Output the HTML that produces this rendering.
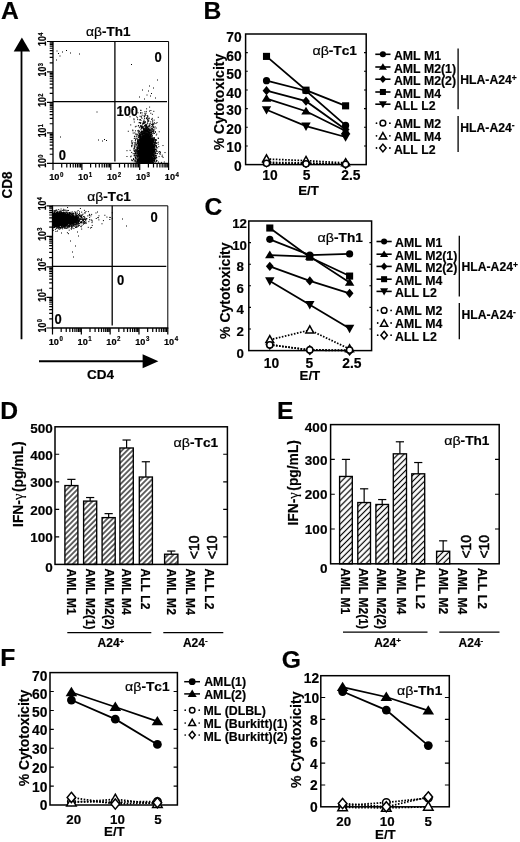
<!DOCTYPE html>
<html><head><meta charset="utf-8"><title>Figure</title>
<style>html,body{margin:0;padding:0;background:#fff}svg{display:block;will-change:transform}text{font-family:"Liberation Sans", sans-serif;fill:#000;font-kerning:none;stroke:#000;stroke-width:.18px}</style></head><body>
<svg width="520" height="842" viewBox="0 0 520 842">
<rect width="520" height="842" fill="#fff"/>
<defs><pattern id="h1" width="3.8" height="3.8" patternUnits="userSpaceOnUse" patternTransform="rotate(-45)"><rect width="3.8" height="3.8" fill="#fff"/><line x1="-1" y1="1.9" x2="4.8" y2="1.9" stroke="#000" stroke-width="1.2"/></pattern><pattern id="h2" width="4.2" height="4.2" patternUnits="userSpaceOnUse" patternTransform="rotate(-45)"><rect width="4.2" height="4.2" fill="#fff"/><line x1="-1" y1="2.1" x2="5.2" y2="2.1" stroke="#000" stroke-width="1.2"/></pattern></defs>
<text transform="translate(0.9 19.4) scale(1.02 1)" font-size="24.2" font-weight="bold">A</text>
<text transform="translate(203.4 18.5) scale(1.02 1)" font-size="24.2" font-weight="bold">B</text>
<text transform="translate(204.6 215) scale(1.02 1)" font-size="24.2" font-weight="bold">C</text>
<text transform="translate(0.2 418.9) scale(1.02 1)" font-size="24.2" font-weight="bold">D</text>
<text transform="translate(276.9 418.9) scale(1.02 1)" font-size="24.2" font-weight="bold">E</text>
<text transform="translate(0.2 666.4) scale(1.02 1)" font-size="24.2" font-weight="bold">F</text>
<text transform="translate(281.8 667.5) scale(1.02 1)" font-size="24.2" font-weight="bold">G</text>
<line x1="53" y1="41.5" x2="168.6" y2="41.5" stroke="#000" stroke-width="1"/>
<line x1="168.6" y1="41.5" x2="168.6" y2="163.4" stroke="#000" stroke-width="1"/>
<line x1="53" y1="41" x2="53" y2="164.05" stroke="#000" stroke-width="1.3"/>
<line x1="52.35" y1="163.4" x2="169.1" y2="163.4" stroke="#000" stroke-width="1.3"/>
<line x1="114.9" y1="41.5" x2="114.9" y2="161.6" stroke="#000" stroke-width="1.3"/>
<line x1="53" y1="101.6" x2="167" y2="101.6" stroke="#000" stroke-width="1.25"/>
<path d="M53 163.4v6.6M53 163.4h-6M61.7 163.4v4M53 154.23h-3.3M66.79 163.4v4M53 148.86h-3.3M70.4 163.4v4M53 145.05h-3.3M73.2 163.4v4M53 142.1h-3.3M75.49 163.4v4M53 139.69h-3.3M77.42 163.4v4M53 137.65h-3.3M79.1 163.4v4M53 135.88h-3.3M80.58 163.4v4M53 134.32h-3.3M81.9 163.4v6.6M53 132.93h-6M90.6 163.4v4M53 123.75h-3.3M95.69 163.4v4M53 118.38h-3.3M99.3 163.4v4M53 114.58h-3.3M102.1 163.4v4M53 111.62h-3.3M104.39 163.4v4M53 109.21h-3.3M106.32 163.4v4M53 107.17h-3.3M108 163.4v4M53 105.4h-3.3M109.48 163.4v4M53 103.84h-3.3M110.8 163.4v6.6M53 102.45h-6M119.5 163.4v4M53 93.28h-3.3M124.59 163.4v4M53 87.91h-3.3M128.2 163.4v4M53 84.1h-3.3M131 163.4v4M53 81.15h-3.3M133.29 163.4v4M53 78.74h-3.3M135.22 163.4v4M53 76.7h-3.3M136.9 163.4v4M53 74.93h-3.3M138.38 163.4v4M53 73.37h-3.3M139.7 163.4v6.6M53 71.97h-6M148.4 163.4v4M53 62.8h-3.3M153.49 163.4v4M53 57.43h-3.3M157.1 163.4v4M53 53.63h-3.3M159.9 163.4v4M53 50.67h-3.3M162.19 163.4v4M53 48.26h-3.3M164.12 163.4v4M53 46.22h-3.3M165.8 163.4v4M53 44.45h-3.3M167.28 163.4v4M53 42.89h-3.3M168.6 163.4v6.6M53 41.5h-6" stroke="#000" stroke-width="1.2" fill="none"/>
<text transform="translate(49.2 180.3) scale(0.96 1)" font-size="9.6" font-weight="bold">10<tspan font-size="6.4" dy="-3.7" dx="0.5">0</tspan></text>
<text transform="translate(46 167.8) rotate(-90) scale(0.86 1)" font-size="10" font-weight="bold">10<tspan font-size="6.6" dy="-3.4" dx="0.6">0</tspan></text>
<text transform="translate(78.1 180.3) scale(0.96 1)" font-size="9.6" font-weight="bold">10<tspan font-size="6.4" dy="-3.7" dx="0.5">1</tspan></text>
<text transform="translate(46 137.33) rotate(-90) scale(0.86 1)" font-size="10" font-weight="bold">10<tspan font-size="6.6" dy="-3.4" dx="0.6">1</tspan></text>
<text transform="translate(107 180.3) scale(0.96 1)" font-size="9.6" font-weight="bold">10<tspan font-size="6.4" dy="-3.7" dx="0.5">2</tspan></text>
<text transform="translate(46 106.85) rotate(-90) scale(0.86 1)" font-size="10" font-weight="bold">10<tspan font-size="6.6" dy="-3.4" dx="0.6">2</tspan></text>
<text transform="translate(135.9 180.3) scale(0.96 1)" font-size="9.6" font-weight="bold">10<tspan font-size="6.4" dy="-3.7" dx="0.5">3</tspan></text>
<text transform="translate(46 76.38) rotate(-90) scale(0.86 1)" font-size="10" font-weight="bold">10<tspan font-size="6.6" dy="-3.4" dx="0.6">3</tspan></text>
<text transform="translate(164.8 180.3) scale(0.96 1)" font-size="9.6" font-weight="bold">10<tspan font-size="6.4" dy="-3.7" dx="0.5">4</tspan></text>
<text transform="translate(46 45.9) rotate(-90) scale(0.86 1)" font-size="10" font-weight="bold">10<tspan font-size="6.6" dy="-3.4" dx="0.6">4</tspan></text>
<text transform="translate(86 36.2) scale(1.12 1)" font-size="12" font-weight="bold"><tspan font-weight="normal" font-size="12.4">αβ</tspan>-Th1</text>
<line x1="52.5" y1="205.8" x2="167.8" y2="205.8" stroke="#000" stroke-width="1"/>
<line x1="167.8" y1="205.8" x2="167.8" y2="328" stroke="#000" stroke-width="1"/>
<line x1="52.5" y1="205.3" x2="52.5" y2="328.65" stroke="#000" stroke-width="1.3"/>
<line x1="51.85" y1="328" x2="168.3" y2="328" stroke="#000" stroke-width="1.3"/>
<line x1="112.2" y1="205.8" x2="112.2" y2="325.4" stroke="#000" stroke-width="1.3"/>
<line x1="52.5" y1="266.3" x2="166.3" y2="266.3" stroke="#000" stroke-width="1.25"/>
<path d="M52.5 328v6.6M52.5 328h-6M61.18 328v4M52.5 318.8h-3.3M66.25 328v4M52.5 313.42h-3.3M69.85 328v4M52.5 309.61h-3.3M72.65 328v4M52.5 306.65h-3.3M74.93 328v4M52.5 304.23h-3.3M76.86 328v4M52.5 302.18h-3.3M78.53 328v4M52.5 300.41h-3.3M80.01 328v4M52.5 298.85h-3.3M81.33 328v6.6M52.5 297.45h-6M90 328v4M52.5 288.25h-3.3M95.08 328v4M52.5 282.87h-3.3M98.68 328v4M52.5 279.06h-3.3M101.47 328v4M52.5 276.1h-3.3M103.76 328v4M52.5 273.68h-3.3M105.68 328v4M52.5 271.63h-3.3M107.36 328v4M52.5 269.86h-3.3M108.83 328v4M52.5 268.3h-3.3M110.15 328v6.6M52.5 266.9h-6M118.83 328v4M52.5 257.7h-3.3M123.9 328v4M52.5 252.32h-3.3M127.5 328v4M52.5 248.51h-3.3M130.3 328v4M52.5 245.55h-3.3M132.58 328v4M52.5 243.13h-3.3M134.51 328v4M52.5 241.08h-3.3M136.18 328v4M52.5 239.31h-3.3M137.66 328v4M52.5 237.75h-3.3M138.98 328v6.6M52.5 236.35h-6M147.65 328v4M52.5 227.15h-3.3M152.73 328v4M52.5 221.77h-3.3M156.33 328v4M52.5 217.96h-3.3M159.12 328v4M52.5 215h-3.3M161.41 328v4M52.5 212.58h-3.3M163.33 328v4M52.5 210.53h-3.3M165.01 328v4M52.5 208.76h-3.3M166.48 328v4M52.5 207.2h-3.3M167.8 328v6.6M52.5 205.8h-6" stroke="#000" stroke-width="1.2" fill="none"/>
<text transform="translate(48.7 344.9) scale(0.96 1)" font-size="9.6" font-weight="bold">10<tspan font-size="6.4" dy="-3.7" dx="0.5">0</tspan></text>
<text transform="translate(45.5 332.4) rotate(-90) scale(0.86 1)" font-size="10" font-weight="bold">10<tspan font-size="6.6" dy="-3.4" dx="0.6">0</tspan></text>
<text transform="translate(77.53 344.9) scale(0.96 1)" font-size="9.6" font-weight="bold">10<tspan font-size="6.4" dy="-3.7" dx="0.5">1</tspan></text>
<text transform="translate(45.5 301.85) rotate(-90) scale(0.86 1)" font-size="10" font-weight="bold">10<tspan font-size="6.6" dy="-3.4" dx="0.6">1</tspan></text>
<text transform="translate(106.35 344.9) scale(0.96 1)" font-size="9.6" font-weight="bold">10<tspan font-size="6.4" dy="-3.7" dx="0.5">2</tspan></text>
<text transform="translate(45.5 271.3) rotate(-90) scale(0.86 1)" font-size="10" font-weight="bold">10<tspan font-size="6.6" dy="-3.4" dx="0.6">2</tspan></text>
<text transform="translate(135.18 344.9) scale(0.96 1)" font-size="9.6" font-weight="bold">10<tspan font-size="6.4" dy="-3.7" dx="0.5">3</tspan></text>
<text transform="translate(45.5 240.75) rotate(-90) scale(0.86 1)" font-size="10" font-weight="bold">10<tspan font-size="6.6" dy="-3.4" dx="0.6">3</tspan></text>
<text transform="translate(164 344.9) scale(0.96 1)" font-size="9.6" font-weight="bold">10<tspan font-size="6.4" dy="-3.7" dx="0.5">4</tspan></text>
<text transform="translate(45.5 210.2) rotate(-90) scale(0.86 1)" font-size="10" font-weight="bold">10<tspan font-size="6.6" dy="-3.4" dx="0.6">4</tspan></text>
<text transform="translate(87.2 201.4) scale(1.12 1)" font-size="12" font-weight="bold"><tspan font-weight="normal" font-size="12.4">αβ</tspan>-Tc1</text>
<text transform="translate(154.4 61.5) scale(0.93 1)" font-size="14" font-weight="bold">0</text>
<text transform="translate(116.4 116.2) scale(0.93 1)" font-size="14" font-weight="bold">100</text>
<text transform="translate(58.8 160.1) scale(0.93 1)" font-size="14" font-weight="bold">0</text>
<text transform="translate(150.4 222.1) scale(0.93 1)" font-size="14" font-weight="bold">0</text>
<text transform="translate(117 284.6) scale(0.93 1)" font-size="14" font-weight="bold">0</text>
<text transform="translate(54.5 324.3) scale(0.93 1)" font-size="14" font-weight="bold">0</text>
<path d="M144.8 147.65h1M147.47 138.59h1M143.57 148.79h1M143.43 145.34h1M153.27 146.94h1M151.03 159.8h1M145.96 151.16h1M146.7 159.2h1M148.6 146h1M150.46 144.11h1M149.53 153.13h1M140.54 139.79h1M146.67 152.14h1M146.49 143.99h1M150.88 152.17h1M149.06 156.63h1M137.79 126.01h1M144.15 149.12h1M152.11 160.77h1M143.89 148.9h1M143.5 153.41h1M147.46 161.87h1M158.27 152.17h1M141.62 158.54h1M143.35 157.64h1M146.08 155.78h1M146.78 141.03h1M147.64 153.85h1M145.6 155.6h1M150.84 132.86h1M142.82 157.54h1M142.36 158.25h1M136.36 145.71h1M138.34 154.52h1M142.24 154.4h1M147.78 151.76h1M140.66 153.96h1M146.07 143.25h1M141.45 152.14h1M146.9 158.47h1M136.4 136.94h1M144.82 156.49h1M139.59 134.5h1M141.81 161.9h1M140.5 157.73h1M146.72 146.93h1M147.07 153.48h1M142.66 146.84h1M146.89 143.23h1M150.86 147.3h1M145.87 152.12h1M146.56 143.42h1M145.55 146.46h1M149.52 143.95h1M150.78 146.18h1M142.01 139.84h1M139.56 141.31h1M145.69 158.05h1M148.56 162.49h1M143.02 143.69h1M148.96 148.88h1M145.56 148.14h1M145.8 141.19h1M148.21 146.89h1M148.93 132.86h1M141.87 156.52h1M145.51 145.94h1M136.61 149.28h1M143.06 155.4h1M140.85 117.19h1M140.4 152.3h1M149.79 145.05h1M148.42 132.83h1M148.29 153.92h1M149.51 156.11h1M143.64 141.11h1M143.17 159.6h1M142.01 134.5h1M142.77 155.51h1M146.47 134.29h1M145.8 144.75h1M141.08 140.98h1M148.79 154.18h1M147.29 150.11h1M149.54 151.39h1M152.72 149.3h1M141.71 152.39h1M148.92 160.54h1M145.09 155.19h1M149.16 151.93h1M146.33 133.41h1M154.06 151.55h1M145.15 162.14h1M153.41 137.9h1M145.72 142.01h1M148.7 137.62h1M146.06 150.05h1M142.68 160.55h1M147.88 162.55h1M146.2 143.52h1M139.49 140.26h1M143.41 132.95h1M145.47 148.52h1M141.98 148.87h1M143.72 150.4h1M145.46 158.26h1M149.87 152.77h1M149.43 148.56h1M143.3 152.59h1M151.77 141.35h1M143.54 151.13h1M147.38 153.51h1M149.23 159.47h1M139.48 153.44h1M141.61 149.79h1M144.03 161.4h1M146.46 152.08h1M144.85 150.08h1M148.21 146.24h1M139.17 151.65h1M136.81 161.13h1M141.05 155.2h1M146.98 157.73h1M148.34 159.01h1M144.53 153.32h1M145.06 160.88h1M146.02 159.11h1M143.23 150.9h1M143.97 159.16h1M145.53 140.18h1M140.83 156.04h1M138.58 156.23h1M151.98 153.29h1M149.46 159.6h1M147.39 155.07h1M147.77 152.19h1M150.7 154.18h1M143.88 153.48h1M144.42 147.04h1M147.55 149.56h1M142.39 155.27h1M150.75 151.16h1M147.58 162.64h1M143.05 143.14h1M146.33 146.06h1M144.07 151.1h1M144.54 154.86h1M145.53 143.73h1M148.25 161.81h1M148.08 138.68h1M142.65 161.94h1M148.4 145.67h1M144.41 147.71h1M139.06 147.47h1M147.27 144.39h1M139.5 151.05h1M144.17 149.8h1M149.68 143.89h1M150.36 146.73h1M144.63 139.57h1M143.98 153.76h1M145.14 151.85h1M138.41 162.57h1M153.67 148.53h1M142.57 155.57h1M151.22 153.56h1M145.17 138.94h1M150.39 156.75h1M153.09 151.8h1M148.51 144.29h1M154.28 149.63h1M142.95 159.25h1M148.44 143.71h1M142.21 155.23h1M140.87 145.06h1M143.76 148.15h1M142.01 152.85h1M142.33 150.12h1M147.3 158.67h1M143.42 136.02h1M143.39 150.27h1M144.15 146.03h1M141.99 160.92h1M152.44 150.27h1M150.32 143.7h1M150.55 149.99h1M141.8 148.79h1M143.12 146.94h1M144.06 140.96h1M144.47 158.4h1M142.74 151.64h1M142.76 149.63h1M148.87 151.36h1M146.64 160.67h1M148.41 152.47h1M149.15 148.17h1M141.62 155.3h1M140.09 147.43h1M150.66 145.34h1M146.58 155.5h1M150 157.68h1M143.38 153.53h1M146.81 123.26h1M143.35 156.29h1M141.04 152.52h1M142.38 148.9h1M135.29 152.15h1M145 157.13h1M142.67 148.97h1M145.08 150.84h1M151.28 153.18h1M147.98 148.3h1M143.67 147.05h1M150.44 150.19h1M145.07 151.56h1M151.18 153.46h1M142.3 146.05h1M147.95 142.74h1M150.53 146.74h1M144.6 160.76h1M143.86 140.43h1M147.43 150.6h1M141.85 162.01h1M138.48 160.52h1M148.04 152.74h1M149.59 146.7h1M149.92 157.63h1M145.95 148.83h1M144.23 154.25h1M146.45 149.6h1M142.11 156.82h1M138.81 143.17h1M141.5 152.22h1M151.2 143.78h1M143.35 152.16h1M136.16 148.12h1M141.46 161h1M146.53 159.71h1M145.6 142.68h1M145.85 149.83h1M140.27 155.91h1M145.48 149.17h1M149.27 155.47h1M143.09 139.78h1M149.66 131.7h1M141.38 150.25h1M147.27 144.45h1M144.68 143.04h1M148.1 153.92h1M144.31 144.91h1M151.04 141.4h1M141.4 153.87h1M144.85 156.83h1M142.2 161.19h1M147.24 134.2h1M140.88 152.48h1M144.59 152.71h1M143.33 160.78h1M140.68 138.98h1M147.41 155.88h1M141.43 149.01h1M148.74 147.97h1M144.99 141.87h1M153.44 159.65h1M142.14 145.88h1M141.79 151.59h1M144.56 148.96h1M147.49 148.89h1M144.04 160.68h1M147.35 144.72h1M147.16 150.79h1M145.01 151.18h1M135.62 157.55h1M146.23 150.5h1M145.9 145.34h1M144.44 147.74h1M140.55 152.42h1M142.15 149.94h1M144.87 148.39h1M143.68 132.05h1M145.15 153.42h1M144.23 138.24h1M145.77 142.89h1M142.1 143.48h1M149.07 137.99h1M141.11 136.62h1M135.41 143.87h1M150.05 153.65h1M142.22 155.62h1M147.1 159.89h1M143.9 143.8h1M146.96 136.75h1M140.8 148.92h1M147.83 149.24h1M145.83 145.26h1M144.72 141.25h1M150.86 134.46h1M150.87 150.85h1M144.09 148.71h1M148.98 141.8h1M152.41 141.53h1M140.1 154.06h1M144.12 156.52h1M144.25 152.01h1M147.08 155.73h1M146.34 154.28h1M150.76 152.65h1M136.77 153.53h1M142.03 155.56h1M143.73 135.38h1M149.68 145.86h1M149.2 143.7h1M145.15 150.42h1M147.18 137h1M146.72 142.03h1M143.9 151.61h1M147 146.08h1M144.09 159.63h1M153.9 146.81h1M151.1 140.04h1M145.19 145.86h1M148.33 147.3h1M153.76 149.67h1M145.07 148.57h1M141.97 141.76h1M146.88 152.49h1M150.68 147.09h1M140.1 157.36h1M145.04 152.1h1M142.81 151.58h1M146 161.49h1M139.77 159.11h1M141.02 147.59h1M155.79 135.06h1M142.91 159.37h1M142.67 150.76h1M148.08 153.56h1M141.09 161.38h1M148 141.56h1M149.58 135.09h1M148.21 132.86h1M142.44 136.37h1M142.06 161.26h1M151.5 149.91h1M145.97 147.36h1M150.22 153.05h1M148.08 156.24h1M143.5 148.27h1M145.39 143.8h1M141.17 150h1M144.94 147.19h1M141.08 141.05h1M149.91 157.81h1M148.07 154.76h1M150.51 148.83h1M149.36 160.9h1M143.91 146.51h1M142.17 141.08h1M142.89 131.29h1M150.38 130.14h1M147.38 147.35h1M146.05 144.86h1M149.55 140.81h1M141.17 151.31h1M144.57 130.89h1M150.7 157.44h1M139.32 145.8h1M141.6 138.63h1M150.44 145.45h1M144.99 135.18h1M136.05 162.14h1M141.57 151.72h1M151.84 145.75h1M147.45 161.19h1M146.19 146h1M143.49 158.11h1M143.75 153.08h1M146.01 154.83h1M140.5 137.88h1M154.08 151.29h1M147.8 140.76h1M144.86 159.68h1M142.02 149.52h1M141.79 150.64h1M154.23 150.58h1M145.89 144.79h1M152.69 140.91h1M139.43 131.82h1M142.58 141.14h1M147.76 144.12h1M146.01 150.09h1M160.92 162.39h1M144.61 149.33h1M148.93 131.18h1M144.18 146h1M146.11 159.77h1M142.88 146.42h1M150.81 142.2h1M145.01 148.24h1M147.33 155.78h1M149.27 156.63h1M147.68 142.62h1M146.99 141.26h1M145.56 146.43h1M151.12 160.02h1M147.81 152.79h1M147.38 150.33h1M146.36 152.22h1M143.05 146.63h1M143.4 153.08h1M157.99 162.08h1M149.34 150.49h1M141.8 160.41h1M141.24 139.53h1M141.29 138.55h1M142.09 155.88h1M140.27 140.09h1M147.36 149.87h1M139.41 157.8h1M142.74 162.54h1M143.59 140.07h1M143.21 153.52h1M145.48 140.5h1M146.51 150.05h1M146.66 151.76h1M150.4 136.73h1M150.62 132.93h1M148.92 156.02h1M139.64 148.51h1M139.55 146.27h1M146.76 150.18h1M146.94 136.39h1M144.05 162.14h1M147.27 157.82h1M144.48 156.7h1M136.91 156.41h1M145.86 152.95h1M147.51 146.54h1M152.88 155.91h1M153.67 143.7h1M144.64 155.67h1M148.57 144.52h1M146.1 155.87h1M148.05 140.84h1M141.46 145.77h1M139.75 153.35h1M147.73 140.58h1M147.16 143h1M138.01 131.95h1M147.57 148.69h1M142.05 132.91h1M144.74 158.04h1M147.19 160.58h1M143.25 140.81h1M144.19 153.21h1M147.8 154.06h1M141.48 151.93h1M151.03 145.43h1M138.73 159.04h1M142.04 162.75h1M148.17 141.55h1M139.44 150.12h1M147.39 156.19h1M144.89 157.92h1M142.93 159.08h1M146.02 135.1h1M144.36 154.94h1M147.29 156.35h1M147.83 147.96h1M147.81 152.27h1M145.92 140.2h1M144.42 157.84h1M142.77 142.63h1M146.3 135.97h1M143.57 162.16h1M147.15 147.44h1M142.02 142.49h1M145.28 159.58h1M138.04 145.38h1M151.09 156.48h1M151.5 145.81h1M147.65 156.11h1M144.56 151.94h1M148.96 149.13h1M145.93 140.64h1M138.3 146.32h1M141.85 159.06h1M145.91 139.53h1M146.1 162.33h1M143.73 139.88h1M143.1 144.83h1M148.51 145.25h1M143.17 155.43h1M149.25 139.42h1M148.53 140.96h1M145.38 130.91h1M154.57 157.68h1M147.82 156.36h1M151.41 149.96h1M150.53 141.11h1M142.63 155.42h1M144.31 153.08h1M138.77 160.82h1M148.05 151.58h1M146.7 141.82h1M140.38 152.94h1M143.65 151.27h1M146.07 138.16h1M152.26 158.74h1M141.81 150.34h1M143.18 159.47h1M142.77 147.47h1M150.36 143.75h1M147.56 157.76h1M140.19 149.65h1M146.4 144.97h1M147.95 137.05h1M147.73 152.51h1M146.52 144.22h1M146.04 144.62h1M140.72 157.41h1M134.1 147.86h1M148.08 150.01h1M146.08 141.94h1M150.66 148.81h1M139.02 141.09h1M149.85 150.51h1M153.64 158.32h1M144.66 157.7h1M141.9 151.89h1M148.24 141.3h1M143.05 141.81h1M143.06 151.39h1M147.66 157.78h1M147 142.7h1M146.34 150.69h1M148.99 143.81h1M145.4 144.44h1M142.81 133.85h1M145.2 160.04h1M141.15 133.09h1M143.65 159.18h1M144.08 160.65h1M143.75 137.83h1M146.1 156.45h1M146.2 146.05h1M147.33 149.91h1M146.1 148.79h1M146.58 151.15h1M141.93 124.91h1M149.51 157.62h1M143.55 151.04h1M142.14 146.24h1M152.74 146.47h1M142 155.4h1M148.33 146.43h1M142.12 137.42h1M154.57 144.05h1M142.41 160.21h1M147.6 150.54h1M148.03 144.33h1M151.41 129.27h1M153.17 160.22h1M147.72 150.36h1M147.57 161.33h1M152.08 151.98h1M140.96 128.1h1M145.97 149.35h1M143.5 137.05h1M139.99 141.33h1M146.33 156.21h1M143.84 139.44h1M143.58 154.83h1M145.23 156.71h1M146.83 148.48h1M147.95 144.73h1M139.77 142.86h1M145.17 152.17h1M146.54 148.65h1M143.33 144.53h1M144.66 156.72h1M146.52 152.34h1M146.09 135.99h1M149.68 160.33h1M144.53 156.8h1M143.51 150.91h1M144.4 137.25h1M144.97 142.28h1M141.38 143.27h1M148.36 147.51h1M151.53 145.26h1M146.73 140.06h1M142.94 151.85h1M141.89 144.07h1M147.16 134.96h1M145.11 144.16h1M147.15 131.62h1M146.15 160.55h1M144.57 144.05h1M143.84 156.11h1M148.56 137.62h1M143.59 151.32h1M143.29 141.58h1M149.1 136.98h1M141.81 161.92h1M152.78 155.26h1M146.2 152.2h1M144.53 153.11h1M138.64 148.21h1M149.43 140.18h1M142.19 153.27h1M141.64 141.55h1M144 135.37h1M151.32 148.81h1M141.68 155.7h1M142.08 143.69h1M148.54 156.87h1M143.69 155.11h1M143.55 158.97h1M142.87 158.18h1M146.97 155.39h1M145.87 160.99h1M141.97 141.35h1M148.9 138.17h1M145.66 159.45h1M148.9 141.34h1M152.82 155.16h1M145.69 133.48h1M140.26 148.92h1M149.06 155.07h1M145.66 143.43h1M145.31 151.57h1M145.41 146.71h1M150.42 153.68h1M143.91 157.41h1M151.03 140.87h1M148.8 151.52h1M144.64 151.78h1M146.78 146.51h1M147.72 145.57h1M141.92 152.86h1M140.66 141.87h1M149.26 157.24h1M142.79 140.97h1M139.38 139h1M144.14 138.29h1M141.86 154.4h1M148.7 152.75h1M139.34 159.61h1M147.72 157.87h1M149.21 147.09h1M139.87 158.91h1M144.04 159.42h1M151.13 153.05h1M142.1 145.9h1M152.79 146.13h1M150.49 151.52h1M139.79 155.7h1M145.49 139.22h1M150.96 153.39h1M145.5 139.77h1M143 147.77h1M134.41 159.85h1M146.42 160.88h1M150.62 147.41h1M143.36 140.48h1M147.53 134.73h1M147.14 155.74h1M147.9 143.55h1M140.6 150.3h1M153.52 156.21h1M143.64 157.73h1M144.98 143.21h1M139.76 155.81h1M145.64 159.83h1M147.24 144.55h1M153.6 127.27h1M144.16 140.72h1M139.01 153.76h1M146.18 141.06h1M144.89 157.97h1M146.22 159.49h1M144.05 150.61h1M144.04 142.48h1M142.38 152.03h1M144.65 142.34h1M150.36 136.68h1M143.91 140.8h1M148.96 128.96h1M144.3 158.72h1M146.22 146.24h1M141.76 145.49h1M148.54 142.19h1M144.49 148.64h1M146.87 152.77h1M142.15 145.15h1M140.6 159.4h1M146.36 154.84h1M149.32 143.92h1M142.48 141.19h1M145.66 154.57h1M149.84 159.42h1M143.14 159.08h1M145.51 146.34h1M148.27 148.09h1M147.62 156.3h1M146.31 139.97h1M146.4 148.02h1M144.56 155.79h1M145.6 157.85h1M150.43 143.26h1M142.4 139.18h1M144.58 162.58h1M147.62 148.55h1M146.16 152.03h1M145.14 147.68h1M151.44 138.48h1M139.81 149.28h1M139.08 159.6h1M149.18 141.9h1M142.64 144.98h1M153.65 137.57h1M142.28 155.87h1M147.55 148.34h1M145.29 141.01h1M140.13 147.65h1M151.76 159.86h1M145.6 156.51h1M149.11 161.91h1M143.83 128.71h1M142.23 152.11h1M150 142.05h1M145.83 137.66h1M143.91 148.2h1M145.96 150.4h1M140.15 140.89h1M151.29 151.21h1M144.91 162.7h1M144.61 154.94h1M140.67 147.44h1M147.36 160.37h1M142.32 161.18h1M143.64 148.49h1M147.6 155.97h1M152 124.44h1M147.87 145.97h1M138.94 152.97h1M144.9 148.99h1M142.37 147.82h1M150.62 135.41h1M144.01 149.22h1M146.21 138.17h1M145.8 136.48h1M149.33 148.48h1M148.5 150.57h1M143.7 157.82h1M153.09 160h1M143.05 147.33h1M144.92 160.05h1M144.19 152.13h1M144.12 153.92h1M140.54 145.8h1M147.66 148.68h1M145.24 153.36h1M147.16 147.74h1M145.2 138.59h1M145.72 156.31h1M155.8 147.71h1M142.54 155.76h1M143.62 146.32h1M137.73 143.2h1M142.96 162.12h1M156 157.63h1M151.26 148.83h1M148.08 131.14h1M143.64 143.69h1M147.6 148.24h1M152.45 160.38h1M141.8 155.02h1M148.25 158.36h1M149.33 141.9h1M151.46 155.84h1M142.65 144.81h1M147.45 148.74h1M152.28 154.02h1M141.12 156.17h1M145.61 143.76h1M141.31 145.62h1M144.44 137.68h1M147.56 143.1h1M145.6 149.95h1M142.97 152.77h1M146.76 145.3h1M151.32 151.58h1M144.42 140.74h1M141.72 154.38h1M146.34 141.64h1M139.03 144.71h1M143.81 152.28h1M147.72 130.44h1M140.97 153.15h1M143.99 157.77h1M150.19 154.61h1M144.38 162.63h1M151.76 143.87h1M147.06 155.33h1M139.48 154.42h1M142.09 143.7h1M148.14 144.72h1M149 158.9h1M146.65 148.87h1M149.3 140.7h1M146.17 152.19h1M138.69 149.8h1M147.91 145.22h1M145.95 161.69h1M148.14 135.9h1M145.28 143.23h1M148.73 160.47h1M146.15 149.36h1M143.65 160.62h1M145.1 162.37h1M147.22 147.51h1M147.96 154.29h1M153.92 147.52h1M149.27 157.48h1M141.97 161.35h1M145.11 146.47h1M146.38 148.55h1M146.3 155.31h1M144.35 153.95h1M139.38 155.65h1M140.6 149.4h1M151.46 146.81h1M148.15 152.28h1M144.35 152.25h1M149.32 153.28h1M146.62 142.29h1M146.23 145.98h1M143.37 161.06h1M146.97 135.98h1M149.95 147.4h1M150.21 147.91h1M149.74 153.68h1M147.59 142.68h1M141.94 150.21h1M143.47 152.1h1M147.9 146.89h1M151.38 159.01h1M146 159.55h1M146.64 136.89h1M145.61 160.16h1M135.48 150.29h1M139.53 145.63h1M149.9 160.63h1M147.76 129.17h1M140.57 142.21h1M147.1 145.88h1M138.9 152.16h1M141.63 133.44h1M145.8 155.21h1M147.56 137.71h1M143.48 151.05h1M143.62 148.76h1M148.45 138.74h1M147.29 140.2h1M141.18 131.16h1M151.15 149h1M146.64 145.72h1M142.27 155.36h1M143.45 159.16h1M143.19 153.11h1M149.65 162.22h1M142.05 137.45h1M147.67 147.46h1M145.57 150.98h1M141.2 146h1M147.82 162.61h1M142.23 153.08h1M140.31 152.7h1M145.38 145.04h1M145.18 157.33h1M152.04 150.23h1M140.33 148.55h1M143.47 159.37h1M149.47 154.15h1M154.18 161.66h1M147.27 141.58h1M146.73 156.9h1M147.99 131.63h1M143.6 142.06h1M142.78 139.82h1M152.2 154.41h1M144.43 149.71h1M151.73 154.68h1M147.4 146.67h1M142.97 145.83h1M141.15 152.91h1M140.81 153.67h1M141.08 160.33h1M144.35 151.52h1M149.84 161.27h1M142.07 159.07h1M143.79 136.13h1M143.6 160.05h1M151.91 160.67h1M142.42 154.93h1M146.55 143.18h1M140.49 132.81h1M147.11 151.6h1M151.81 148.45h1M148.99 126.23h1M146.91 155.75h1M148.13 156.49h1M144.89 159.19h1M147.55 152.03h1M150.94 147.73h1M149.09 139.07h1M148.12 142.09h1M143.39 138.71h1M143.34 158.91h1M142.67 156.89h1M149.79 155.13h1M143.18 153.07h1M152.93 154.32h1M150.51 152.57h1M146.81 151.25h1M146.01 150.08h1M146.57 152.38h1M140.16 157.1h1M142.99 149.18h1M143.39 158.36h1M144.11 150.3h1M141.91 160.72h1M141.45 146.98h1M140.41 156.97h1M141.75 139h1M144.12 140.53h1M148.58 154.28h1M145.84 159.47h1M148.01 150.92h1M143.71 139.01h1M144.51 148.16h1M147.19 148.58h1M149.6 146.33h1M146.59 154.28h1M145.94 155.19h1M145.88 148.15h1M143.36 130.27h1M150.39 150.58h1M141.85 133.35h1M151.55 154.97h1M148.83 152.3h1M149.16 150.34h1M145.1 144.82h1M148.07 136.24h1M139.63 135.96h1M140.57 153.03h1M143.55 120h1M141.18 138.83h1M143.65 144.14h1M142.76 150.69h1M143.33 139.91h1M146.88 154.96h1M142.38 138.88h1M143.51 146.67h1M143.4 146.7h1M149.18 153.13h1M145.29 157.09h1M144.51 149.01h1M145.09 146.56h1M140.15 137.79h1M144.65 143.77h1M148.84 160.5h1M146.54 147h1M142.03 136.05h1M136.92 151.58h1M143.01 151.51h1M144.35 151.01h1M147.54 151.09h1M147.08 152.64h1M141.44 152.55h1M146.6 142.61h1M153.83 160.38h1M143.13 150.92h1M150.94 156.03h1M141.81 157.53h1M148.15 162.07h1M141.03 152.24h1M145.59 139.47h1M142.69 138.32h1M151.83 138.52h1M142.04 145.51h1M154.97 149.3h1M143.3 143.35h1M146.02 140.15h1M145.06 154.42h1M141.08 144.75h1M148.01 151.6h1M150.96 154.33h1M141.76 151.2h1M149.23 153.54h1M142.43 142.51h1M138.46 154.87h1M145.06 160.49h1M146.9 138.16h1M147.51 138.79h1M144.91 160.13h1M153.88 149.68h1M145.84 155.95h1M149.05 145.55h1M143.23 153.51h1M145.32 143.81h1M147.72 150.35h1M146.86 127.55h1M139.04 138.83h1M147.65 143.09h1M152.85 141.96h1M143.46 159.59h1M144.51 144.89h1M145.52 149.98h1M144.48 162.78h1M145.95 146.33h1M147.64 151.3h1M147.83 146.98h1M138.73 152.83h1M150 146.79h1M151.72 145.31h1M144.27 154.82h1M145.56 144.37h1M145.81 144.31h1M145.44 148.61h1M138.99 155.76h1M144.19 153.29h1M150 143.33h1M154.12 146.43h1M140.97 149.18h1M146.9 156.41h1M141.59 159.6h1M144.94 144.51h1M141.7 161.4h1M139.63 146.56h1M141.39 134.14h1M141.32 155.36h1M147.18 160.81h1M144.71 151.39h1M139.97 144.35h1M140.05 136.29h1M141.22 159.05h1M146.44 154.15h1M143.81 143.63h1M146.9 144.94h1M144.61 153.59h1M143.85 156.48h1M140.68 141.06h1M150.14 151.1h1M143.18 160.99h1M142.48 151.4h1M148.63 156.52h1M143.21 141.32h1M146.83 147.5h1M148.87 153.51h1M141.57 157.57h1M147.29 123.88h1M136.97 140.08h1M148.56 147.22h1M147.76 151.54h1M146.92 153.56h1M142.91 150.08h1M142.42 152.08h1M144.3 156.72h1M154.99 141.04h1M140.29 142.61h1M142.99 150.52h1M148.65 154.15h1M144.06 145.73h1M144.9 148.86h1M150.82 148.75h1M143.98 154.38h1M146.88 152.81h1M142.74 161.17h1M146.14 138.17h1M142.79 142.4h1M153.12 151.18h1M144.37 148.54h1M138.31 142.29h1M143.93 161.08h1M145.53 148.27h1M138.89 147.69h1M145.64 155.05h1M148.81 155.84h1M143.69 148.29h1M152.75 152.16h1M152.07 144.04h1M147.37 140.21h1M144.84 143h1M141.79 156.07h1M144.45 140.41h1M143.33 140.99h1M145.52 154h1M145.45 150.57h1M150.25 158.17h1M141.32 141.02h1M143.13 158.21h1M148.73 146.59h1M145.35 140.3h1M145 144.75h1M149.2 152.49h1M153.23 139.92h1M147.08 160.74h1M146.66 154.56h1M141.2 142.23h1M147.65 131.57h1M147.9 148.02h1M150.04 143.56h1M145.81 149.17h1M147.75 147.42h1M146.23 155.67h1M146.23 156.42h1M142.82 159.58h1M144.4 154.38h1M146.84 149.29h1M155.19 158.61h1M142.17 157.74h1M148.92 157.64h1M146.4 153.75h1M146.78 147.45h1M144.72 145.93h1M153.03 152.78h1M151.44 162.16h1M146.12 156.57h1M143.64 159.22h1M143.22 140.44h1M145.78 141.97h1M149.52 154.3h1M149.23 146.06h1M144.94 155.38h1M143.28 144.09h1M143.79 153.34h1M140.71 158.76h1M141.4 139.21h1M143.23 154.53h1M146.03 152.26h1M145.3 154.59h1M143.77 158.97h1M146.64 152.48h1M138.39 161.98h1M141.39 144.64h1M145.61 149.81h1M143.14 149.21h1M141.33 142.95h1M147.86 159.22h1M146.9 149.95h1M140.64 151.75h1M142.97 140.03h1M143.61 152.78h1M139.79 156.36h1M148.2 144.3h1M138.49 156.51h1M148.88 129.67h1M147.15 143.17h1M141.71 156.17h1M149 161.96h1M143.42 152.78h1M146.89 154.89h1M141.63 146.54h1M144.26 154.77h1M144.35 160.33h1M144.01 141.34h1M136.12 150.89h1M147.68 150.37h1M143.63 148.66h1M143.78 155.18h1M142.46 158.13h1M139.27 143.09h1M145.19 153.24h1M143.47 147.76h1M153.45 141.43h1M143.48 142.78h1M143.05 138.15h1M143.66 157.74h1M145.3 159.9h1M150.31 159.25h1M149.71 151.39h1M137.5 155.51h1M146.29 152.38h1M139.05 161.93h1M147.55 156.87h1M140.21 150.23h1M146.24 138.39h1M140.67 141.61h1M144.49 130.45h1M144.15 146.3h1M150.46 149.44h1M136.88 138.93h1M143.37 145.39h1M150.95 161.39h1M150.13 149.54h1M147.97 140.75h1M146.63 153.78h1M146.97 141.03h1M147.48 146.5h1M145.27 153.39h1M143.66 151.33h1M142.79 157.5h1M144.96 154.88h1M144.03 137.78h1M142.82 141.84h1M146.09 141.54h1M145.16 152.55h1M140.32 147.39h1M142.36 158.28h1M147.02 160.62h1M143.48 148.26h1M149.41 145.93h1M144.6 139.51h1M147.59 144.43h1M148.41 131.42h1M147.09 153.12h1M149.51 157.22h1M136.57 152.27h1M147.38 143.74h1M145.5 155.29h1M132.34 142.26h1M141.8 149.61h1M142.93 160.81h1M143.08 137.35h1M145.48 136.23h1M141.66 155.71h1M145.12 149.66h1M143.89 148.13h1M150.33 156.73h1M143.11 156.55h1M144.14 139.25h1M145.39 159.18h1M145.19 140.96h1M147.14 152.57h1M145.09 140.32h1M143.54 160.81h1M146.78 153.14h1M142.13 155.41h1M144.92 156.2h1M148.11 159.11h1M140.71 160.31h1M146.06 149.18h1M148.98 157.53h1M149.81 155.61h1M144.05 151.21h1M151.4 153.42h1M147.78 127.92h1M148 147.52h1M147.27 154.72h1M144.54 147.01h1M148.48 155.97h1M143.62 131.59h1M150.73 158.65h1M147.34 153.16h1M147.84 142.19h1M146.35 132.99h1M147.33 147.98h1M150.59 152.02h1M147.84 151.76h1M147.29 141.91h1M142.61 134.88h1M140.78 152.2h1M143.51 154.27h1M152.83 146.75h1M142.01 152.78h1M145.18 150.47h1M146.19 158.01h1M149.28 156.56h1M141.33 144.65h1M145.04 153.17h1M153.23 155.66h1M144.46 155.46h1M146.01 151.79h1M146.14 145.76h1M144.49 146.8h1M142.84 145.61h1M155.21 155.61h1M146.45 150.38h1M145.56 150.75h1M145.58 153.1h1M147.51 155.24h1M144.52 139.95h1M142.84 122.83h1M143.42 147.31h1M156.27 153.66h1M149.22 151.65h1M151.5 156.76h1M147.7 137.32h1M150.57 139.29h1M148.2 152.16h1M141.82 143.75h1M152.14 162.52h1M142.41 154.03h1M145.8 155.83h1M153.21 139.3h1M158.32 146.61h1M149.36 145.75h1M150.28 159.29h1M138.38 145.97h1M154.99 145.08h1M148.88 130.27h1M142.68 152.37h1M133.94 136.69h1M140.55 156.8h1M139.01 157.28h1M155.85 150.65h1M143.94 160.51h1M140.47 150.93h1M145.56 152.71h1M143.66 151.17h1M149.36 149.85h1M142.85 136.88h1M152.17 142.64h1M141.98 138.37h1M144.02 152.23h1M145.06 136.61h1M143.95 151.78h1M137.64 151.26h1M144.36 155.48h1M147.32 145.51h1M141.6 142.22h1M147.79 139.64h1M145.36 158.6h1M151.22 160.6h1M148.98 143.94h1M143.88 156.24h1M147.58 151.16h1M141.22 147.28h1M143.59 147.42h1M148.4 143.96h1M138.07 151.22h1M155.46 140.16h1M148.45 144.61h1M148.5 150.04h1M138.58 157.34h1M147.16 139.81h1M144.13 144.32h1M138.65 153.08h1M144.54 151.75h1M141.62 138.48h1M147.17 140.8h1M151.66 143.44h1M148.55 142.81h1M150.89 154.54h1M141.05 154.53h1M141.17 132.38h1M139.85 136.62h1M148.01 149.79h1M147.32 150.1h1M140.42 147.58h1M149.22 160.31h1M145.15 154.77h1M149.28 149.24h1M144.24 148.45h1M147.67 158.84h1M143.62 147.45h1M146.5 148.1h1M145.34 151.92h1M144.63 153.49h1M143.31 146.59h1M141.61 160.23h1M149.74 139.07h1M149.32 136.25h1M143.6 141.04h1M140.19 153.17h1M148.59 152.1h1M141.06 161.68h1M151.56 146.13h1M146.72 148.35h1M148.39 141.96h1M144.25 139h1M147.44 161.36h1M141.23 143.66h1M139.58 139.58h1M152.31 131.33h1M144.93 150.69h1M142.37 156.56h1M147.05 156.56h1M142.97 157.04h1M138.92 145h1M142.72 149.56h1M147.13 122.02h1M152.48 160.06h1M145.39 148.62h1M143.04 146.94h1M139.55 153.66h1M145.43 149.83h1M148.26 150.96h1M141.88 142.96h1M138.36 155.48h1M147.35 141.83h1M145.36 150.94h1M150.41 157.85h1M148.35 147.73h1M140.49 142.31h1M139.6 151.35h1M147.67 158.81h1M153.59 145.01h1M147.34 141.91h1M144.73 148.77h1M145.96 153.19h1M148.39 145.55h1M148.16 157.55h1M145.34 139.31h1M148.87 149.5h1M145.14 152.74h1M143.58 150.41h1M145.14 146.03h1M154.92 140.86h1M141.96 162.79h1M144.71 152.97h1M141.15 159.88h1M147.32 141.76h1M142.39 154.52h1M143.57 148.48h1M146.97 144.98h1M146.4 158.3h1M146.12 140.27h1M146.88 149.42h1M145.88 148.09h1M146.11 157.23h1M140.54 154.95h1M149.49 149.93h1M149 156.11h1M141.73 144.71h1M146.19 146.57h1M150.54 143.7h1M144.81 154.2h1M145.8 143.19h1M148.1 151.67h1M147.93 142.54h1M142.49 154.71h1M147.44 153.2h1M147.64 150.57h1M143.47 145.16h1M142.74 151.33h1M150.68 157.45h1M145.69 160.28h1M147.02 146.85h1M142 162.52h1M146.82 153.04h1M141.2 140.62h1M144.3 151.79h1M143.59 154.26h1M143.42 149.81h1M142.54 148.29h1M138.59 154.28h1M144.93 149.55h1M148.25 139.29h1M151.87 152.33h1M146.38 147.73h1M142.35 145.52h1M144.42 148.47h1M152.09 152.48h1M141.71 148.31h1M151.53 155.86h1M146.55 156.2h1M147.25 143.95h1M143.05 153.99h1M153.75 157.94h1M145.37 149.07h1M144.95 148.88h1M148.06 153.8h1M139.38 155.35h1M139.67 148.99h1M149.92 143.19h1M150.5 159.53h1M145.51 146.67h1M137.61 154.64h1M144.54 162.13h1M139 145.64h1M151.15 140.29h1M144.01 138.97h1M148.55 137.02h1M140.57 157.2h1M148.98 144.69h1M147.84 148.91h1M146.79 148.89h1M152.68 140.78h1M151.98 151.45h1M139.18 143.17h1M144.01 150.81h1M144.61 151.75h1M142.11 150.39h1M149.33 154.68h1M139.15 149.6h1M144.58 144.95h1M141.79 150.03h1M139.78 154.52h1M150.15 155.41h1M149.38 148.81h1M135.71 150.24h1M147.01 148.05h1M140.94 154.63h1M151.98 147.05h1M146.58 155.14h1M151.94 148.46h1M144.66 147.97h1M146.24 148.84h1M143.31 159.36h1M147.22 158.66h1M147.27 152.17h1M150.17 142.6h1M144.23 137.3h1M151.27 161.94h1M153.57 153.9h1M138.78 140.03h1M144.09 143.45h1M144.79 148.76h1M140.83 152.91h1M145.34 150.73h1M146.49 154.53h1M143.35 160.96h1M148.79 143.98h1M142.59 154.73h1M140.4 147.02h1M144.39 148.1h1M145.71 152.68h1M150.01 129.74h1M144.14 141.4h1M145.56 157.64h1M146.66 158.79h1M143.25 150.15h1M147.84 135.16h1M144.84 153.33h1M146.39 140.81h1M143.63 157.65h1M157.12 147.83h1M135.34 146.82h1M144.23 146.3h1M143.74 139.29h1M146.23 156.15h1M152.18 139.55h1M148.81 160.97h1M143 155.41h1M147.43 141.08h1M149.37 144.62h1M147.63 142.06h1M145.14 156.42h1M145.73 153.3h1M144.72 154.5h1M146.01 146.87h1M146.78 153.63h1M144.84 150.71h1M148.58 140.32h1M143.85 158.91h1M149.65 138.87h1M151.74 152.76h1M150.6 151.78h1M146.7 151.02h1M142.12 147.61h1M147.62 138.46h1M145.57 136.87h1M139.21 146.52h1M151.06 136.05h1M152.46 160.44h1M148.05 154.57h1M143.95 152.96h1M148.68 143.75h1M149.26 153.03h1M136.81 151.72h1M138.69 143.58h1M142.1 152.98h1M148.24 155.26h1M145.74 156.12h1M145.94 134.56h1M145.42 160.61h1M149.22 142.85h1M147.48 143.24h1M142.22 139.16h1M147.53 147.61h1M144.99 158.03h1M151.05 147.25h1M151.48 153.25h1M141 147.72h1M147.33 155.54h1M151.04 157.18h1M143.53 159.78h1M148.67 133.2h1M146.57 154.52h1M148.5 162.1h1M150.54 156.54h1M150.68 154.14h1M144.54 162.35h1M145.4 142.96h1M143.78 135.63h1M141.54 141.29h1M147.26 134.03h1M146.82 151.09h1M141.25 141.89h1M150.41 154.16h1M138.22 162.56h1M139.12 150.62h1M145.58 151.39h1M149.9 151.53h1M149.55 154.79h1M154.45 152.58h1M146.17 162.26h1M147.58 144.07h1M144.83 147.6h1M130.99 141.93h1M139.67 140.34h1M144.25 150.54h1M142.88 155.11h1M150.7 139.43h1M142.93 155.85h1M149.88 143.34h1M144.13 147.2h1M150.23 150.71h1M152.59 139.8h1M150.66 150.85h1M148.79 150.55h1M144.3 136.44h1M139.5 150.59h1M151.15 151.46h1M148.88 155.15h1M139.84 156.03h1M148.89 147.76h1M144.28 161.67h1M149.1 139.22h1M146.77 154.58h1M139.94 161.45h1M147.5 155.88h1M147.76 159.45h1M148.14 143.99h1M138.79 147.62h1M148.86 153.65h1M143.6 147.43h1M144.97 135.32h1M150.14 159.62h1M142.97 159.27h1M151.29 155.55h1M154.87 131.64h1M141.89 137.26h1M144.56 147.51h1M143.22 147.51h1M144.55 146.31h1M146.36 138.32h1M148.95 148.33h1M144.57 162h1M150.05 150.58h1M145.2 141.96h1M145.3 141.13h1M146.07 147.07h1M149.8 148.75h1M147.29 143.38h1M145.82 128.15h1M144.12 149.43h1M145.79 149.62h1M146.93 155.77h1M151.71 142.99h1M145.41 156.8h1M142.39 137.15h1M144.9 150.95h1M144.95 138.78h1M146.9 135.97h1M143.48 138.7h1M143.05 159.14h1M136.59 143.01h1M151.89 135.18h1M142.45 146.68h1M147.78 147.27h1M147.86 136.66h1M140.9 154.34h1M145.7 146.98h1M147.56 150.73h1M151.62 129.61h1M149.06 161.64h1M137.63 148.68h1M142.44 143.24h1M143.9 141.35h1M154.12 157.43h1M141.39 162.29h1M154.23 142.57h1M147.34 142.82h1M145.21 158.09h1M143.36 151.66h1M152.34 139.15h1M144.23 158.19h1M147.99 156.83h1M144.86 150.91h1M141.78 144.51h1M138.85 150.44h1M146.32 152.81h1M144.1 161.78h1M140.9 140.22h1M138.11 153.09h1M145.68 161.01h1M140.33 144.11h1M147.2 155.39h1M151.81 155.43h1M153.05 132.13h1M152.45 139.78h1M144.54 142.02h1M150.63 158.62h1M144.69 151.03h1M147.27 147.04h1M142.78 138.44h1M147.12 152.21h1M152.07 153.99h1M149.01 150.8h1M141 145.76h1M144.79 147.68h1M143.46 147.16h1M140.71 133.73h1M140.62 161.51h1M152.94 158.02h1M149.92 153.17h1M138.77 147.13h1M141.8 146.79h1M149.14 147.18h1M143.61 152.94h1M141.61 152.08h1M143.99 154.29h1M141.42 135.74h1M143.25 148.4h1M146.47 137.99h1M149.3 143.22h1M148.35 144.47h1M140.3 149.58h1M150.08 158.06h1M144.97 158.47h1M143.15 141.99h1M148.01 153.69h1M139.95 136.03h1M149.54 140.55h1M143.26 157.85h1M148.96 139.91h1M152.08 147.4h1M142.28 148.63h1M146.41 145.03h1M145.1 154.34h1M146.69 157.11h1M148.4 162.32h1M143.53 141.62h1M142.17 156.65h1M144.13 136.94h1M141.09 147.53h1M145.11 146.18h1M140.13 158.45h1M155.06 149.7h1M137.97 144.3h1M142.1 152.14h1M149.46 159.55h1M149.88 155.97h1M147.37 139.75h1M141.63 138.8h1M154.33 153.03h1M147.18 143.71h1M150.65 132.01h1M147.43 161.36h1M137.04 149.99h1M140.84 158.39h1M149.36 157.08h1M146.02 153.28h1M140.7 153.22h1M143.51 147.78h1M149.34 155.71h1M142.45 135.44h1M145.58 142.18h1M146.28 149.6h1M152.78 129.82h1M138.49 162.43h1M144.14 154.84h1M152.49 144.71h1M144.76 157.18h1M144.39 160.5h1M147 152.6h1M148.67 147.75h1M144.43 142.26h1M143.64 135.48h1M146.53 149.54h1M146.33 157.17h1M141.24 143.91h1M147.11 145.93h1M146.47 142.94h1M140.3 151.93h1M149.87 159.8h1M140.71 153.29h1M134.19 148.86h1M148.15 157.35h1M150.39 158.86h1M147.16 143.29h1M144.01 146.49h1M154 144.61h1M137.91 154.02h1M143.33 149.58h1M142.94 144.36h1M144.76 145.17h1M142.99 144.71h1M145.98 136.66h1M142.24 153.77h1M149.97 146.5h1M151.14 149.2h1M145.29 153.45h1M147.94 141.16h1M143.33 151.01h1M151.98 159.37h1M152.67 155.54h1M142.63 148.09h1M143.38 149.58h1M147.14 150.08h1M149.77 162.16h1M149.32 143.01h1M143.5 149.8h1M150.75 147.9h1M146.2 141.63h1M137.47 152.63h1M146.29 150.89h1M146.07 152.8h1M148.52 151.36h1M147.5 162.48h1M139.14 143.24h1M153.93 157.63h1M142.78 147.32h1M149.73 152.5h1M150.41 146.63h1M146.29 148.11h1M143.45 143.46h1M150.41 158.22h1M144.68 134.88h1M150.02 140.48h1M144.71 152.04h1M140.11 157.31h1M145.58 133.42h1M143.42 161.99h1M143.81 133.91h1M138.02 139.97h1M152.12 152.38h1M138.13 141.34h1M146.1 133.63h1M142.39 143.03h1M148.79 157.36h1M147.09 141.37h1M146.26 129.33h1M144.74 147.24h1M140.32 140.49h1M148.11 143.8h1M144.81 141.83h1M149.57 149.07h1M146.43 137.06h1M144.15 160.78h1M148.9 136.61h1M144.34 142.11h1M145.06 157.98h1M148.41 151.41h1M147.56 150.67h1M149.84 160.93h1M145 141.92h1M150.85 146.2h1M144.02 161.18h1M145.06 143.4h1M143.74 158.24h1M142.5 156.05h1M145.63 133h1M144.93 156.73h1M143.9 148.96h1M140.22 143.39h1M144.47 159.55h1M146.53 141.61h1M151.88 143.23h1M144.49 137.28h1M140.44 137.25h1M146.94 152.26h1M153.77 154.07h1M146.04 143.3h1M144.55 132.51h1M148.66 151.32h1M147.19 149.85h1M145.14 141.64h1M146.7 131.78h1M145.19 136.86h1M143.84 142.57h1M147.15 151.39h1M153.34 144.72h1M142.72 141.63h1M140.02 155.67h1M147.41 138.79h1M153.69 139.88h1M149.68 140.35h1M151.05 156.63h1M140.66 151.95h1M151.48 141.65h1M137.55 154.69h1M147.01 156.48h1M140.8 156.42h1M144.74 157.98h1M150.39 143.24h1M151.01 160.87h1M144.25 154.92h1M147.34 141.02h1M146.67 156.05h1M145.02 137.8h1M142.86 137.31h1M151.57 146.05h1M144.64 155.15h1M149.21 145.05h1M141.72 152.22h1M145.03 152.71h1M149.08 148.05h1M141 147.53h1M149.92 160.7h1M148.19 121.35h1M142.71 159.45h1M147.26 140.62h1M140.62 151.07h1M148.05 143.51h1M144.65 137.35h1M146.85 154.56h1M149.57 134.11h1M147.23 157.91h1M142.62 143.41h1M142.66 134.05h1M145.45 146.32h1M146.25 153.21h1M151.45 137.06h1M146.61 158.42h1M145.1 148.67h1M144.32 149.51h1M148.21 142.43h1M144.45 151.7h1M147.65 142.64h1M142.08 157.69h1M146.32 144.9h1M141.6 155.55h1M147.19 153.47h1M148.77 144.89h1M148.2 156.94h1M147.93 129.62h1M147.1 141.48h1M145.26 155.21h1M139.98 155.56h1M147.16 159.75h1M146.47 139.53h1M145.08 145.19h1M147.15 157.91h1M149.91 159.22h1M143.64 139.29h1M143.89 140h1M147.55 144.02h1M144.57 132.76h1M144.33 153.7h1M141.14 155.73h1M142.82 136.54h1M142.87 152.07h1M145.6 155.38h1M148.82 142.51h1M148.4 145.72h1M147.18 146.84h1M148.15 148.04h1M141.26 137.11h1M151.64 157.83h1M154.35 158.53h1M141.51 141.76h1M148.32 148.51h1M140.02 143.48h1M149.53 145.6h1M146.88 139.28h1M150.09 142.75h1M145.6 139.43h1M149.73 162.35h1M139.23 154.24h1M147.36 148.35h1M143.97 153.46h1M138.48 136.1h1M148.24 157.53h1M145.28 137.23h1M151.69 151.33h1M149.29 155.8h1M143.29 158.94h1M147.65 149.81h1M137.94 145.77h1M145.47 126.44h1M150.57 153.35h1M145.65 136.29h1M144.52 144.12h1M137.94 151.92h1M138.62 148.48h1M148.06 144.04h1M139.95 155.21h1M152.77 138.73h1M146.78 145.86h1M153.81 161.84h1M142.41 160.9h1M149.3 142.1h1M141.57 151.33h1M151.6 152.39h1M138.42 141.64h1M144.91 147.5h1M145.14 148.7h1M148.14 149.99h1M150.55 152.2h1M140.37 140.23h1M144.46 151.11h1M144.65 150.59h1M133.68 155.81h1M153.08 155.02h1M143.34 137.11h1M152.81 147.59h1M147.37 146.51h1M144.42 153.67h1M151.07 141.84h1M150.33 153.06h1M139.31 157.83h1M143.36 138.4h1M147.26 151.69h1M150.5 143.91h1M141.45 154.98h1M146.68 158.58h1M152.15 146.78h1M142.95 162.06h1M145.09 149.77h1M138.07 137.3h1M143.23 139.21h1M144.84 157.81h1M137.5 146.62h1M147.25 142.52h1M153.41 155.35h1M151.01 158.01h1M141.29 148.59h1M148.24 145.53h1M147.78 142.12h1M142.42 141.87h1M149.52 162.39h1M147.01 138.14h1M144.27 141.78h1M147.4 160.89h1M142.22 150.37h1M148.15 131.94h1M137.97 160.11h1M145.1 151.41h1M142.89 159.54h1M140.72 152.8h1M145.01 151.81h1M146.44 143h1M137.99 145.13h1M140.38 149.67h1M147.05 140.72h1M151.17 158.97h1M143.29 161.35h1M144.38 155.56h1M145.79 155.47h1M146.13 158.67h1M143.89 150.82h1M145.01 147.02h1M147.17 150.94h1M136.93 158.96h1M143.36 147.29h1M148.67 149.57h1M140.16 151.92h1M147 148.02h1M150.17 150.93h1M148.25 141.4h1M145.11 161.77h1M146.19 161.62h1M142.15 158.1h1M143.18 159.35h1M146.49 147.21h1M149.2 148.28h1M137.2 157.74h1M144.17 145.88h1M144.13 157.73h1M146.89 135.24h1M149.43 132.27h1M149.91 155.85h1M139.31 151.96h1M151.69 151.79h1M147.19 160.57h1M147 159.87h1M143.2 153.98h1M139 157.24h1M148.56 156.39h1M142.94 150.49h1M141.55 154.92h1M148.08 157.85h1M143.26 140.74h1M144.98 139.93h1M143.97 151.22h1M150.05 142.83h1M137.63 140.28h1M146.09 161.52h1M146.39 156.95h1M142.15 156.55h1M145.5 149.84h1M147.32 157.41h1M149.52 159.31h1M148.26 151.41h1M146.87 156.7h1M147.26 154.01h1M132.23 130.07h1M144.44 121.73h1M143.88 136.41h1M142.22 146.49h1M145.21 147.54h1M149.57 150.29h1M140.66 160.59h1M146.25 138.4h1M146.12 145.57h1M148.22 161.02h1M147.73 142.5h1M148.64 145.67h1M142.44 137.39h1M140.39 142.96h1M151.66 151.51h1M139.38 155.63h1M140.68 140.69h1M139.88 162.5h1M147.91 158.3h1M148.44 140.2h1M145.94 149.31h1M145.38 146h1M139.01 158.39h1M146.81 162.32h1M138.79 151.22h1M150.7 144.06h1M144.21 159.09h1M148.75 155.2h1M146.01 151.45h1M147.57 156.36h1M140.99 146.16h1M145.82 149.09h1M146.83 139.19h1M138.71 152.11h1M151.31 151.91h1M145.97 149.59h1M144.84 158.08h1M146.48 149h1M145.72 138.03h1M140.92 142.84h1M147.55 137.68h1M145.27 143.62h1M145.03 150.93h1M144.11 152.14h1M147.89 158.28h1M155.95 149.22h1M141.3 140.04h1M143.23 146.81h1M144.27 136.63h1M146.37 151.16h1M150.01 158.42h1M141.39 154.97h1M146.62 156.96h1M147.45 155.38h1M141.93 138.59h1M150.36 153.86h1M142.27 148.37h1M148.48 141.74h1M146.94 145.9h1M142.1 150.29h1M145.78 146.13h1M139.4 150.52h1M150.36 152.46h1M143.72 157.27h1M146.83 161.3h1M145.41 155.97h1M143.83 150.3h1M143.43 159.14h1M146.59 149.26h1M146.66 142.87h1M145.13 153.34h1M147 138.69h1M140.14 156h1M147.17 162.2h1M145.42 160.47h1M151.85 140.65h1M147.45 144.79h1M149.49 137.98h1M141.89 153.82h1M146.71 149.91h1M143.33 142.92h1M145.49 150.06h1M147.31 145.69h1M143.72 137.66h1M144.88 148.15h1M143.39 154.01h1M143.41 148.28h1M144.4 160.39h1M139.25 137.5h1M146.21 149.97h1M143.84 138.9h1M144.92 157.57h1M144.72 151.11h1M147.2 161.48h1M151.3 149.4h1M146.18 138.89h1M142.58 143.14h1M144.92 147.07h1M149.82 149h1M143.26 153.42h1M149.84 160.65h1M139.95 145.92h1M149.21 146.96h1M142.27 150.5h1M146.86 145.73h1M143.43 162.57h1M146.39 133.04h1M138.02 150.72h1M144.84 149.64h1M149.47 145.2h1M150.14 153.18h1M143.15 156.44h1M145.36 143.09h1M140.42 144.02h1M148.42 149.54h1M151.25 159.93h1M150.44 152.41h1M147.03 157.79h1M148.81 157.7h1M147.61 136.15h1M143.86 155.62h1M147.1 142.56h1M145.33 152.05h1M144.39 160.26h1M147.23 145.69h1M141.66 146.66h1M143.61 147.08h1M143.09 156.14h1M146.91 161.36h1M144.93 147.23h1M153.71 149.79h1M146.45 158.85h1M147.04 147.62h1M142.3 152.25h1M151.03 151.65h1M146.52 158.62h1M150.96 153.64h1M148.98 145.42h1M150.15 151.06h1M146.61 141.2h1M148.38 136.67h1M144.16 139.2h1M142.38 149.91h1M148.88 158.52h1M149.46 145.2h1M149.63 161.53h1M143.75 147.86h1M142.18 156.95h1M145.05 154.96h1M151.19 152.51h1M147.34 150.96h1M141.4 153.76h1M144.83 150.86h1M142.82 139.29h1M145.18 149.49h1M149.37 161.48h1M146 140.83h1M149.25 162.34h1M146.93 137.21h1M144.36 158.71h1M147.15 160.73h1M145.79 146.23h1M146.5 154.05h1M143.53 140.45h1M144.19 138.83h1M134.83 153.47h1M152.43 149.36h1M145.91 145.89h1M151.46 147.43h1M140.14 142.51h1M149.91 136.23h1M141.22 150.99h1M150.38 139.89h1M151.42 158.16h1M143.64 135.34h1M141.92 145.38h1M144.12 153.09h1M139.22 152.86h1M144.91 140.49h1M151.99 150.61h1M144.32 143.73h1M146.49 136.69h1M152.52 160.79h1M136.92 161.46h1M151.04 145.49h1M152.54 155.57h1M141.73 142.23h1M138.21 145.58h1M146.44 139.78h1M144.66 148.05h1M141.99 159.85h1M145.52 135.76h1M142.38 132.94h1M143.89 141.14h1M146.73 155.75h1M146.84 161.54h1M145.74 144.2h1M149.63 150.73h1M143.62 153.2h1M150.39 148.33h1M141.39 146.48h1M139.74 159.12h1M144.95 150.86h1M144.88 152.84h1M141.69 152.43h1M144.46 148.8h1M142.36 149.55h1M144.54 151.33h1M148.82 140.38h1M149.97 154.79h1M147.52 141.05h1M148.56 162.32h1M143.88 144.06h1M150.61 159.16h1M148.72 160.32h1M149.6 138.8h1M146.03 154.97h1M144.3 152.62h1M141.8 158.7h1M144.97 146.35h1M142.86 146.3h1M142.05 141.57h1M146.78 151.67h1M149.84 148.84h1M147.24 152.31h1M149.75 153.21h1M143.35 152.49h1M144.56 154.39h1M152.49 147.85h1M143.01 153.46h1M145.02 139.92h1M145.54 151.19h1M144.41 150.4h1M146.77 157.75h1M143.22 140.72h1M144.11 150.35h1M146.47 150.48h1M146.55 143.34h1M145.46 151.14h1M154.23 157.74h1M141.96 155.02h1M148.96 157.12h1M148.96 160.39h1M141.24 146h1M142.92 129.5h1M141.86 140.47h1M140.91 143.79h1M139.3 152.52h1M141.21 158.27h1M140.73 150.53h1M142.11 137.43h1M145.27 149.87h1M146.67 151.88h1M150.2 145.97h1M133.18 148.95h1M150.94 151.08h1M141.41 157.09h1M145.25 154.61h1M138.71 139.59h1M144.72 144.27h1M147.84 132.46h1M140.41 150.85h1M144.31 151.96h1M143.18 150.02h1M143.82 154.37h1M143.27 151.98h1M144.06 139.07h1M142 153.65h1M146.8 147.75h1M142.14 146.05h1M144.62 139.17h1M151.15 144.04h1M146.1 144.21h1M144.29 158.33h1M152.8 149.47h1M148.45 146.06h1M155.05 158.78h1M145.26 141.44h1M146.61 142.21h1M145.26 143.39h1M147.9 158.42h1M140.84 154.67h1M146.66 151.11h1M135.1 152.14h1M151.71 150.66h1M146.63 151.99h1M141.98 151.78h1M149.05 150.98h1M139.53 134.91h1M136.82 148.07h1M141.5 140.21h1M145.86 148.38h1M141.28 134.95h1M155.4 157.78h1M144.45 159.71h1M147.98 148.52h1M147.26 148.42h1M144.77 137.87h1M151.5 149.73h1M153.54 137.97h1M146.61 153.53h1M148.04 143.78h1M151.57 140.4h1M145 135.94h1M145.25 148.5h1M143.15 160.88h1M154.03 157.85h1M148.71 151.71h1M148.39 155.11h1M151.49 157.79h1M147.68 152.44h1M149.87 146.71h1M143.5 152.53h1M147.87 157.9h1M139.06 149.35h1M145.46 149.5h1M138.02 160.88h1M147.18 155.23h1M148.25 150.52h1M150.89 149.89h1M140.19 137.15h1M144.89 149.67h1M143.03 161.94h1M147.46 135.86h1M144.97 150.1h1M139.66 152.76h1M147.31 155.45h1M150.17 141.96h1M154.64 142.79h1M150.24 159.72h1M150.18 157.82h1M148.87 154.89h1M144.45 149.85h1M151.6 143.04h1M141.57 146.18h1M149.9 149.41h1M145.28 146.42h1M151.05 161.43h1M146.45 151.21h1M144.61 155.14h1M143.69 148.35h1M139.34 134.83h1M144.62 145.83h1M145.01 142.49h1M146.25 130.51h1M142.8 152.7h1M142.39 159.96h1M147.46 149.01h1M143.36 156.79h1M147.06 141.9h1M147.96 139.42h1M147.49 144.64h1M147.35 146.25h1M146.86 154.06h1M140.55 139.16h1M146.99 159.75h1M142.88 154.73h1M148.44 141.74h1M140.7 159.36h1M144.24 138.92h1M148.84 138.38h1M144.83 152.85h1M154.06 138.33h1M147.42 146.19h1M148.31 140.88h1M140.16 158.99h1M142.24 146.43h1M150.86 150.82h1M148.16 145.18h1M142.43 153.35h1M144.3 150.91h1M148.95 138.28h1M141.99 156.99h1M146.27 154.93h1M145.1 145.37h1M148.66 142.73h1M145.66 140.3h1M143.02 152.85h1M144.99 155.36h1M134.62 154.31h1M149.3 153.51h1M155.44 145.44h1M144.46 141.25h1M135.89 156.11h1M147.43 151.95h1M144.26 159.33h1M140.03 153.33h1M149.38 154.75h1M141.6 149.17h1M149.88 155.64h1M136.95 142.7h1M139.04 150.29h1M144.14 155.7h1M142.62 139.77h1M151.45 141.14h1M150.5 156.51h1M152.17 139.99h1M148.42 139.84h1M149.27 138.79h1M147.92 162.04h1M146.33 151.4h1M143.04 142.79h1M147.08 149.35h1M144.35 156.43h1M142.42 142.85h1M143.26 139.81h1M151.34 153.91h1M149.29 151.65h1M141.96 150.47h1M152.72 153.99h1M144.7 129.97h1M142.33 142.78h1M141.82 144.5h1M148.39 150.69h1M142.57 157.01h1M147.26 150.79h1M146.46 153.36h1M153.83 133.39h1M146.82 146.85h1M141.31 140.99h1M153.12 130.1h1M149.16 146.42h1M142.03 146.68h1M142.06 146.21h1M143.24 135.42h1M142.83 160.84h1M152.27 155.72h1M142.76 150.82h1M150.07 139.67h1M143.34 156.26h1M153.44 146.43h1M142.98 148.54h1M141.78 154.23h1M145.41 142.38h1M140.11 155.46h1M143.77 143.81h1M139.59 157.5h1M152.18 155.68h1M146.23 138.11h1M145.95 144.62h1M143.68 161.36h1M147.39 159.78h1M142.53 148.65h1M153.09 152.51h1M142.86 142.15h1M141.94 132.84h1M140.16 147.02h1M148.33 142h1M144.3 145.7h1M147.17 158.23h1M143.43 145.64h1M150.48 159.39h1M142.73 146.82h1M145.99 139.79h1M144.96 144.43h1M149.46 125.96h1M145.49 161.07h1M149.55 133.1h1M141.16 159.33h1M137.84 144.15h1M147.1 153.6h1M141.97 139.03h1M146.71 143.13h1M144.71 132.74h1M140.93 161.12h1M141.59 135.06h1M139.65 149.58h1M137.98 142.9h1M146.77 162.25h1M146.05 156.12h1M140.63 160.77h1M141.51 155.7h1M143.22 154.56h1M149.33 139.18h1M148.05 137.14h1M148.18 147.72h1M148.93 156.49h1M145.08 147.55h1M144.79 162.45h1M146.82 130.33h1M141.68 155.08h1M140.03 138.4h1M142.48 136.54h1M144.37 149.8h1M147.86 160.76h1M149.32 156.43h1M140.09 144.8h1M150.05 162.27h1M139.33 147.65h1M149.38 156.92h1M142.5 159.27h1M148.84 154.75h1M142.35 151.5h1M149.02 152.8h1M140.21 144.46h1M140.33 132.6h1M146.61 147.04h1M145.85 154.62h1M145.26 156.77h1M147.94 147.13h1M140.84 152.24h1M145.65 155.43h1M145.51 139.58h1M142.38 156.19h1M144.31 147.26h1M141.73 152.81h1M140.85 142.54h1M146.45 146.54h1M147.32 135.69h1M146.91 146.13h1M138.18 148.03h1M138.61 134.25h1M146.5 157.07h1M142.09 148.57h1M139.45 160.52h1M143.62 132.3h1M149.14 149.72h1M148.84 144.68h1M146.23 153.5h1M150.9 138.62h1M148.69 142.02h1M152.99 161.19h1M143.65 151.2h1M153.3 146.07h1M150.15 149.61h1M151.02 147.7h1M145.97 149.85h1M141 142.46h1M147.22 145.54h1M152.24 145.21h1M145.55 156.24h1M147.47 149.52h1M150.31 152.58h1M145.69 152.2h1M139.7 147.19h1M146.23 155.31h1M139.3 155.61h1M149.77 154.86h1M146.94 153.45h1M149.31 160.1h1M142.33 152.03h1M142.12 154.44h1M148.75 154.14h1M152.22 154.55h1M150.77 140.67h1M146.28 143.83h1M149.71 147.25h1M150.79 148.36h1M140.05 156.5h1M148.36 161.33h1M140.36 136.69h1M144.75 147.15h1M148.34 152.32h1M143 156.86h1M144.47 150.4h1M149.09 143.46h1M140.24 143.38h1M142.47 150.98h1M144.47 150.47h1M152.5 145.78h1M149 142.47h1M140.29 154.46h1M150.04 143.95h1M144.55 150.68h1M144.88 160.09h1M149.67 147.99h1M142.46 155.67h1M145.52 151.29h1M142.5 161.42h1M148.94 157.88h1M151.77 154.27h1M146 130.36h1M145.18 144.21h1M149.04 140.2h1M148.68 140.83h1M140.01 155.04h1M145.21 154.89h1M143.54 140.63h1M138.74 160.5h1M146.16 156.44h1M138.97 159.56h1M148.63 155.95h1M147.83 151.22h1M151.49 149.51h1M146.9 147.26h1M148.11 135.25h1M141.77 154.34h1M144.39 148.38h1M143.62 153.3h1M145.65 162.41h1M146.22 152.84h1M142.44 161.59h1M150.09 144.13h1M150.06 159.91h1M148.86 155.07h1M145.51 151.79h1M139.16 136.64h1M139.31 153.55h1M150.27 152.59h1M146.84 145.34h1M146.62 149.58h1M149.53 133.12h1M148.23 156.92h1M145.97 157.23h1M146.6 144.77h1M146.34 156.42h1M150.07 155.78h1M144.45 137.74h1M144.82 152.62h1M149.57 151.82h1M140.23 143.37h1M144.77 134.48h1M146.35 146.61h1M138.03 157.95h1M143.48 147.52h1M154.16 159.07h1M144.89 153.49h1M149.22 150h1M147.86 131.83h1M146.99 145.12h1M148.83 160.86h1M145.63 151.52h1M147.27 158.42h1M148.17 148.97h1M147.52 157.88h1M150.64 154.34h1M146.64 149.07h1M148.3 143.07h1M145.45 159.68h1M151.62 148.36h1M146.29 156.72h1M142.85 162.61h1M145.24 147h1M153.62 130.91h1M140.99 148.41h1M143.31 155.94h1M149.15 151.81h1M143.36 153.88h1M144.09 162.25h1M142.26 162.61h1M142.18 146.94h1M145.31 145.01h1M146.87 154.65h1M152.23 155.22h1M145.49 152.18h1M147.56 141.79h1M152.54 126.32h1M137.48 151.15h1M143.4 149.33h1M142.79 141.07h1M151.09 152.42h1M149.83 147.82h1M144.11 152.4h1M146.27 143.51h1M147.77 151.4h1M143.41 158.89h1M141.21 140.35h1M144.7 151.52h1M147.63 150.92h1M144 155.67h1M144.64 149.21h1M149.8 159.81h1M146.14 142.37h1M152.19 121.25h1M148.61 150.7h1M151.01 134.4h1M147.22 152.12h1M141.96 138.92h1M140.31 126.19h1M142.38 158.38h1M146.08 157.52h1M140.76 147.15h1M146.95 143.09h1M146.81 149.95h1M154.4 155.29h1M139.86 154.16h1M142.62 155.59h1M142.06 154.97h1M146.34 151.01h1M144.28 140.02h1M151.79 144.14h1M143.89 151.21h1M142.77 143.13h1M148.84 159.43h1M148.42 136.58h1M142.52 153.02h1M152.26 158.92h1M147.76 148.23h1M148.35 142.78h1M141.31 160.41h1M145.33 127.21h1M142.51 153.52h1M150.79 144.28h1M142.41 151.51h1M145.31 154.54h1M147.83 152h1M150.24 136.75h1M152.62 150.34h1M136.99 156.22h1M135.26 153.64h1M144.55 153.56h1M140.74 142.13h1M143.27 149.08h1M143.54 162.45h1M144.28 151.88h1M146.46 141.61h1M145.76 145.96h1M145.33 152.65h1M144.93 158.84h1M138.76 155.74h1M147.57 137.07h1M142.02 150.91h1M143.59 157.2h1M145.34 134.05h1M150.53 158.52h1M143.24 144.88h1M142.03 157.92h1M146.19 143.31h1M150.5 154.31h1M146.86 146.03h1M148.23 150.78h1M141.13 162.56h1M141.95 160.97h1M142.96 152.53h1M150.36 151.02h1M144.58 139.32h1M150.77 140.95h1M146.4 155.82h1M145.33 151.4h1M143.6 144.5h1M147.24 143.15h1M140.11 157.5h1M151.23 142h1M147.01 137.49h1M146.09 153.34h1M137.55 139.15h1M153.28 150.19h1M148.71 157.98h1M148.48 143.64h1M143.57 151.2h1M147.57 156.25h1M139.81 158.78h1M147.03 150.74h1M144.42 145.78h1M149.25 147.44h1M148.14 158.44h1M142.6 151.08h1M145.31 154.85h1M150.82 148.38h1M149.99 156.59h1M150.28 148.78h1M147.68 151.63h1M143.77 150.25h1M146.9 151.04h1M146.12 154.39h1M151.07 153.44h1M142.26 146.33h1M150.21 157.46h1M143.36 156.93h1M150.64 149.5h1M138.24 150.62h1M155.03 153.17h1M146.38 145.94h1M141.12 148.66h1M141.22 148.7h1M147.64 153.32h1M143.34 152.33h1M143.08 155.27h1M154.02 160.18h1M144.02 159.72h1M144.75 152.78h1M144.97 135.67h1M140.84 149.72h1M149.95 150.35h1M146.84 136.64h1M144.86 154.95h1M153.58 151.52h1M142.75 145.73h1M150.95 157.51h1M147.85 158.22h1M142.23 154.27h1M150.09 150.03h1M141.68 149.89h1M142.15 154.28h1M147.81 140.05h1M144.68 150.95h1M142.71 158.96h1M143.99 157.28h1M139.61 147.24h1M137.66 135.72h1M147.86 142.47h1M136.78 150.18h1M142.12 150.72h1M137.98 155.57h1M147.92 148.08h1M153.1 151.46h1M144.21 130.06h1M146.64 133.42h1M147.79 148.65h1M142.05 161.25h1M154.46 142.34h1M139.54 145.54h1M143.64 142.53h1M147.81 147.6h1M143.75 154.1h1M147.47 161.33h1M140.45 148.84h1M143.71 136.69h1M152.51 146.31h1M139.06 161.64h1M147.21 159.91h1M151.74 145.98h1M148.9 154.11h1M150.94 143.52h1M147.88 143.7h1M148.66 159.49h1M153.62 143.75h1M142.14 154.88h1M143.38 132.84h1M147.5 155.2h1M148.61 148.81h1M142.82 155.74h1M139.55 148.9h1M144.74 145.04h1M150.13 147.13h1M145.94 161.14h1M143.75 141.71h1M147.61 154.07h1M140.97 155.19h1M148.91 143.73h1M149.15 153.35h1M144.57 148.38h1M141.8 147.77h1M148.02 153.7h1M147.13 156.65h1M146.28 155.38h1M144.94 155.7h1M142.74 150.61h1M146.49 154.14h1M141.98 157.99h1M142.6 152.49h1M148.69 156.65h1M144.26 142.32h1M144.79 158.49h1M142.47 161.1h1M142.66 153.23h1M141.04 152.4h1M139.38 145.94h1M149.95 145.68h1M141.93 152.69h1M136.79 162.36h1M143.17 152.67h1M149.33 155.41h1M150.55 154.41h1M141.67 149.59h1M147.12 148.24h1M149.89 145.95h1M150.02 147.55h1M149.78 150.23h1M141.41 139.49h1M142.77 141.45h1M138.58 131.66h1M146.22 156.53h1M141.21 157.37h1M147.52 145.84h1M142.92 147.83h1M149.59 152.7h1M151.72 150.57h1M145.89 154.69h1M140.91 140.65h1M148.92 152.75h1M147.92 155.51h1M141.62 143.17h1M144.92 156.98h1M147.34 160.82h1M144.81 158.66h1M148.56 142.03h1M152.81 150.84h1M147.53 148.15h1M145.99 142.59h1M149.46 147.03h1M148.4 129.78h1M147.93 143.06h1M140.07 158.8h1M155.37 143.47h1M144.26 156.56h1M143.86 133.27h1M146.87 151.44h1M140.64 143.53h1M152.14 143.75h1M152.97 162.59h1M149.06 159.79h1M141.03 161.78h1M146.04 137.71h1M142.21 159.89h1M145.43 150.56h1M143.31 160.67h1M148.06 154.07h1M148.74 118.67h1M143.43 157.11h1M145.68 162.57h1M143.31 142.12h1M140.3 156.66h1M148.77 144.22h1M147.5 128.07h1M147.14 156.27h1M148.59 132.55h1M153.4 146.83h1M147.62 149.95h1M142.65 139.27h1M150.17 145.45h1M140.87 126.4h1M144.04 148.32h1M144.33 146.45h1M147.93 152.31h1M145.76 151.51h1M142.65 149.64h1M152.22 159.12h1M143.9 154.18h1M147.61 150.63h1M145 158.44h1M143.84 160.04h1M148.63 146.79h1M144.96 154.04h1M142.57 156.32h1M140.8 143.74h1M147.25 155.74h1M151.11 132.26h1M149.18 141.32h1M144.88 144.86h1M147.9 154.95h1M149.6 158.26h1M149.01 149.46h1M147.04 153.22h1M139.28 137.86h1M145.81 145.36h1M143.96 150.63h1M149.7 158.59h1M144.92 147.13h1M143.87 140.38h1M143.14 154.38h1M141.76 160.56h1M144.99 130.2h1M151.58 141.92h1M149.15 159.68h1M144 147.59h1M144.03 153.59h1M145.14 138.88h1M143.41 138.95h1M144.49 148.23h1M152.47 139.23h1M149.54 155.08h1M148.25 159.48h1M148.63 132.82h1M151.06 144.31h1M146.17 154.8h1M153.87 144.31h1M148.93 145.35h1M143.27 156h1M145.16 146.63h1M142.42 146.93h1M146.18 160.23h1M142.85 147.55h1M148.64 144.81h1M141.56 150.15h1M148.86 158.07h1M154.72 155.73h1M149.19 159.04h1M146.14 143.87h1M147.76 145.56h1M141.29 144.26h1M147.67 151.19h1M144.83 150.83h1M147.75 148.82h1M147.04 151.61h1M148.57 146.74h1M145.53 154.94h1M139.38 136.29h1M140.19 156.76h1M146.88 138.3h1M139.28 144.51h1M144.72 128.41h1M148.99 139.05h1M141.67 156.31h1M139.87 138.1h1M147.7 141.54h1M141.81 140.23h1M144.08 140.79h1M143.51 152.69h1M146.49 148.28h1M144.1 130.65h1M146.56 153.5h1M135.42 153.65h1M141.66 158.1h1M145.1 153.84h1M146.82 150.54h1M150.2 132.32h1M149.75 151.63h1M150.39 142.12h1M141.4 155.22h1M139.44 156.72h1M151.92 160.57h1M148.46 144.89h1M134.36 142.77h1M147.65 155.4h1M137.3 162.31h1M142.76 147.34h1M140.94 149.23h1M141.9 157h1M143.68 159.61h1M146.9 158.75h1M144.54 141.22h1M150.32 153.68h1M151.2 147.56h1M142.85 145.08h1M144.8 161.6h1M143.48 142.91h1M148.63 150.28h1M148.27 134.8h1M137.25 160.36h1M139.11 149.7h1M148.61 149.26h1M146.99 137.74h1M147.23 147.46h1M144.97 152.34h1M149.19 158.02h1M148.58 135.46h1M149.28 144.87h1M147.5 142.12h1M149.04 154.04h1M144.08 142.16h1M144.24 160.3h1M146.38 148.17h1M138.69 155.96h1M146.59 150.67h1M151.29 161.63h1M151.97 139.29h1M145.93 153.29h1M147.15 160.43h1M151.11 139.99h1M144.82 148.3h1M140.75 143.23h1M140.55 146.1h1M149.45 151.53h1M148.03 146.87h1M147.29 149.07h1M152.53 154.4h1M146.19 157.1h1M138.33 147.04h1M144.71 162.21h1M143.25 139.49h1M141.49 140.01h1M146.78 129.64h1M147.27 148.94h1M142.03 127.88h1M140.08 148.3h1M146.86 149.71h1M144.69 160.82h1M145.95 145.69h1M145.96 148.15h1M143.5 142.01h1M141.17 127.74h1M146.39 136.01h1M145.11 162.12h1M144.34 147.75h1M146.18 153.15h1M145.23 157.09h1M149.45 130.75h1M155.32 155.6h1M143.2 153.09h1M147.64 133.59h1M147.17 142.93h1M145.27 159.86h1M145.94 145.11h1M150.08 160.06h1M148.47 157.61h1M144.96 144.65h1M146.37 145.37h1M148.44 159.28h1M146.23 149.97h1M154.45 148.65h1M141.49 141.01h1M146.91 161.79h1M138.68 153.58h1M155.03 139.67h1M145.03 140.18h1M152.83 127.25h1M139.79 137.72h1M150.65 127.92h1M145.73 151.54h1M147.26 157.08h1M148.26 156.95h1M142.39 140.52h1M145.51 144.02h1M150.63 145.18h1M143.13 140.38h1M153.58 153.02h1M146.81 149.6h1M141.61 150.87h1M147.55 150.08h1M144.71 155.13h1M146.08 150h1M143.46 160.83h1M149.15 149.82h1M151.36 152.01h1M147.88 147.13h1M143.36 159.27h1M146.97 134.74h1M137.3 141.55h1M149.53 146.55h1M143.45 133.7h1M140.2 156.65h1M144.01 158.24h1M146.21 145.87h1M147.78 156.33h1M153.57 150.68h1M143.77 156.3h1M145.44 162.74h1M151.69 143.69h1M145.55 147.29h1M146.67 150.26h1M147.43 132.47h1M146.39 161.71h1M147.11 148.76h1M143.83 143.52h1M146.4 149.4h1M150.09 135.07h1M140.13 157.9h1M148.67 154.87h1M142.71 150.41h1M148.15 150.87h1M149.41 152.52h1M147.85 142.61h1M151.9 135.89h1M145.71 138.02h1M146.61 133.55h1M149.21 144.44h1M144.64 161.07h1M146.41 142.47h1M145.01 142.47h1M144.19 138.1h1M131.76 160.76h1M151.66 133.33h1M137.07 140.3h1M150.58 152.49h1M139.95 152.81h1M150.44 144.31h1M143.56 131.74h1M147.31 150.52h1M143.54 158.1h1M149.87 142.81h1M139.72 149.68h1M147.48 144.35h1M143.39 142.92h1M148.51 144.63h1M148.38 154.66h1M145.38 154.85h1M142.76 150.66h1M146.48 148.01h1M147.82 161.15h1M145.3 145.88h1M146 154.18h1M146.73 154.22h1M144.46 161.01h1M136.89 143.48h1M140.06 135.26h1M155.8 146.73h1M144.58 162.38h1M143.01 153.28h1M150.29 143.27h1M144.96 153.82h1M140.33 154.09h1M144.03 140.68h1M152.85 151.94h1M149.65 161.51h1M142.55 144.87h1M143.9 133.63h1M150.48 146.12h1M147.8 147.72h1M145.79 155.13h1M148.05 144.97h1M145.51 138.72h1M146.61 161.5h1M143.59 157.16h1M143.34 140.18h1M140.33 129.73h1M144.7 142.86h1M142.48 155.28h1M142.9 133.42h1M151.04 154.19h1M146.13 149.15h1M142.37 156.04h1M142.08 138.36h1M148.34 141.02h1M150.33 143.53h1M140.76 153.09h1M138.77 144.92h1M148.46 147.32h1M146.72 151.79h1M141.45 148.14h1M142.04 157.67h1M146.73 150.54h1M145.53 160.53h1M151.43 140.07h1M145.21 133.56h1M150.27 139.92h1M152.33 129.79h1M153.03 156.82h1M145.27 149.28h1M148.85 148.54h1M150.64 153.71h1M148.2 151.25h1M142.72 159.92h1M139.77 157.28h1M144.77 147.78h1M150.2 148.52h1M141.91 158.12h1M145.71 158.32h1M142.95 145.45h1M146.36 151.16h1M148.23 148.97h1M140.3 149.47h1M143.51 151.44h1M142.28 143.22h1M138.95 152.45h1M153.56 150.04h1M145.21 144.44h1M144.12 137.63h1M148.09 162.05h1M142.88 149.39h1M149.13 145.12h1M143.93 148.61h1M140.9 162.39h1M148.06 147.67h1M146.4 152.07h1M140.13 160.07h1M141.15 158.57h1M151 154.29h1M148.39 155.8h1M146.59 149.7h1M135.16 155.8h1M152.53 150.69h1M143.48 146.29h1M147.14 158.94h1M141.92 162.33h1M149.3 154.99h1M147.06 156.29h1M148.67 145.5h1M139.1 151.62h1M145.43 139.62h1M141.8 131.22h1M142.84 143.53h1M146.5 149.81h1M138.88 135.48h1M137.49 144.3h1M140.15 160.97h1M145.66 146.13h1M148.83 147.04h1M149.31 143.71h1M145.49 152.92h1M140.45 141.69h1M136.11 154.2h1M151.74 143.48h1M144.1 153.07h1M154.86 149.48h1M152.33 155.62h1M143.64 161.9h1M148.66 139.75h1M146.84 162.24h1M140.75 161.98h1M151.62 159.6h1M146.12 149.49h1M146.21 150.19h1M147.21 161.66h1M150.63 154.93h1M146.62 160.53h1M145.63 144.81h1M140.32 155.68h1M144.99 158.5h1M149.61 148.93h1M145.27 144.42h1M134.25 145.38h1M148.44 146.56h1M144.35 147.03h1M143.96 150.78h1M141.24 141.33h1M146.78 160.35h1M145.58 152.72h1M143.91 136.53h1M150.99 148.21h1M144.06 146.92h1M142.46 139.84h1M141.39 138.42h1M145.45 153.06h1M145.59 137.8h1M149.59 143.96h1M142.01 134.22h1M148.62 155.95h1M148.88 146.19h1M142.84 149.59h1M141.74 156.59h1M149.32 154.72h1M152.97 158.63h1M144.47 141.78h1M142.72 142.53h1M143.37 140.51h1M141.23 146.6h1M148.2 145.05h1M143.1 154.91h1M149.03 152.2h1M147.39 128.91h1M145.44 143.8h1M139.09 152.86h1M147.76 137.24h1M140.38 148.58h1M142.34 145.8h1M149.67 155.22h1M148.09 146.35h1M145.47 153.59h1M146.33 153.01h1M141.82 138.1h1M150.54 145.25h1M143.77 151.68h1M147.77 159.7h1M148.06 141.03h1M144.78 143.17h1M142.38 134.97h1M142.69 157.24h1M143.91 145.99h1M143.7 138.42h1M142.17 151.57h1M147.35 148h1M143.6 150.74h1M145.14 160.39h1M151.58 149.81h1M146.32 142.75h1M151.54 145.85h1M149.88 162.45h1M149.96 153.49h1M139.39 154.03h1M150.65 149.85h1M151.1 154.13h1M141.56 149.5h1M148.76 161.13h1M148.24 142.04h1M151.25 162.49h1M135.93 134.9h1M148.03 147.74h1M148.59 148.52h1M147.73 156.49h1M143.27 148.42h1M140.31 154.99h1M145.47 147.08h1M149.2 125.42h1M144.19 158.42h1M143.89 156.57h1M142.07 133.67h1M138.08 150.52h1M145.31 158.11h1M146.6 149.75h1M146.54 148.66h1M151.03 158.92h1M144.72 144.33h1M149.47 127.83h1M141.69 159.49h1M149.22 144.12h1M144.96 153.77h1M146.24 148.01h1M151.65 159.75h1M142.82 152.59h1M141.89 156.24h1M142.34 154.5h1M140.97 157.57h1M145.75 134.36h1M138.53 160.18h1M144.34 152.98h1M145.1 156.95h1M136.98 150.04h1M149.29 143.74h1M146.13 158.43h1M146.28 153.7h1M149.39 149.25h1M142.14 144.59h1M146.53 153.61h1M144.25 146.6h1M144.73 154.46h1M140.08 158.47h1M147.51 156.74h1M142.06 136.56h1M146.76 156.29h1M145.41 154.28h1M140.48 138.56h1M147.73 134.28h1M148.35 153.86h1M151.56 153.1h1M145.27 139.2h1M145.86 149.45h1M148.34 151.23h1M143.81 159.05h1M141.26 152.12h1M148.84 153.35h1M152.89 141.99h1M149.09 148.13h1M146.74 154.25h1M144.02 140.27h1M144.51 160.83h1M146.56 144.49h1M142.16 142.25h1M142.17 127.53h1M145.39 146.12h1M140.55 148.11h1M140.77 156.22h1M142.68 156.61h1M145.96 149.09h1M144.77 146.23h1M153.12 151.22h1M144.44 155.27h1M152.06 154.64h1M145.92 141.5h1M143.73 143.22h1M143.93 146.88h1M147.28 139.65h1M146.37 158.23h1M144.19 148.48h1M144.23 143.86h1M146.35 154.88h1M150.64 161.37h1M154.48 152.75h1M150.07 135.43h1M146.21 151.84h1M147.41 149.06h1M143.28 147.26h1M149.62 148.72h1M143.64 139.97h1M150.14 142.36h1M148.07 145.91h1M141.95 148.64h1M144.35 146.34h1M140.24 152.73h1M143.25 153.79h1M144.59 160.88h1M147.13 155.56h1M137.86 137.22h1M144.24 143.95h1M142.01 139.59h1M138.66 135.47h1M150.69 132.26h1M144.99 151.57h1M150.05 152.51h1M140.82 142.3h1M144.3 143.82h1M147.59 136.31h1M143.34 150.36h1M148.4 140.41h1M144.76 155.72h1M152.12 154.55h1M143.87 160.89h1M154.97 142.19h1M151.77 143.77h1M148.2 159.47h1M151.95 154.36h1M143.52 155.81h1M152.18 125.32h1M143.17 145.3h1M147.94 134.61h1M145.68 143.58h1M141.7 152.37h1M146.98 154.69h1M147.98 136.32h1M140.36 144.13h1M144.81 153.49h1M141.13 138h1M144.23 151.81h1M147.84 144.07h1M148.26 134.5h1M138.06 148.52h1M147.5 161h1M143.91 139.38h1M144.16 153.01h1M141.15 155.3h1M139.71 152.97h1M144.09 155.22h1M142.49 155.26h1M150.5 146.8h1M151.07 156.5h1M142.77 154.11h1M142.88 152.88h1M145.54 144.34h1M142.82 157.06h1M142.3 147.85h1M144.76 156.16h1M144.28 141.97h1M140.5 160.62h1M145.94 151.69h1M143.22 151.7h1M145.7 147.44h1M150.66 146.71h1M141.82 144.19h1M146.91 162.24h1M142.7 149.33h1M141.95 149.11h1M142.08 156.61h1M153.19 158.1h1M141.49 154.47h1M145.7 162.33h1M143.35 144.28h1M146.35 127.07h1M151.05 158.88h1M158.73 131.75h1M136.35 152.92h1M148.92 149.47h1M150.8 157.86h1M147.6 156.16h1M149.84 156.01h1M150.85 154.37h1M147.66 151.14h1M141.98 152.68h1M141.44 158.88h1M149.73 135.62h1M139.08 152.57h1M142.22 148.19h1M143.19 152.12h1M147.96 161.84h1M143.03 155.85h1M142.35 155.4h1M145.51 135.26h1M144 141.63h1M148.36 150.57h1M148.21 148.18h1M143.14 144.38h1M144.82 151.31h1M143.48 146.99h1M145.26 151.91h1M149.87 155.69h1M144.53 152.08h1M150.2 145.16h1M137.27 155.01h1M150.28 155.6h1M147.33 157.75h1M138.04 142.84h1M144.87 143.43h1M135.73 151.94h1M152.86 151.84h1M152.33 139.05h1M147.36 154.5h1M140.55 154.19h1M145.67 146.12h1M138.3 142.84h1M148.33 157.05h1M147.91 155.22h1M148.95 146.02h1M137.61 143.11h1M141.13 148.04h1M145.45 139.94h1M143.87 145.54h1M143.66 137.54h1M147.19 155.34h1M144.89 138.96h1M141.9 155.41h1M151.66 151.52h1M139.11 136.44h1M138.86 156.09h1M152.35 155.83h1M145.87 133.25h1M149.74 157.99h1M146.37 140.17h1M144.83 155.23h1M139.65 133.35h1M149.54 141.73h1M149.74 144.43h1M147.73 145.83h1M142.09 149.36h1M151.3 151.48h1M148.47 158.94h1M144.69 145.35h1M147.79 152.27h1M145.03 149.74h1M145.17 143.74h1M142.32 139.97h1M149.71 153.3h1M140.98 158.03h1M143.22 162.24h1M144.16 154.52h1M144.41 150.14h1M145.92 141.08h1M145.91 145.19h1M149.75 159.21h1M145.14 152.62h1M145.09 150.18h1M142.57 160.11h1M143.84 149.92h1M144.08 149.12h1M142.75 157.1h1M143.63 160.26h1M148.82 155.74h1M149.22 151.12h1M142.26 151.73h1M155.22 156.25h1M149.55 145.49h1M144.16 147.08h1M137.82 147.96h1M145.71 155.4h1M145.83 154.47h1M146.35 149.09h1M145.28 134.87h1M147.18 146.15h1M153.45 145.06h1M153.1 139.91h1M145.57 140.65h1M144.27 157.79h1M142.7 141.37h1M150.21 140.6h1M144.74 157.1h1M146.5 144.54h1M143.36 145.18h1M144.05 146.55h1M144.3 152.89h1M145.05 151.41h1M144.44 157.32h1M141.9 142.56h1M146.19 159.18h1M141.32 161.91h1M150.38 153.86h1M144.64 161.49h1M142.19 151.62h1M143.36 160.33h1M149.9 155.48h1M150.2 147.89h1M138.64 160.21h1M142.87 155.74h1M137.9 144.45h1M147.83 138.4h1M144.19 134.95h1M145.01 145.65h1M147.73 135.19h1M149.66 139.52h1M139.35 146.34h1M143.21 162.29h1M143.19 159.4h1M141.82 147.25h1M148.87 154.71h1M143.11 145.58h1M144.53 142.49h1M150.32 151.97h1M144.13 144.17h1M148.95 150.15h1M149.42 146.14h1M150.19 150.44h1M144.87 153.52h1M151.49 131.35h1M141.56 156.21h1M146.38 152.57h1M134.02 136.29h1M146.18 149.75h1M142.7 133.57h1M147.44 139.66h1M147.41 151h1M147.46 139.75h1M147.33 149.32h1M142.51 144.64h1M147.52 145.22h1M143.63 148.07h1M143.91 159.47h1M149.6 145.18h1M140.24 160.27h1M150.17 146.25h1M149.47 137.98h1M142.49 152.42h1M146.96 137.08h1M154.41 145.83h1M153.65 148.21h1M146.38 149.24h1M136.72 147.34h1M148.39 139.9h1M139.56 142.4h1M151.18 141.67h1M141.66 149.19h1M150.73 128.83h1M147.93 154.26h1M145.2 145.96h1M141.34 153.89h1M140.97 138.83h1M145.54 153.71h1M140.48 155.56h1M150.67 142.41h1M143.98 155h1M146.84 150.64h1M141.45 154.65h1M144.1 142.75h1M144.17 158.79h1M149.31 157.74h1M144.56 151.83h1M149.33 149.42h1M141.82 154.39h1M146.24 162.18h1M140.9 152.62h1M149.32 149.54h1M139.05 162.18h1M151.02 159.59h1M144.26 161.34h1M144.38 148.7h1M143.31 140.33h1M145.38 147.79h1M142.93 154.29h1M143.32 143.32h1M154.72 145.84h1M140.82 146.22h1M145.91 155.33h1M141.76 139.5h1M144.29 149.32h1M144.97 151.01h1M145.1 151.5h1M138.92 150.11h1M148.25 157.34h1M143.68 143.41h1M141.05 157.82h1M154.69 151.35h1M144.91 154.37h1M144.99 151.45h1M138.64 140.38h1M148.45 160.71h1M141.99 140.52h1M145.98 156.98h1M152.05 161.8h1M137.44 160.44h1M146.73 154.3h1M149.72 149.96h1M141.44 155.17h1M148.61 159.85h1M146.2 151.61h1M142.72 160.04h1M142.56 144.71h1M148.41 132.83h1M146.99 135.55h1M144.24 142.5h1M143.6 141.32h1M138.72 143.36h1M145.74 153.49h1M141.41 147.32h1M148.06 138.1h1M146.31 161.32h1M151.03 139.83h1M136.86 153.47h1M150.46 143.76h1M144.77 158.7h1M146.42 146.63h1M139.91 161.07h1M143.76 141.89h1M147.89 155.14h1M134.88 126.79h1M138.05 158.57h1M140.59 149.41h1M144.57 156.62h1M143.8 138.2h1M143.55 142.79h1M145.26 140.23h1M144.81 160.52h1M149.18 147.68h1M149.43 138.64h1M146.69 142.27h1M143.37 153.94h1M143.57 141.38h1M142.57 131.54h1M141.75 150.23h1M147.7 144.78h1M146.12 143.99h1M147.01 152.64h1M150.86 149.89h1M142.7 143.21h1M150.01 138.72h1M147.48 142.64h1M145.4 137.35h1M148.51 161.49h1M148.26 160.03h1M142.76 151.84h1M143.47 154.09h1M145.99 149.72h1M146.14 143.93h1M145.98 159.34h1M144.31 152.34h1M148.44 151.47h1M146.88 156.09h1M155.47 123.54h1M147.31 142.86h1M141.89 151.75h1M148.69 154.73h1M146.09 154.89h1M141.61 159h1M150.05 148.08h1M146.04 142.37h1M146.41 141.96h1M139.91 141.07h1M139.66 155.3h1M143.3 141.38h1M144.34 145.53h1M146.12 139.82h1M145.98 161.35h1M150.45 152.8h1M145.41 126.14h1M141.34 145.04h1M142.72 138.7h1M146.05 157.74h1M145.66 162.2h1M140.75 156.92h1M137.92 159.75h1M141.15 146.23h1M147.18 157.12h1M143.57 148.53h1M142.43 159.12h1M143.8 158.82h1M150.12 159.42h1M144.4 148.05h1M148.21 152.18h1M147.15 130.81h1M147.99 158.3h1M150.99 151h1M145.43 160.19h1M150.21 153.9h1M146.2 146.53h1M145.9 145.54h1M148 138.47h1M137.83 132.96h1M149.36 130.46h1M146 148.83h1M147 157.64h1M146.99 154.05h1M142.48 146.17h1M149.97 140.17h1M144.58 159.72h1M143.75 147.21h1M145.16 158.71h1M144.49 158.78h1M145.07 124.92h1M150.61 147.51h1M148.54 142.99h1M145.81 147h1M144.21 134.35h1M148.68 154.29h1M150.57 151.89h1M146.51 153.82h1M140.47 157.37h1M151.04 145.29h1M146.91 158.18h1M147.96 146.94h1M148.23 156.55h1M145.36 154.23h1M152.63 156.01h1M144.29 158.16h1M142.66 147.4h1M148.14 152.17h1M147.03 148.55h1M150.93 155.6h1M145.19 145.38h1M145.59 141.01h1M146.84 151.89h1M143.6 151.24h1M145.39 151.86h1M143.82 150.16h1M155.17 142.38h1M141.5 146.19h1M144.93 131.92h1M148.93 162.22h1M144.21 133.56h1M144.09 160.63h1M149.04 155.76h1M149.76 149.57h1M149.81 142.33h1M152.01 146.35h1M145.2 157.17h1M142.16 149.42h1M144.83 154.63h1M150.81 134h1M149.21 147.92h1M143.54 138.78h1M148.07 160.53h1M146.2 141.93h1M143.54 150.06h1M148.78 148.69h1M142.96 145.44h1M139.88 143.39h1M149.33 142.31h1M147.07 144.84h1M144.11 150.08h1M149.9 139.22h1M150.36 159.57h1M144.33 155.56h1M148.53 155.48h1M147.96 157.74h1M149.85 147.24h1M146.58 158.42h1M139.94 153.79h1M152.05 161.52h1M143.73 143.94h1M145.56 139.32h1M141.46 138.11h1M139.74 152.62h1M138.01 151.68h1M149.55 152.16h1M145.75 132.6h1M146.12 148.74h1M140.56 148.99h1M144.34 148.19h1M142.55 140.66h1M144.42 151.36h1M145.95 129.76h1M146.74 155.2h1M150.19 147.3h1M149.04 144.7h1M150.09 158.42h1M141.71 157.85h1M145.78 149.37h1M143.22 143.18h1M144.06 138.21h1M150.28 149.03h1M143.84 157.15h1M144.99 147.74h1M145 137.29h1M145.64 139.01h1M145.4 148.9h1M147.24 141.26h1M150.24 152.58h1M151.69 144.18h1M141.18 138.13h1M145.98 124.71h1M141.58 160.34h1M145.43 159.38h1M144.75 156.48h1M148.61 153.8h1M142.76 150.45h1M146.44 159.63h1M137.58 161.05h1M140.73 132.76h1M150.54 151.81h1M148.42 146.71h1M141.88 150.66h1M149.28 138.01h1M150.25 148.66h1M149.64 141h1M149.62 162.72h1M146.3 158.35h1M143.16 142.06h1M152.44 146.56h1M148.19 144.99h1M149.48 145.1h1M150.49 139.87h1M145.32 159.33h1M150.05 149.74h1M145.06 160.48h1M146.11 153.03h1M148.23 154.34h1M143.89 145.68h1M143.84 141.89h1M151.62 147h1M144.92 144.6h1M138.71 160.54h1M151.04 156.95h1M142.82 139.96h1M148.02 145.75h1M143.69 152.74h1M140.08 136.43h1M146.51 148.32h1M154.03 159.9h1M142.86 123.12h1M142.86 153.55h1M148.77 161.85h1M148.27 135.23h1M140.38 157.34h1M152.93 154.91h1M150.78 151.72h1M144.24 132.01h1M143.44 154.18h1M147.56 159.61h1M151.62 142.34h1M143.36 157.59h1M149.07 160.81h1M141.79 152.33h1M149.25 150.48h1M145.76 141.88h1M143.78 147.14h1M143.82 139.22h1M149.5 134.99h1M142.79 160.37h1M144.74 155.51h1M154.26 129.05h1M144.33 142.59h1M142.64 159.97h1M138.44 151.12h1M141.28 128.74h1M149.35 158.08h1M144.43 152.2h1M150.68 130.56h1M149.64 149.06h1M147.46 129.55h1M144.88 158.09h1M140.24 154.16h1M146.88 155.17h1M141.92 153.34h1M139.09 149.92h1M146.87 147.82h1M149.63 155.12h1M149.71 157.48h1M140.62 145.26h1M148.11 145.18h1M148.75 149.43h1M143.63 135.59h1M140.81 162.74h1M145.51 153.73h1M141.9 143.99h1M139.41 140.44h1M149.51 158.28h1M138.3 156.17h1M149.8 134.34h1M143.31 139.05h1M144.28 151.53h1M144.68 156.54h1M140.03 141.04h1M139.77 159.95h1M140.57 145.59h1M144.06 159.91h1M141.89 149.13h1M148.02 152.5h1M144.83 142.37h1M139.66 150.18h1M142.48 134.63h1M144.04 139.66h1M141.5 162.2h1M146.48 147.24h1M149.71 140.62h1M146.44 153.33h1M146.01 146.69h1M142.5 146.72h1M146.87 156.52h1M146.96 149.84h1M147.51 153.97h1M145.45 151.7h1M148.66 141.07h1M148.3 152.15h1M146.31 152.78h1M139.51 157.91h1M146.13 149.38h1M146.93 146.55h1M146.87 131.39h1M149.77 146.58h1M155.79 145.44h1M147.68 157.1h1M144.37 149.3h1M141.44 157.7h1M151.44 137.69h1M143.55 146.76h1M140.95 134.82h1M138.94 144.11h1M148.16 155.48h1M142.51 152.22h1M145.94 148.57h1M145.17 140.89h1M149 150.57h1M140.77 153.43h1M148.6 150.1h1M139.85 155.7h1M142.72 139.68h1M147.1 157.59h1M135.88 138.73h1M140.82 158.58h1M151.54 153.39h1M144.55 150.97h1M142.17 141.84h1M148.09 137.86h1M142.5 160.08h1M143.28 157.54h1M146.15 147.02h1M144.06 157.08h1M143.77 149.41h1M148.03 150.1h1M147.33 159.68h1M149.64 134.22h1M142.42 161.26h1M138.29 145.19h1M146.73 142.76h1M145.1 154.44h1M150.68 139.18h1M146.37 147.55h1M143.58 138.59h1M146.51 159.24h1M145.2 157.71h1M145.27 157.36h1M145.19 151.85h1M145.37 152.65h1M151 141.2h1M151.56 128.49h1M147.24 147.72h1M145.32 137.94h1M147.87 159.31h1M143.03 132.74h1M144.79 153.93h1M159.35 153.59h1M146.7 156.38h1M147.72 145.91h1M147.4 144.92h1M143.38 161.72h1M141.71 147.81h1M153.08 158.52h1M155.46 139.47h1M147.77 141.05h1M144.81 138.51h1M146.47 155.56h1M143.94 145.67h1M145.91 153.49h1M144.53 144.9h1M145.98 151.1h1M136.05 144.65h1M150.49 146.08h1M142.86 156.76h1M159.7 154.25h1M142 131.48h1M151.76 137.14h1M149.96 135.72h1M140.37 150.71h1M134.65 138.26h1M146.31 125.97h1M142.57 138.49h1M141.01 160.7h1M145.42 161.17h1M148.44 144.68h1M152.38 153.82h1M144.51 157.55h1M151.68 147h1M141.43 160.4h1M157.77 117.3h1M146.63 140.24h1M139.18 162.33h1M133.71 153.58h1M141.19 127.16h1M137.08 130.88h1M144.31 157.79h1M138.77 152.02h1M159.48 151.6h1M148.29 146.63h1M138.88 153.92h1M132.68 153.72h1M147.35 142.92h1M140.19 136.49h1M145.36 152.09h1M148.12 156.87h1M136.93 151.92h1M134.85 140.51h1M145.22 146.42h1M140.92 152.23h1M139.62 155.28h1M151.32 138.73h1M140.54 138.32h1M134.81 151.03h1M148.09 145.32h1M139.79 149.96h1M140.83 153.41h1M155.56 160.01h1M140.06 158.44h1M140.91 140.51h1M147.49 152.18h1M153.95 122.77h1M135.85 155.71h1M145.7 150.14h1M146.13 130.87h1M139.83 156.63h1M141 152.4h1M157.62 138.15h1M134.97 134.09h1M154.48 139.62h1M151.9 155.27h1M146.51 155.24h1M155.83 151.37h1M147.32 121.08h1M134.27 132.91h1M144.93 156.34h1M140.24 151.37h1M145.44 155.83h1M153.89 156.36h1M144.61 152.92h1M148.42 154.88h1M132.7 133.06h1M144.96 138.56h1M146.45 144.5h1M143.38 141.38h1M140.37 148.44h1M142.05 149.03h1M134.16 146.64h1M133.55 119.77h1M146.08 134.69h1M144.75 147.42h1M152.37 152.68h1M138.32 141.29h1M148.2 140.61h1M139.98 150.45h1M135.26 142.05h1M149.99 137.19h1M143.48 152.12h1M142.62 148.89h1M137.13 160.3h1M144.65 143.46h1M139.95 161.34h1M144.23 160.23h1M144.67 140.54h1M148.67 152.76h1M137.64 159.59h1M148.86 147.01h1M145.07 140.97h1M142.9 145.51h1M147.86 128.43h1M155.55 142.75h1M150.48 149.43h1M145.71 157.52h1M145.77 148.01h1M153.64 155.2h1M150.09 160.01h1M144.57 156.05h1M139.96 151.72h1M146.64 158.25h1M137.57 152.83h1M136.24 159.07h1M146.95 142.05h1M148.68 162.19h1M133.9 146.96h1M147.17 138.31h1M131.44 140.52h1M141.53 144.48h1M131.14 145.92h1M137.52 156.75h1M142.2 161.99h1M149.27 123.94h1M147.39 132.65h1M142.75 135.93h1M145.28 147.22h1M140.66 157.25h1M136.75 159.46h1M150.22 149.4h1M146.59 148.53h1M143.83 150.37h1M140.33 139.49h1M139.9 142.9h1M141.5 157.66h1M152 157.58h1M142.82 156.91h1M150.78 152.19h1M147.74 153.47h1M131.16 145.25h1M135.42 161.46h1M146.87 151.4h1M151.76 160.85h1M156.97 153.66h1M140.28 122.63h1M137.41 160.82h1M147.8 146.1h1M149.28 145.6h1M154.4 154.34h1M150.23 149.3h1M137.55 154.9h1M134.95 149.79h1M140.51 149.98h1M147.11 138.13h1M149.46 157.94h1M135.66 155.32h1M156.07 161.34h1M144.9 155.65h1M145.21 161.14h1M143.1 154.13h1M144.77 150.21h1M144.68 135.35h1M143.3 160.97h1M144.47 125.23h1M146.05 141.79h1M145.7 157.09h1M147.89 141.14h1M155.76 155.75h1M153.71 151.77h1M140.1 145.25h1M149.75 140.82h1M148.65 150.24h1M142.45 158.48h1M151.64 153.44h1M153.74 142.29h1M154.06 159h1M156.5 122.55h1M153.24 158.5h1M144.5 153.3h1M148.38 145.12h1M156.22 134.12h1M144.53 151.49h1M135.2 144.96h1M146.68 136.93h1M137.19 119.58h1M141.37 152.73h1M142.5 157.26h1M134.36 150.88h1M149.83 145.31h1M150.3 146.15h1M145.47 144.78h1M142.01 149.99h1M154.48 140.83h1M158.89 151.64h1M148.93 150.12h1M142.43 123.93h1M152.62 150.05h1M146.35 161.54h1M141.39 141.93h1M146.64 159.14h1M143.31 158.06h1M155.03 132.3h1M154.92 162.04h1M147.45 161.99h1M144.45 145.4h1M143.97 161.2h1M143.4 144.91h1M137.22 147.95h1M146.33 156.19h1M140.68 159.81h1M153.15 143.13h1M152.53 153.18h1M144.38 151.78h1M136.7 147.71h1M139.93 153.37h1M150.15 141.48h1M142.22 151.81h1M140.18 143.28h1M148.16 149.88h1M136.41 160.67h1M141.96 158.85h1M132.91 159.36h1M147.21 140.45h1M155.67 157.01h1M142.33 142.81h1M140.59 156.2h1M131.48 143.14h1M141.52 140.98h1M138.3 152.29h1M137.53 147.95h1M142.11 162.03h1M146.72 127.75h1M140.44 159.77h1M139.32 162.27h1M156.44 160.67h1M144.61 160.29h1M145.62 153.87h1M133.03 159.74h1M141.89 158.69h1M151.23 158.3h1M140.97 131.49h1M142.74 151.99h1M144.07 139.35h1M145.57 141.01h1M145.26 162.01h1M143.28 138.22h1M137.12 156.68h1M148.55 137.11h1M162.49 145.55h1M141.23 146.35h1M142.4 123.28h1M146.19 159.94h1M130.2 156.78h1M147.12 157.66h1M140.21 156h1M151.85 118.35h1M138.09 144.77h1M143.19 151.86h1M146.05 128.79h1M140.21 134.46h1M145.16 155.08h1M131.77 143.55h1M139.91 147.59h1M150.34 160.56h1M148.86 154.35h1M150.51 152.12h1M137.06 141.47h1M150.3 161.48h1M144.74 149.87h1M150.86 146.09h1M132.99 158.61h1M143.57 141.93h1M146.56 127.53h1M149.27 153h1M143.29 150.54h1M145.85 159.86h1M139.67 144.04h1M148.18 161.93h1M145.35 142.39h1M144.45 157.43h1M150.51 153.94h1M141.9 144.72h1M142.74 156.91h1M127.79 131.28h1M149.3 154.12h1M131.58 160.54h1M139.27 147.8h1M138.84 122.51h1M153.45 158.56h1M141.48 143.76h1M141.95 140.22h1M146.48 150.05h1M140.96 152.24h1M162.58 157.38h1M137.08 146.03h1M153.12 160.89h1M144.49 157.63h1M141.91 151.52h1M144.88 161.4h1M148.53 150.05h1M139.36 134h1M140.66 150.2h1M148.29 160.82h1M145.32 156.44h1M134.96 130.85h1M144.97 159.84h1M142.48 158.16h1M151.72 128.57h1M143.65 152.31h1M138.94 154.79h1M135.35 162.24h1M137.75 151.09h1M143.94 161.75h1M153.69 133.37h1M133.8 122.02h1M150.5 151.97h1M156.77 151.24h1M147.94 141.52h1M143.23 156.01h1M150.83 159.25h1M145.82 131.25h1M133.61 150.32h1M149.4 148.8h1M134.87 160.15h1M154.18 144.41h1M147.95 139.38h1M149.71 158.19h1M152.47 159.93h1M134.65 143.04h1M145.28 157.55h1M135.1 158.64h1M145.35 144.2h1M148.82 148.93h1M155.26 155.37h1M153.68 120.13h1M148.59 151.3h1M150.43 143.2h1M145.08 160h1M140.25 150.84h1M143.59 151.16h1M149.2 135.29h1M140.44 155.67h1M142.47 157.49h1M149.33 138.68h1M153.26 150.4h1M159.95 152.63h1M152.99 156.31h1M156.15 160.62h1M148.28 161.76h1M145.55 126.24h1M141.98 156.71h1M153.34 139.26h1M153.31 111.34h1M152.29 125.82h1M136.8 155.35h1M140.44 151.55h1M140.41 161.44h1M146.42 158.93h1M148.28 158.59h1M145.84 159.66h1M152.48 131.81h1M136.33 133.99h1M137.72 152.83h1M145.56 158.76h1M147.95 145h1M145.76 140.81h1M143.23 144.32h1M144.61 142.31h1M134.35 160.39h1M150.51 154.74h1M153.99 149.95h1M141.23 155.6h1M145.83 159.51h1M142.75 156.13h1M148.7 156.11h1M161.72 155.17h1M149.19 159.21h1M141.08 131.28h1M155.71 128.07h1M152.79 131.85h1M142.74 144.64h1M152.87 145.18h1M142.3 154.19h1M141.48 160.62h1M133.63 150.92h1M143.84 161.5h1M145.2 157.34h1M149.82 159.13h1M147.9 139.67h1M150.52 158.99h1M144.71 151.44h1M150.14 153.33h1M155.27 152.91h1M154.08 160.47h1M143.37 128.91h1M149.05 148.75h1M145.36 124.7h1M138.42 150.26h1M157.76 144.2h1M146.73 153.1h1M155.84 146.55h1M137.27 149.24h1M140.88 131.94h1M138.8 152.05h1M142.25 145h1M148.02 146.87h1M151.07 149.99h1M142.03 136.25h1M143.54 158h1M150.73 145.61h1M149.3 148.73h1M151.94 161.94h1M150.34 151.8h1M132.43 130.79h1M145.92 157.03h1M148.69 156.11h1M129.61 150.35h1M142.7 152.59h1M143.19 129.5h1M137.31 159.61h1M140.65 158.05h1M139.68 158.88h1M152.62 127.8h1M142.84 149.34h1M138.33 142.19h1M150.09 148.8h1M146.79 145.08h1M145.04 125.77h1M147.62 160.83h1M152.33 157.82h1M137.97 130.33h1M150.18 159.88h1M153.17 141.12h1M156.29 157.74h1M145.99 154.01h1M141.71 153.67h1M144.31 160.34h1M146.6 147.37h1M134.77 153.2h1M131.2 152.45h1M138.28 160.1h1M148.03 150.88h1M146.83 155.48h1M139.31 133.01h1M153.26 140.49h1M140.36 153.71h1M150.85 153.86h1M146.09 126.29h1M138.8 133.72h1M148.17 132.33h1M143.47 159.07h1M135.05 157.5h1M153.41 140h1M141.03 140.79h1M150.46 161.19h1M149.82 146.04h1M141.08 158.12h1M141.46 118.31h1M141.61 148.41h1M139.24 159.34h1M153.16 148.44h1M146.33 159.11h1M147.49 120.27h1M152.12 158.68h1M146.61 144.28h1M143.96 136.26h1M147.16 148.14h1M135.66 126.28h1M144.24 156.21h1M141.04 151.97h1M152.52 147.28h1M153.41 151.11h1M158.58 156.58h1M141.8 126.5h1M150.11 155.06h1M153.01 142.32h1M141.08 159.48h1M147.29 149.36h1M140.52 162.05h1M137.13 134.71h1M140.21 161.46h1M140.3 146.84h1M145.21 146.02h1M138.8 140.64h1M144.2 159.96h1M144.45 148.17h1M157.81 142.29h1M151.59 157.47h1M144.31 122.42h1M141.98 161.75h1M140.44 145.76h1M151.94 160.63h1M145.81 148.74h1M144.64 160.04h1M133.73 161.8h1M141.73 154.33h1M146.4 148.76h1M153.54 145.48h1M144.94 162.01h1M131.28 146.69h1M142.68 159.86h1M150.38 145.69h1M146.2 159.07h1M149.33 140.17h1M130.65 156.09h1M155.63 147.19h1M151.02 162.06h1M143.8 116.87h1M143.68 161.68h1M142.03 157.8h1M139.76 159.26h1M129.51 116.78h1M148.52 157.44h1M133.7 148.1h1M134.61 157.92h1M148.71 145.36h1M143.46 137.66h1M145 140.22h1M134.36 144.26h1M145.27 158.27h1M148.03 149.06h1M146.73 147.03h1M139.29 150.89h1M148.22 144.1h1M142.46 152.6h1M136.98 148.35h1M134.95 161.09h1M144.73 154.82h1M140.56 153.19h1M142.44 147.05h1M136.32 158.66h1M146.13 153.92h1M137.88 161.38h1M135.7 136.33h1M145.69 142.69h1M138.78 154.87h1M134.81 153.33h1M148.87 157.67h1M143.03 152.1h1M146.35 148.52h1M147.53 161.28h1M140.54 152.84h1M142.95 159.8h1M145.34 131.5h1M137.08 161.42h1M146.58 161.32h1M138.65 149.44h1M136.54 162.11h1M148.36 159.67h1M143.73 149.42h1M148.35 133.66h1M144.27 146.58h1M156.06 140.24h1M141.34 160.78h1M151.66 144.42h1M152.13 148.42h1M151.85 157.44h1M141.8 154.17h1M145.38 159.7h1M149.94 156.1h1M145.55 155.7h1M145.51 135.81h1M143.67 160.99h1M140.42 161.44h1M138.41 143.8h1M137.65 145.11h1M143.06 160.91h1M131.17 159.82h1M133.42 118.84h1M147.33 154.45h1M146.73 147.23h1M152.6 148.07h1M152.57 151.87h1M146.6 148.99h1M147.41 145.84h1M138.6 136.13h1M152.81 154.96h1M150.83 160.58h1M141.3 126.16h1M145.1 134.36h1M133.82 155.6h1M144.59 157.31h1M146.58 126.6h1M151.16 148.11h1M152.64 133.7h1M144.18 144.08h1M148.76 157.63h1M142.63 144.4h1M151.18 153.94h1M148.74 143.23h1M145.06 142.76h1M139.81 145.5h1M146.85 135.38h1M152.16 160.12h1M144.32 154.53h1M149.01 155.92h1M137.18 147.02h1M136.38 149.5h1M147.72 141.7h1M143.11 148.46h1M144 118.3h1M141.45 149.02h1M147.32 153.81h1M151.45 157.79h1M142.62 153.49h1M149.78 154.73h1M126.46 156.5h1M147.48 155.8h1M154.92 153.58h1M164.51 152.55h1M140.07 113.2h1M133.79 138.5h1M148.85 146.16h1M142.6 161.34h1M138.11 153.43h1M139 145.44h1M146.01 152.41h1M142.37 161.04h1M139.87 151.19h1M149.37 132.79h1M139.1 156.68h1M132.24 145h1M142.09 153.88h1M143.98 145.54h1M146.64 148.68h1M143.13 157.25h1M147.26 139.18h1M135.83 151.12h1M139.04 151.14h1M148.91 159.72h1M148.69 129.89h1M143.85 141.54h1M145.43 159.65h1M139.71 147.6h1M141.4 148.35h1M140.31 134.71h1M139.31 153.6h1M148.74 133.7h1M147.29 149.55h1M149.61 156.4h1M152.3 162.37h1M145.71 144.79h1M140.24 152.32h1M145.54 131.48h1M150.89 153.03h1M134.73 156.67h1M149.05 141.31h1M158.04 138.31h1M163.81 162.01h1M146.27 147.86h1M142.19 137.94h1M145.88 155.29h1M153.34 156.86h1M133.91 155.05h1M146.06 154.5h1M146.71 161.74h1M143.92 150.03h1M138.97 161.2h1M126.47 150.68h1M142.33 136.46h1M149.04 149.02h1M134.08 151.67h1M139.3 152.52h1M149.52 139.87h1M148.99 155.13h1M148.5 157.99h1M139.61 122.54h1M145.71 159.62h1M140.96 162.25h1M149.28 150.56h1M145.86 159.27h1M135.15 139.52h1M143.51 153.21h1M149.73 160.82h1M137.3 157.02h1M145.9 140.91h1M140.74 160.01h1M139.79 158.14h1M145.38 136.1h1M161.64 156.49h1M143.61 157.6h1M152.12 149.54h1M148.32 148.4h1M142.18 161.31h1M152.56 151.96h1M143.09 147.84h1M147.73 157.6h1M145.95 143.94h1M148.95 158.45h1M147.26 161.44h1M138.98 156.51h1M140.79 158h1M150.3 137.73h1M148.83 134.68h1M140.14 159.35h1M155.85 143.53h1M145.79 159.86h1M147.49 159.64h1M139.73 139.64h1M156.54 142.89h1M145.64 134.6h1M147.72 143.27h1M151.7 146.28h1M147.41 119.93h1M150.38 110.49h1M142.86 130.59h1M146.17 117.86h1M143.8 128.09h1M144.76 114.5h1M142.79 123.22h1M143.53 120.9h1M142.91 128.19h1M144.02 125.93h1M140.7 116.6h1M146.1 118.68h1M144.07 116.42h1M144.32 122.02h1M140.21 125.38h1M144.9 130.12h1M141.41 131.56h1M152.84 126.9h1M149.12 130.59h1M145.63 113.11h1M148.54 117.95h1M142.9 121.55h1M137.47 112.77h1M144.35 111.78h1M139.56 116.27h1M152.36 123.72h1M136.17 116.8h1M139.02 131.06h1M144.45 129.33h1M147.7 118.68h1M146.98 119.28h1M146.11 108.84h1M144.71 115.6h1M139.52 127.81h1M145.87 118.44h1M146.76 130.67h1M144.08 123.19h1M133 109.42h1M146.61 115.49h1M151.22 126.4h1M144.47 122.93h1M150.16 121.93h1M130.21 124.92h1M143.93 129.77h1M151.98 120.08h1M145.84 128.27h1M143.03 128.47h1M147.26 116.51h1M141.65 115.21h1M147.26 115.95h1M151.43 131.05h1M144.88 128.92h1M145.81 131.23h1M146.46 129.45h1M143.6 115.7h1M140.98 128.04h1M151.89 114.31h1M140.04 126.18h1M143.6 131.09h1M141.04 126.11h1M141.99 127.31h1M144.22 125.41h1M153.45 123.56h1M147.17 130.61h1M150.29 113.21h1M149.28 130.6h1M146.33 128.43h1M140.29 112.56h1M149.1 107.08h1M145.62 125.35h1M152.58 130.75h1M144.91 127.96h1M145.08 130.83h1M140.12 123.51h1M142.71 128.33h1M142.88 127.1h1M140.51 120.41h1M138.07 125.53h1M144.71 129.53h1M143.4 126.48h1M141.64 112.91h1M138.86 127.23h1M146.11 126.1h1M144.53 130.95h1M147.78 126.47h1M137.04 117.84h1M146.88 117.72h1M138.7 122.86h1M147.95 126.03h1M145.84 111.39h1M149 111.07h1M144.98 121.97h1M143.26 123.07h1M149.15 125.04h1M154.7 126.92h1M145.48 127.54h1M152.16 122.86h1M147.07 129h1M140.46 110.43h1M151.06 124.42h1M140.03 119.64h1M145.65 125.65h1M148.19 120.31h1M153.17 124.47h1M144.48 113.51h1M149.73 123.7h1M151.06 119.31h1M142.95 123.67h1M139 119.86h1M140.25 110.28h1M56.5 51h1M58 53.5h1M59.5 56h1M62 52h1M66 50.5h1M70 53h1M79 54h1M56 60h1M60 137h1M98 140h1M102 141h1M104 139.5h1M106 140.5h1M96.5 112h1M121 111h1M131 64.5h1M128 110h1M150 96h1M157 80h1M153 88h1M148 91h1M144 99h1M139 97h1M151 93.5h1M146.5 95h1M142 90h1M155 98h1M149 86h1" stroke="#000" stroke-width="1" fill="none"/>
<path d="M62.84 214.43h1M62.34 216.14h1M56.98 220h1M60.91 220.39h1M54.12 221.36h1M63.15 213.31h1M55.47 223.68h1M58.29 214.33h1M53.04 223.03h1M56.97 220.84h1M62.59 218.62h1M54.2 218.97h1M57.1 222.32h1M65.08 219.98h1M85.32 218.79h1M57.01 219.04h1M75.11 220.57h1M56.24 221.94h1M57.11 215.9h1M54.3 218.54h1M55.27 221.68h1M65.72 217.22h1M56.62 217.63h1M61.99 223.97h1M59.35 225.17h1M73.51 224.04h1M74.92 216.78h1M54.57 219.2h1M58.29 217h1M61.74 220.77h1M75.45 215.56h1M84.95 219.61h1M58.71 224.15h1M65.06 224.22h1M58.24 215.22h1M55.12 214.12h1M62.99 220.85h1M59.77 218.78h1M57.93 219.2h1M74.41 220.63h1M59.33 223.34h1M66.68 216.79h1M55.35 217.48h1M56.54 218.72h1M56.29 222.08h1M55.13 222.28h1M59.56 218.49h1M54.32 214.62h1M57.34 222.85h1M57.12 216.76h1M64.71 220.22h1M59.9 222.35h1M56.1 221.9h1M61.26 212.95h1M60.92 219.73h1M53.76 221.43h1M70.91 218.15h1M60.94 226.77h1M55.05 217.68h1M58.02 218.76h1M57.7 224.12h1M54.51 220.74h1M65.2 219.97h1M59.88 215.45h1M58.34 216.47h1M85.38 220.94h1M60.25 214.64h1M56.18 220.74h1M60.41 216.21h1M57.93 218.12h1M67.08 217.67h1M56.16 212.69h1M73.79 217.79h1M54.3 219.54h1M67.48 222.45h1M56.4 218.42h1M64.81 214.63h1M54.53 223.95h1M58.83 215.43h1M80.53 219.61h1M62.39 217.32h1M57.34 214.71h1M71.76 216.95h1M63.21 215.16h1M91.73 221.15h1M67.72 220.89h1M68.75 214.29h1M54.03 220.94h1M55.05 214.15h1M62.46 223.56h1M56.63 219.72h1M62.19 219.55h1M61 214.11h1M60.3 218.26h1M66.73 216.73h1M58.15 214.43h1M56.4 215.36h1M70.68 219.28h1M60.03 222.77h1M58.58 223.93h1M54.87 220.4h1M72.66 225.3h1M58.45 220.73h1M62.73 219.57h1M53.48 218.72h1M70.15 217.27h1M54.61 214.88h1M57.58 219.96h1M59.99 219.33h1M64.21 219.05h1M53.58 220.49h1M64.28 220.16h1M54.76 217.74h1M66.33 222.46h1M54.01 216.83h1M63.79 219.2h1M73.93 217.12h1M61.49 212.82h1M54.73 220h1M59 213.56h1M53.07 220.07h1M77.71 222.22h1M59.94 222.43h1M59.61 220.65h1M56.1 221.15h1M53.29 220.22h1M53.82 222.92h1M56.25 216.13h1M71.75 215.54h1M68.35 221.74h1M60.47 217.48h1M57.09 215.66h1M59.73 220.41h1M66.15 217.7h1M70.77 219.46h1M75.48 217.4h1M55.47 212.87h1M66.25 222.83h1M59.91 216.95h1M67.72 218.13h1M57.1 218.41h1M63.01 225.76h1M57.96 216.96h1M64.1 225.12h1M56.77 217.95h1M60.38 217.96h1M68.97 221.3h1M58.65 224.83h1M55.63 218.32h1M58.1 220.64h1M53.93 223.3h1M70.04 220.57h1M55.92 218.92h1M54.79 218.53h1M69.66 220.14h1M57.53 214.03h1M72.44 218.89h1M71.84 219.13h1M63.4 219.89h1M59.02 221.91h1M57.77 219.91h1M63.38 218.52h1M53.11 221.16h1M76.98 219.57h1M58.01 216.21h1M77.95 221.61h1M61.21 223.53h1M53.64 226.3h1M57.53 222.31h1M56.63 223.92h1M68.25 222.54h1M68.96 222.27h1M61.59 219.5h1M67.28 222.37h1M58.18 218.62h1M69.01 218.55h1M59.44 218.99h1M59.93 222.07h1M73.97 219.48h1M65.88 218.49h1M61.18 221.74h1M53.65 220.42h1M63.67 212.62h1M61.33 214.89h1M57.01 219.95h1M62.23 218.24h1M60.3 221.1h1M79.11 220.86h1M64.3 219.71h1M58.92 224.77h1M59.82 224.29h1M53.28 221.52h1M54.58 222.99h1M74.08 218.08h1M61.8 217.81h1M88.81 214.99h1M55.34 223.44h1M56.62 221.88h1M80.26 215.82h1M69.69 218.81h1M61.23 216.43h1M64.26 218.72h1M57.83 221.17h1M58.01 217.95h1M54.42 216.34h1M56.65 218.23h1M69.52 216.61h1M63.99 221.21h1M61.53 223.24h1M65.13 224.59h1M65.1 217.88h1M58.96 223.68h1M63.8 219h1M68.89 221.15h1M57.28 217.57h1M53.53 217.93h1M57.17 219.83h1M58.03 217.44h1M64.33 219.5h1M58.76 217.22h1M58.88 218.95h1M60.59 217.24h1M55.24 217.29h1M60.4 218h1M58.45 220.2h1M54.98 225.39h1M58.05 227.15h1M56.33 217.74h1M53.63 215.17h1M56.71 222.29h1M57.43 216.28h1M76.83 226.88h1M56.02 218.71h1M63.55 222.84h1M61.67 224.98h1M55.45 221.22h1M53.11 218.19h1M58.5 223.17h1M65.68 224.32h1M55.73 224.43h1M68.65 220.47h1M67.38 217.46h1M57.95 216.84h1M63.29 217.73h1M72.18 220.4h1M67.11 223.36h1M56.74 223.29h1M60.46 217.4h1M78.79 219.16h1M58.74 218.2h1M60.35 220.35h1M63.95 217.44h1M55.43 218.09h1M59.19 217.54h1M58.61 223.3h1M60.67 221.7h1M53.67 217.62h1M53.11 220.62h1M58.68 221.52h1M57.01 220.75h1M57 223.4h1M53.12 218.25h1M59.51 216.39h1M62.17 222.85h1M54.75 217.22h1M54.92 222.5h1M72.47 221.88h1M68.36 222.34h1M60.49 220.73h1M64.24 214.02h1M59.2 223.31h1M57.57 223.26h1M58.5 220.38h1M54.81 220.19h1M59.94 218.47h1M59.9 218.62h1M59.08 227.14h1M66.23 220.03h1M61.73 216.34h1M56.62 218.59h1M57.67 222.15h1M58.84 223.81h1M55.65 216.4h1M61.41 219.06h1M55.18 215.58h1M60.14 219.96h1M59.96 215.15h1M60.73 225.41h1M57.69 212.04h1M63.54 217.07h1M57.82 221.56h1M67.93 218.99h1M58.1 219.45h1M68.25 217.43h1M60.98 215.67h1M67.64 223.17h1M69.25 221.15h1M75.33 222.02h1M62.16 214.94h1M75.34 222.33h1M70.76 219.35h1M72.28 220.74h1M70.17 221.28h1M63.02 221.37h1M57.21 217.56h1M57.93 222.87h1M57.83 218.8h1M76.42 217.61h1M63.78 218.36h1M72.18 224.7h1M62.4 219.59h1M59.91 219.15h1M61.64 218.9h1M61.15 219.16h1M55.6 225.34h1M74.94 217.17h1M62.65 217.1h1M57.99 220.52h1M80.86 222.62h1M55.18 217.67h1M59.9 219.67h1M63.52 218.82h1M62.58 222.63h1M61.23 217.46h1M58.71 219.19h1M55.7 220.74h1M62.44 218.24h1M53.72 219.23h1M57.75 222.62h1M67.14 224.64h1M73.07 224.75h1M59.38 216.95h1M67.05 218.36h1M76.58 216.97h1M64.31 218.51h1M54.07 214.08h1M62.47 216.56h1M68.46 219.83h1M56.22 215.83h1M61.65 217.89h1M70.43 219.92h1M73.31 220.92h1M63.83 219.14h1M53.92 218.6h1M66.2 217.18h1M58.78 220.43h1M60.92 216.56h1M54.62 217.54h1M58.23 219.8h1M54.61 226.1h1M57.16 221.77h1M66.98 222.58h1M65.69 222.91h1M55.86 222.72h1M53.78 220.14h1M62.79 216.43h1M60.51 218.46h1M55.12 215.27h1M55.98 217.26h1M60.7 221.4h1M63.57 218.21h1M66.89 217.74h1M62.27 218.51h1M58.07 216.28h1M53.6 218.05h1M55.37 222.35h1M53.15 225.01h1M62.42 219.98h1M56.37 222.18h1M56.76 219.54h1M57.47 219.38h1M54.94 223.65h1M66.57 218.04h1M55.05 220.98h1M62.2 220.81h1M67.33 216.02h1M65.79 218.67h1M73.75 218.35h1M63.44 222.37h1M64.52 221.1h1M64.99 222.27h1M59.78 217.55h1M54.92 218.25h1M57.04 215.94h1M59.81 220.97h1M61.8 219.92h1M68.36 217.48h1M61.31 220.13h1M68.64 223.47h1M64.05 221.32h1M58.4 223.5h1M53.89 219.9h1M62.16 223.1h1M70.44 219.87h1M57.13 217.97h1M62.73 213.41h1M60.15 213.99h1M62.39 223.74h1M53.8 219.73h1M65.84 218.18h1M65.17 215.81h1M59.78 221.44h1M54.02 215.66h1M69.24 219.41h1M59.23 222.47h1M61.63 221.48h1M72.8 223.23h1M65.13 217.54h1M57 219.51h1M55.58 219.95h1M64.34 219.55h1M57.72 217.09h1M59.28 219.94h1M55.87 223.95h1M54.25 215.6h1M56.14 218.18h1M58.3 221.44h1M58.82 225.19h1M54.53 218.44h1M56.7 214.26h1M65.64 222.55h1M57.59 220h1M55.19 220.85h1M53.87 218.05h1M53.08 221.97h1M62.47 217.28h1M63.67 218.37h1M70.73 217.46h1M60.73 222.32h1M56.32 224.41h1M57.08 222.47h1M54.26 220.98h1M71 218.31h1M77.44 222.18h1M68.9 222.05h1M54.8 217.16h1M56.64 217.01h1M67.73 216.38h1M74.57 218.87h1M60.37 216.6h1M64.39 213.85h1M64.47 224.05h1M63.17 218.09h1M64.92 218.77h1M54.82 217h1M56.2 218.64h1M55.7 217.62h1M56.8 216.57h1M60.96 225.8h1M64.17 215.57h1M72.84 216.79h1M55.09 217.03h1M54.86 219.38h1M54.08 220.54h1M53.44 220.32h1M70.18 222.67h1M53.21 218.51h1M56.06 216.43h1M67.39 220.79h1M65.15 225.58h1M58.25 214.2h1M54.78 217.28h1M59.92 223.43h1M60.69 217.67h1M63.9 220.22h1M72.24 216.25h1M73.27 220.34h1M58.26 221.47h1M63.1 219.57h1M72.72 223.25h1M53.24 218.07h1M74.91 219.48h1M60.07 222.63h1M71.01 219.51h1M54.44 217.61h1M60.96 222.63h1M71.11 222.38h1M74.44 217.1h1M56.14 222.29h1M58.67 217.76h1M60.43 216.23h1M59.13 222.8h1M55.85 221.1h1M60.87 217.38h1M54.02 221.9h1M60.66 218.95h1M58.3 218.33h1M55.48 216.85h1M60.04 225.17h1M54.08 218.07h1M61.21 218.54h1M62.3 218.14h1M65.45 218.91h1M69.83 221.35h1M54.45 221.35h1M73.06 218.28h1M64.82 224.81h1M61.76 218.22h1M63.82 226.1h1M56.82 213.38h1M54.4 220.61h1M59.9 224.68h1M58.77 220.79h1M62.18 222.85h1M59.26 224.61h1M54.18 218.61h1M67.2 214.32h1M61.07 215.84h1M53.95 226.84h1M70.49 218.27h1M70.3 223.33h1M63.57 222.9h1M55.29 216.39h1M67.8 219.02h1M61.08 219.29h1M57.55 214.05h1M54.15 217h1M59.43 223.62h1M61.15 221.58h1M57.08 220.27h1M55.22 217.83h1M57.64 218.95h1M55.32 217.45h1M53.82 213.84h1M62.12 224.69h1M76.53 219.73h1M62.99 222.76h1M64.52 220.96h1M53.07 217.28h1M66.53 219.82h1M57.47 217.96h1M59.02 222.64h1M61.56 217.1h1M54.54 222.49h1M61.23 218.12h1M55.9 220.36h1M59.02 212.87h1M53.16 213.09h1M64.84 215.65h1M65.12 217.02h1M59.01 218.86h1M67.97 213.01h1M54.9 218.88h1M54.35 226.32h1M65.09 215.87h1M67.1 221.17h1M55.09 214.54h1M62.74 215.34h1M54.75 217.15h1M53.34 219.92h1M82.29 219.14h1M72.21 223.25h1M53.28 217.95h1M53.27 218.31h1M54.62 218.05h1M61.62 220.48h1M53.48 213.23h1M59.41 216.27h1M54.34 214.68h1M65.39 219.83h1M61.25 220.6h1M54.04 221.18h1M71.5 220.04h1M54.9 221.32h1M69.04 223.23h1M57.4 220.17h1M65.49 219.7h1M57.72 220.07h1M66.61 220.66h1M59.66 222.49h1M61.05 222.81h1M53.64 218.87h1M66.42 218.51h1M62.52 216.79h1M65.79 218h1M68.01 221.18h1M59.33 223.71h1M53.6 217.79h1M65.76 217.55h1M57.87 220.75h1M53.4 223.86h1M77.73 224.33h1M65.78 220.34h1M54.94 216.1h1M53.03 218.22h1M56.46 219.06h1M67.03 220.56h1M58.01 219.65h1M73.88 219.47h1M71.78 217.93h1M58.16 221.9h1M72.28 216.55h1M60.54 218.78h1M60.15 217.57h1M75.45 217.8h1M67.52 215.6h1M53.79 215.37h1M65.99 223.45h1M55.38 214.94h1M60.6 221.54h1M65.82 219.94h1M53.27 217.35h1M71.24 220.88h1M57.03 219.05h1M53.32 221.87h1M58.08 223.82h1M56.65 221.07h1M57.24 221.01h1M62.52 220.25h1M58.33 218.19h1M69.99 220.13h1M56.62 219.17h1M65.66 219.27h1M65.12 217.95h1M53.4 221.31h1M57.89 217.45h1M71.76 218.82h1M70.43 223.34h1M59.18 217.73h1M65.46 219.4h1M71.39 220.37h1M60.91 221.14h1M58.51 222.37h1M66.84 221.59h1M57.11 216.21h1M55.19 220.39h1M60.63 219.31h1M64.55 219.1h1M54.72 220.84h1M66.15 219.91h1M75.64 219.16h1M74.18 221.8h1M64.2 220.77h1M53.35 216.41h1M55.48 220.03h1M55.97 215.87h1M63.17 222.17h1M63.12 209.3h1M61.19 221.18h1M63.95 216.51h1M54.46 217.83h1M79.45 214.83h1M73.04 215.71h1M55.05 217.63h1M59.49 221.21h1M83.74 217.89h1M60.61 215.35h1M56.83 217.49h1M55.89 221.27h1M54.61 218.65h1M80.31 222.09h1M60.37 219.36h1M56.35 218.64h1M55.24 224.81h1M66.28 224.5h1M68.17 214.28h1M67.51 221.58h1M56.44 217h1M55.9 215.72h1M68.39 215.56h1M54.94 215.91h1M59.77 217.98h1M60.34 218.25h1M70.11 218.24h1M66.04 217.26h1M66.33 220.91h1M54.47 215.38h1M67.07 218.21h1M60.36 222.47h1M54.61 215.37h1M63.02 225.84h1M56.67 220.57h1M76.64 215.52h1M57.81 219.86h1M63.47 224.03h1M55.48 221.07h1M55.33 222.14h1M59.74 222.99h1M63.44 216.76h1M54.71 216.63h1M54.69 224.06h1M77.37 221.28h1M64.8 220.06h1M67.77 217.44h1M58.75 219.77h1M65.41 210.2h1M57.74 218.65h1M64.79 216.74h1M53.04 216.69h1M56.21 219.94h1M56.85 211.95h1M78.48 220.56h1M72.78 219.17h1M54.69 217.34h1M63.72 217.99h1M61.76 221.23h1M60.01 221.2h1M76.47 224.54h1M65.44 221.91h1M58.23 220.55h1M68.37 217.57h1M64.7 225.19h1M55.7 220.2h1M65.93 215.77h1M55.4 218.59h1M64.68 220.61h1M62.32 216.21h1M64.2 218.81h1M60.29 217.26h1M55.43 216.51h1M73.66 220.22h1M64.67 215.33h1M60.37 215.86h1M61.86 223.14h1M55.73 220.31h1M73.29 224.53h1M75.74 222.05h1M57.92 218.16h1M62.22 227.36h1M64 221.69h1M62.68 217.82h1M68.41 219.75h1M56.27 218.44h1M61.04 218.67h1M61.67 222.7h1M55.23 218.79h1M58.94 223.01h1M61.19 215.24h1M57.34 218.58h1M61.76 213.2h1M57.91 218.22h1M66.3 221.74h1M54.48 222.58h1M72.31 221.2h1M75.59 223.89h1M63.31 218.02h1M61.61 217.01h1M67.6 217.23h1M53.49 215.27h1M66.63 225.34h1M65.27 217.76h1M57.49 225.53h1M73.27 223.71h1M63.37 218.08h1M54.64 216.24h1M58.9 223.98h1M66.54 212.6h1M65.58 219.11h1M58.52 219.26h1M62.59 224.84h1M65.18 218.23h1M63.91 220.28h1M56.35 215.32h1M53.28 211.07h1M60.02 216.98h1M53.14 224.2h1M53.15 222.95h1M75.35 224.36h1M65.61 217.8h1M69.84 216.88h1M58.41 217.94h1M54.59 218.13h1M53.99 218.24h1M61.91 218.36h1M58.69 214.76h1M58.96 218.14h1M62.13 219.52h1M65.23 220.47h1M61.44 223.13h1M60.45 222.75h1M69.3 221.51h1M61.95 220.03h1M55.12 221.23h1M63.47 220.11h1M53.69 218.56h1M57.82 221.81h1M62.46 214.18h1M59.34 219.86h1M60.01 223.94h1M56.08 222.75h1M58.85 225.05h1M54.07 226.4h1M56.93 220.82h1M57.83 218.38h1M57.4 220.37h1M54.76 217.5h1M56.04 219.89h1M68.93 221.36h1M66.67 214.76h1M60.46 217.24h1M60.45 220.84h1M76.01 217.61h1M56.44 217.76h1M63.55 226.28h1M59.45 223.18h1M58.35 215.21h1M76.41 223.22h1M66.3 218.98h1M57.09 221.15h1M54.91 218.33h1M63.47 216.28h1M68.52 222.73h1M62.87 221.54h1M72.08 223.3h1M57.79 222.45h1M57.07 223.99h1M58.41 222.99h1M61.48 214.68h1M59.46 220.97h1M55.47 221.75h1M59.41 222.79h1M58.73 220.94h1M58.1 219.44h1M71.55 218.06h1M62.64 223.45h1M63.91 220.73h1M69.37 219.86h1M67.16 220.88h1M61.64 220.98h1M56.96 218.99h1M56.49 219.65h1M69.72 220.39h1M58.09 218.7h1M62.41 216.96h1M61.22 214.06h1M57.93 220.2h1M66.59 217.74h1M61.7 216.77h1M68.8 218.68h1M54.58 222.63h1M69.62 219.96h1M69.16 220.78h1M57.81 220h1M59.98 215.58h1M64.99 224.72h1M55.21 222h1M56.51 224.51h1M64.84 218.26h1M54.39 220.09h1M58.56 221.48h1M54.06 218.03h1M68.73 219.03h1M56.56 225.31h1M59.87 218.58h1M80 216.63h1M55.25 217.46h1M55.23 217.06h1M59.01 219.85h1M68.7 218.13h1M54.92 217.79h1M61.55 219.34h1M73.28 218.89h1M67.54 225.82h1M57.06 219.84h1M54.42 220.92h1M63.53 215.28h1M54.99 218.38h1M64.05 221.81h1M63.48 219.27h1M63.36 217.13h1M59.77 219.4h1M54.61 220.43h1M66.99 219.32h1M71.53 221.38h1M58.87 221.8h1M63.71 219.88h1M65.45 224.24h1M59.32 221.53h1M55.14 220.56h1M56.64 218.72h1M53.72 224.71h1M69.66 218.73h1M57.71 215.27h1M65.42 221.47h1M53.82 216.38h1M54.56 218.18h1M57.23 216.28h1M60.98 222.06h1M54.59 221.93h1M57.63 220.29h1M53.73 217.8h1M56.39 220.16h1M59.73 220.38h1M79.37 221.81h1M65.04 220.37h1M55.6 220.55h1M69.61 217.73h1M61.37 218.32h1M67.5 220.43h1M60.96 215.5h1M57.8 222.56h1M71.4 223.09h1M68.63 217.67h1M55.54 219.44h1M53.28 217.62h1M60.79 215.13h1M59.43 222.26h1M81.69 222.9h1M54.94 226.14h1M57.89 218.85h1M61.82 217.25h1M55.31 218.93h1M64.7 215.73h1M58.69 217.85h1M53.94 217.45h1M64.94 223.45h1M59.61 220.2h1M55.16 218.26h1M73.86 224.07h1M70.32 213.88h1M56.81 227.72h1M71.83 223.99h1M62.68 222.59h1M65.06 217.77h1M54.83 217.66h1M67.1 215.16h1M59.57 217.8h1M67.17 220.37h1M64.51 220.99h1M53.49 218.5h1M77.95 222.35h1M55.83 221.28h1M58.88 217.25h1M61.56 223.5h1M70.57 220.24h1M60.92 218.74h1M54.4 222.86h1M53.23 220.48h1M54.61 217.84h1M56.53 222.52h1M66.36 218.63h1M53.93 219h1M75.11 217.76h1M59.82 216.77h1M57.2 215.16h1M57.74 219.02h1M60.12 219.72h1M65.68 219.71h1M70.41 217.81h1M54.96 216.46h1M53.73 221.81h1M63.09 219.52h1M66.15 221.96h1M77.84 225.57h1M56.34 215.19h1M60.1 215.88h1M64.72 221.16h1M57.48 221.2h1M53.82 220.78h1M64.63 218.99h1M58.57 219.94h1M66.66 216.51h1M58.52 215.4h1M53.73 216.37h1M55.26 220.09h1M55.71 214.89h1M55.02 217.02h1M58.06 221.11h1M62.94 223.9h1M60.7 221.56h1M67.6 219.07h1M56.79 215.94h1M55.23 217.59h1M58.53 222.04h1M71.84 211.94h1M54.79 217.27h1M63.2 220.89h1M78.4 216.47h1M63.96 215.12h1M57.56 217.32h1M54.99 218.15h1M62.72 220.2h1M58.03 223.84h1M53.87 218.8h1M57.2 220.13h1M69.5 222.84h1M57.1 216.55h1M53.7 220.28h1M62.71 220.17h1M81.18 212.15h1M62.81 216.46h1M56.06 224.05h1M56.32 221.6h1M65.96 218.8h1M55.17 218.3h1M61.25 219.7h1M59.11 220.98h1M56.38 221.15h1M53.7 222.68h1M60.89 219.5h1M53.39 218.57h1M61.04 223.57h1M57.98 219.42h1M62.98 219.68h1M64.72 221.31h1M58.48 218.79h1M57.8 228.3h1M56.99 216.34h1M53.24 219.15h1M70.48 217.66h1M74.17 217.23h1M65.9 217.32h1M53.02 218.74h1M58.06 215.91h1M60.74 218.76h1M71.22 222.8h1M65.6 214.57h1M74.67 222.62h1M81.52 225.26h1M58.27 218.71h1M61.12 217.7h1M62.31 223.14h1M65.44 216.72h1M55.32 217.07h1M56.83 213.97h1M64.63 213.54h1M56.76 225.57h1M58.6 215.69h1M53.28 220.33h1M58.58 217.83h1M54.89 222.19h1M56.14 220.17h1M63.54 216.56h1M54.8 216.54h1M57.39 219.47h1M67.38 221.29h1M65.27 221.26h1M66.11 228.38h1M62.15 215.48h1M71.2 223.41h1M55.38 214.33h1M72.38 218.28h1M56.53 214.72h1M54.42 221.51h1M55.25 217.61h1M58.3 217.87h1M64.61 217.57h1M53.93 223.76h1M79.04 213.43h1M64.2 224.51h1M59.52 217.46h1M54.44 220.93h1M57.15 221.74h1M70.79 219.68h1M60.93 219.92h1M66.01 225.76h1M59.79 223.28h1M63.36 216.95h1M60.11 218.29h1M54.63 214.15h1M66.73 219.05h1M65.22 222.14h1M56.69 224.6h1M58.1 221.33h1M66.78 219.54h1M53.89 219.08h1M58.05 222.6h1M70.71 218.57h1M56 223.26h1M53.35 217.38h1M61.19 215.3h1M61.26 225.76h1M56.12 212.23h1M65.03 220.25h1M57.74 219.32h1M54.03 214.92h1M65.83 217.57h1M67.43 221.54h1M55.84 220.04h1M58.1 220.61h1M58.55 215.36h1M63.38 217.42h1M70.49 224.69h1M56.88 215.27h1M70.7 219.54h1M56.62 223.09h1M69.63 219.96h1M58.67 211.71h1M53.47 214.72h1M55.73 220.17h1M58.59 224.68h1M63.17 226.45h1M60.92 220.78h1M57.7 221.82h1M56.21 218.2h1M58.94 224.12h1M59.56 217.94h1M64.49 215.75h1M63.98 218.22h1M67.74 217.81h1M64.73 215.44h1M53.18 220.22h1M64.66 214.02h1M80.51 222.32h1M60.55 214.03h1M63.25 221.08h1M61.29 220.87h1M64.89 215.48h1M54.75 216.28h1M68.18 222.78h1M60.64 215.5h1M67.74 221.33h1M54.16 223.08h1M71.61 218.53h1M54.15 218.18h1M65.46 217.54h1M56.78 220.25h1M53.49 221.85h1M54.29 218.13h1M54.1 219.79h1M56.62 220.32h1M54.4 223.33h1M59.23 217.06h1M53.89 217.53h1M55.89 218.01h1M55.31 220.12h1M62.63 215.15h1M55.41 215.85h1M73.2 218.85h1M60.07 223.94h1M56.26 218.42h1M69.19 220.02h1M55 217.78h1M62.52 223.47h1M55.36 219.22h1M64.21 216.37h1M56.85 220.72h1M59.48 211.29h1M56.83 212.59h1M56.4 220.2h1M68.1 219.03h1M65.84 218.55h1M64.78 216.59h1M56.21 218.51h1M65.68 220.17h1M69.66 213.3h1M63.88 220.5h1M53.27 215.51h1M57.97 222.57h1M59.18 220.74h1M57.41 219.29h1M55.25 218.08h1M65.23 215.64h1M59.64 221.4h1M58.03 220.89h1M58.37 220.27h1M56.24 217.5h1M59.67 224.15h1M54.46 211.47h1M65.43 219.57h1M53.38 222.24h1M67.96 218.23h1M64.25 217.12h1M55.81 216.92h1M59.53 217.86h1M60.11 217.46h1M54.52 219.91h1M65.15 221.66h1M65.98 220.07h1M84.92 220.12h1M58.32 219.71h1M60.34 219.75h1M66.77 220.34h1M76.71 219.28h1M61.24 219.4h1M59 220.18h1M53.57 221.59h1M61.15 220.26h1M54.2 216.33h1M65.28 218.44h1M58.86 217.26h1M54.85 217.77h1M60.03 221.97h1M77.11 218.37h1M59.15 222.66h1M57.06 218.86h1M57.69 215.53h1M57.89 226.09h1M71.7 219.36h1M58.15 213.19h1M71.64 225.16h1M53.24 221.72h1M58.7 217.89h1M72.53 216.41h1M53.07 214.79h1M58.46 224.11h1M64.42 218.79h1M54.76 218.92h1M66.29 222.42h1M61.35 218.26h1M56.68 217.93h1M62.73 221.08h1M59.19 217.29h1M55.21 222.4h1M64.11 214.83h1M67.24 219.06h1M56.96 217.69h1M56.6 217.99h1M67.06 221.74h1M71.36 225.06h1M61.88 217.78h1M63.51 216.6h1M63.14 216.29h1M61.1 216.9h1M62.73 220.91h1M53.34 217.42h1M53.94 220.13h1M59.89 214.69h1M56.8 216.21h1M54.27 217.66h1M67.37 223.79h1M54.79 218.25h1M56.99 213.63h1M56.03 217.86h1M53.75 219.3h1M63.76 220.71h1M56.91 220.29h1M57.83 215.57h1M61.63 218.51h1M56.47 217.45h1M66.28 215.39h1M57.55 218.28h1M59.92 220.29h1M55.11 218.21h1M60.02 222.58h1M56.24 219.5h1M65.24 219.29h1M70.37 221.39h1M53.74 223.94h1M61.52 221.43h1M60.45 217.05h1M56.12 223.4h1M58.69 217.78h1M59.46 218.74h1M67.84 215.79h1M67.72 221.64h1M67.58 217.67h1M65.82 219.81h1M54.27 221.98h1M71.41 219.19h1M60.05 217.78h1M57.36 217.2h1M59.91 218.66h1M57.23 214.48h1M68.99 226.26h1M55.53 216.42h1M55.19 225.11h1M64.04 215.58h1M56.83 220.4h1M57.58 217.78h1M65.36 219.25h1M61.51 217.66h1M53.15 218.24h1M64.83 219.87h1M69.21 213.01h1M57.82 218.06h1M55.76 221.42h1M73.44 217.31h1M82.9 216.56h1M57.71 219.64h1M58.09 220.63h1M69.99 216.86h1M58.73 220.64h1M75 218.6h1M53.88 222.11h1M71.16 222.03h1M56.94 215.51h1M55.97 220.24h1M82.79 219.21h1M61.05 218.81h1M57.38 214.64h1M65.29 218.87h1M57.81 222.8h1M55.38 221.23h1M76.1 221.45h1M57.65 225.24h1M53.07 216.28h1M62.82 212.21h1M65.33 218.54h1M58.8 218.5h1M54.17 217.89h1M57.93 225.17h1M54.95 222.43h1M70.9 221.11h1M57.38 221.65h1M53.48 214.01h1M56.06 219.27h1M69 216.4h1M68.41 214.81h1M58.35 219.92h1M56.69 219.79h1M55.04 220.99h1M58.65 219.59h1M56.88 223.71h1M66.93 221.1h1M58.66 217.56h1M65.3 217.28h1M54.72 220.79h1M65.91 226.06h1M68.65 214.89h1M70.68 219.08h1M55.17 220.77h1M76.44 219.32h1M58.23 215.72h1M53.4 216.26h1M68.05 222.65h1M63.65 222.21h1M64.88 220.49h1M57.78 215.8h1M80.7 215.86h1M59.28 225h1M62.42 216.9h1M67.28 220.01h1M60.69 218.66h1M78.61 215.09h1M56.84 218.74h1M57.92 220.12h1M56.89 222.24h1M56.61 218.77h1M70.55 220.44h1M54.33 214.39h1M59.92 218.85h1M55.97 215.42h1M66.99 224.8h1M58.77 221.66h1M60.33 216.27h1M59.04 218.25h1M57.33 219.21h1M53.53 222.19h1M60.76 216.8h1M60.69 217.5h1M62.28 216.95h1M53.53 220.5h1M56.81 220.38h1M56.14 223.21h1M71.87 217.38h1M71.15 222.84h1M56.23 219.78h1M74.57 221.13h1M60.53 223.16h1M61.76 221.24h1M67.37 221.76h1M66.63 212.92h1M68.99 216.67h1M55.35 219.08h1M66.13 218.29h1M77.54 220.68h1M62.48 218.7h1M59.71 218.67h1M69.3 216.83h1M53.45 217.49h1M74.48 221.94h1M69.65 220.44h1M54.41 220.82h1M65.54 220.35h1M67.85 221.01h1M75.12 221.81h1M62.39 213.81h1M67.84 223.17h1M64.25 214.32h1M56.01 219.41h1M70.02 220.55h1M63.35 219.15h1M63.84 214.5h1M54.39 218.17h1M68.71 221.39h1M55.45 217.08h1M73.54 216.44h1M56.96 218.08h1M61.12 222.07h1M60.61 224.61h1M67.71 216.27h1M62.11 220.17h1M59.99 219.78h1M63.22 224h1M56.03 218.31h1M58.09 219.25h1M54.82 218.03h1M59.02 219.46h1M54.28 221.48h1M61.15 218.17h1M55.37 223.47h1M68.43 223.67h1M64.66 213.07h1M64.03 219.74h1M72.98 213.52h1M61.07 219.52h1M64.05 220.31h1M59.3 221.83h1M58.92 216.65h1M63.02 221.77h1M61.81 222.79h1M69.69 222.81h1M62.22 223.48h1M82.91 220.35h1M58 219.86h1M59.65 219.68h1M63.16 221.67h1M53.03 215.98h1M78.54 218.62h1M57.78 216.8h1M63.5 219.89h1M58.98 217.39h1M53.8 219.45h1M60.06 218.95h1M54.21 220.05h1M62.84 220.36h1M76.49 218.05h1M60.5 222.38h1M59.88 225.67h1M64.95 216.34h1M53.73 219.98h1M62.14 220.3h1M60.72 217.82h1M60.69 221.82h1M73.8 215.94h1M54.32 218.01h1M72.16 223.31h1M61.97 220.15h1M68.13 216.11h1M53.09 221.43h1M60 228.71h1M65.81 222.76h1M64.26 223.57h1M59.02 221.79h1M59.06 215.43h1M55.49 218.78h1M62.43 220.68h1M54.09 219.81h1M56.93 216.81h1M77.3 219.59h1M53.44 223.14h1M67.23 218.3h1M66.71 221.3h1M53.65 219.1h1M54.05 219.71h1M59.2 220h1M59.23 218.25h1M60.59 220.64h1M57.03 221.32h1M61.38 220.33h1M64.67 216.5h1M61.79 220.27h1M56.25 222.86h1M59.33 216.56h1M58.55 219.93h1M59.09 219.61h1M72.44 223.38h1M67.68 221.35h1M64.32 220.87h1M62.09 220.82h1M55.82 220.4h1M56.55 220.81h1M59.91 217.81h1M58.44 222.66h1M62.91 223.48h1M54.34 214.94h1M56.04 220.73h1M61.16 215.25h1M60.25 224.4h1M53.6 222.02h1M53.22 217.56h1M69.27 220.68h1M53.08 219.9h1M58.79 214.37h1M57.26 221.87h1M79.09 215.65h1M53.17 221.86h1M58.89 215.86h1M64.09 216.51h1M54.31 220.13h1M59.89 217.57h1M53.6 217.9h1M62.58 220.37h1M75.71 214.43h1M60.05 220.82h1M79.13 215.64h1M59.64 217.82h1M55.19 221.26h1M63.77 218.42h1M58 218.08h1M66.6 219.12h1M59.96 218.38h1M71.66 223.09h1M58.5 217.18h1M64.35 218.52h1M56.3 217.32h1M67.83 214.71h1M54.01 220.83h1M57.15 222.86h1M62.69 220.54h1M60.23 216.7h1M64.47 219.55h1M53.44 219.58h1M81.11 221.51h1M53.81 217.78h1M57.1 223.44h1M72.92 220.75h1M64.83 216.3h1M53.26 218.59h1M58.74 221.58h1M54.39 219.85h1M73.96 221.64h1M63.23 223.01h1M56.1 217.55h1M72.88 220.86h1M57.71 218.53h1M60.95 222.22h1M63.6 218h1M60.3 218.58h1M64.44 219.88h1M61.19 221.26h1M77.93 216.09h1M54.18 218.74h1M71.25 215.05h1M59.14 215.28h1M60.32 219.5h1M64.65 216.19h1M60.95 222.25h1M59.64 216.38h1M62.64 221.06h1M63.8 220.04h1M58.42 218.61h1M81.35 222.2h1M62.41 223.73h1M74.92 219.59h1M65.52 222.37h1M59.95 220.7h1M68.77 223.46h1M54.75 221.18h1M56.65 222.26h1M78.85 225.53h1M61.06 220.65h1M56.04 219.44h1M54.85 221.07h1M63.25 213.25h1M57.13 219.15h1M69.32 219.94h1M56.76 221.46h1M56.33 217.04h1M59.42 217.8h1M61.17 216.56h1M64.11 218.2h1M64.45 225.49h1M72.48 215.63h1M61.29 219.9h1M60.79 221.84h1M59.27 227.27h1M56.92 220.32h1M59.58 216.34h1M64.78 220.18h1M60.13 219.06h1M53.6 220.01h1M59.86 223.48h1M60.83 219.45h1M66.12 215.03h1M58.78 220.92h1M67.75 221.36h1M61.79 218.26h1M71.03 220.68h1M65.51 219.82h1M53.14 222.76h1M71.03 229.1h1M64.26 210h1M61.9 219.03h1M59.89 217.26h1M59.49 221.79h1M69.85 214.27h1M60.5 216.95h1M77.03 216.85h1M56.12 220.21h1M58.97 221.62h1M56.62 218.32h1M65.3 219.6h1M55.21 220.91h1M61.54 224.58h1M57.28 224.2h1M57.63 215.89h1M75.25 214.61h1M53.2 222.06h1M64.12 222.09h1M63.43 220.26h1M59.2 219.56h1M56.04 221.99h1M55.22 214.25h1M70.46 216.33h1M71.29 217.22h1M66.16 217.14h1M59.49 224.23h1M61.72 224.49h1M58.6 223.66h1M62.84 212.88h1M68.68 220.78h1M80.77 217.54h1M70.13 217.25h1M55.99 219.81h1M54.3 219.5h1M58.37 223.16h1M62.1 220.69h1M53.28 223.04h1M56.58 213.21h1M57.78 222.64h1M66.79 226.67h1M55.55 218.8h1M62.43 217.29h1M61.01 216.5h1M60.05 222h1M56.7 219.25h1M54.06 216.51h1M58.88 223.62h1M64.41 224.34h1M53.43 219.94h1M71.1 217.4h1M72.28 219.17h1M68.36 217.21h1M61 218.84h1M66.87 219.3h1M54.14 222.37h1M63.21 218.77h1M70.56 217.51h1M61.71 221.31h1M67.87 219.47h1M61.87 219.86h1M55.61 222.14h1M54.69 222.37h1M58.63 218.02h1M53.57 217.82h1M56.57 218.65h1M67.31 215.54h1M57.47 219.44h1M55.72 217.38h1M73.45 226.04h1M55.14 219.92h1M56.18 215.47h1M60.95 218.44h1M58.96 218.48h1M57.14 221.92h1M57.97 220.43h1M54.82 217.04h1M64.29 218.89h1M67.17 223.92h1M56.77 220.93h1M54.9 218.17h1M64.34 221.46h1M62.56 220.65h1M64.98 219.6h1M65.62 217.48h1M55.79 214.93h1M61.23 221.55h1M69.63 224.69h1M82.54 214.13h1M56.93 226.05h1M57.64 215.03h1M53.34 219.02h1M53.48 226.41h1M67.62 217.78h1M58.11 216.62h1M62.63 214.89h1M70.78 218.8h1M60.63 220.65h1M65.83 220.63h1M58.03 217.75h1M60.04 218.48h1M77.82 220.77h1M69.19 221.51h1M62.59 218.98h1M63.64 220.07h1M61.64 222.72h1M55.29 216.12h1M63.93 220.85h1M55.36 216.33h1M59.27 219.79h1M70.22 221.32h1M53.87 224.56h1M69.65 226.33h1M58.46 216.99h1M60.61 220.29h1M66.58 220.11h1M76.23 216.78h1M58.74 219.81h1M54.63 216.48h1M77.85 221.83h1M90.38 215.86h1M54.61 219.74h1M62.49 218.78h1M60.43 216.99h1M66.57 220.23h1M71.93 219.63h1M56.52 215.73h1M70.81 218.7h1M69.77 223.22h1M70.85 216.12h1M57.66 217.49h1M53.21 216.09h1M63.29 215.8h1M57.56 221.78h1M53.4 219.92h1M55.87 221.04h1M66.97 217.57h1M69.02 218.06h1M56.3 221.02h1M81.08 219.18h1M74.91 213.67h1M58.59 216.18h1M66.19 214.14h1M66.5 220.41h1M61.43 218.01h1M60.93 215.58h1M54.84 218.26h1M56.47 218.5h1M71.07 216.78h1M63.83 222.78h1M55.33 218.68h1M53.15 219.81h1M56.43 222.37h1M60.8 216.87h1M58.04 218.3h1M65.39 220.38h1M64.84 222.18h1M65.03 217.08h1M59.12 218.81h1M75.76 224.94h1M63.87 216.67h1M73.62 220.92h1M58.6 223.55h1M53.04 220.72h1M59.61 219.27h1M61.98 220.79h1M61.47 220.33h1M66.61 216.65h1M58.46 220.61h1M72.8 219.33h1M64.4 218.23h1M67.25 220.25h1M60.12 222.63h1M57.4 219.1h1M56.49 222.4h1M62.92 216.34h1M55.72 224.6h1M55.27 216.35h1M57.78 217.2h1M75.45 221.27h1M63.4 219.48h1M58.39 221.35h1M60.3 224.45h1M54.59 218.62h1M53.53 219.43h1M61.16 220.97h1M63.08 219.19h1M58.58 219.68h1M64.6 220.24h1M59.22 222.41h1M59.23 220.2h1M56.74 223.54h1M61.31 220.67h1M59.14 216.17h1M55.85 218.06h1M54.88 218.06h1M73.14 218.55h1M59.09 217.76h1M58.11 222.06h1M76.41 218.23h1M54.05 218.89h1M70.25 221.75h1M63.24 220.58h1M58.79 220.49h1M58.53 224.49h1M64.38 215.37h1M58.75 215.82h1M53.06 221.28h1M56.28 215.75h1M63.65 215.73h1M62.49 218.07h1M73.65 222.07h1M53.78 222.35h1M54.62 224.13h1M64.39 226.02h1M84.52 223.58h1M77.39 217.68h1M55.37 218.69h1M58.22 223.66h1M55.8 215.67h1M56.62 219.88h1M63.65 221.56h1M59.58 217.71h1M83.3 222.79h1M55.67 220.4h1M53.12 213.59h1M75.03 216.88h1M65.58 223.26h1M54.69 220.04h1M57.06 221.36h1M71.32 216.67h1M56.52 223.57h1M63 219.72h1M70.18 221.49h1M58.49 225.8h1M63.3 213.93h1M59.89 213.5h1M65.6 222.86h1M56.07 217.95h1M55.42 217.58h1M59.86 219.92h1M55.74 222.97h1M55.25 217.6h1M61.53 223.53h1M60.36 221.61h1M67.82 219h1M54.19 222.32h1M58.07 218.31h1M63.53 217.78h1M69.32 222.68h1M61.03 217.31h1M63.73 218.7h1M61.86 218.35h1M73.73 218.94h1M53.86 225.37h1M58.49 226.5h1M57.31 221.16h1M63.05 220.02h1M62.48 222.79h1M53.83 217.13h1M55.98 223.87h1M63.65 221.12h1M64.97 216.93h1M61.96 222.44h1M55.31 214.35h1M64.59 219.67h1M53.8 216.39h1M68.66 225.63h1M62.46 219.48h1M58.7 224.03h1M71.82 220.18h1M80.27 216.73h1M60.54 218.57h1M63.77 215.57h1M86.21 218.62h1M53.98 218.91h1M55.69 221.12h1M63.46 221.15h1M54 221.4h1M59.12 220.23h1M62.77 223.22h1M55.11 220.8h1M64.99 216.44h1M63.13 220.09h1M68.24 220.97h1M53.32 221.37h1M58.05 222.58h1M68.63 226.55h1M57.52 222.36h1M55.29 221.59h1M62.17 220.1h1M55.37 219.43h1M55.66 224.41h1M56.08 222.79h1M78.99 215.61h1M71.88 216.54h1M63.32 215.74h1M67.24 219.03h1M55.46 218.64h1M54.15 223.12h1M53.12 215.15h1M61.65 218.64h1M61.83 220.66h1M59.55 218.56h1M54.4 223.32h1M63.54 220.98h1M54.81 217.65h1M55.08 218.6h1M53.92 219.83h1M57.22 218.1h1M59.74 222.62h1M65.19 220.12h1M67.28 213.53h1M65.74 218.2h1M65.35 215.64h1M58.48 216.56h1M56.42 218.87h1M53.72 221.12h1M56.37 220.46h1M75.8 220.13h1M60.23 213.49h1M55.51 222.01h1M57.07 221h1M59.98 220.66h1M67.92 219.64h1M53.43 218.23h1M67.98 221.26h1M53.37 221.52h1M56.95 222.55h1M54.76 216.3h1M59.65 218.61h1M65.06 219.62h1M54.76 224.84h1M56.31 219.78h1M69.24 215.25h1M63.41 219.64h1M77.87 226.26h1M57.84 219.95h1M72.57 218.76h1M61.67 220.55h1M75.11 212.42h1M71.31 220.88h1M63.37 220.32h1M59.32 221.18h1M59.81 218.63h1M58.38 225.02h1M70.07 219.73h1M76.3 218.92h1M67.9 222.38h1M60.49 218.9h1M59.44 220.11h1M59.57 216.03h1M59.37 218.95h1M62.03 217.01h1M64.61 216.57h1M58.37 220.6h1M55.19 213.85h1M71.25 220.87h1M68.74 221.87h1M57.88 219.01h1M65.32 220.57h1M53.65 217.41h1M73.2 222.09h1M61.01 218.1h1M74.04 221.91h1M65.26 216.38h1M55.15 222h1M59.76 213.11h1M61.72 218.37h1M71.4 219.9h1M65.78 221.2h1M62.15 223h1M62.2 216.48h1M65.86 224.66h1M67.07 217.97h1M60.24 212.07h1M57.01 223.09h1M53.03 221.38h1M55.88 221.06h1M77.5 220.32h1M54.98 219.73h1M57.4 216.05h1M57.56 223.79h1M62.54 218.18h1M72.82 219.42h1M71.05 219.21h1M59.42 221.33h1M67.79 215.28h1M63.23 222.22h1M70.08 222.08h1M56.65 223.39h1M72.46 216.85h1M56.88 219.27h1M62.49 220.46h1M58.31 218.5h1M53.58 221.4h1M59.44 224.77h1M60.63 220.18h1M61.86 213.01h1M66.59 218.46h1M54.86 221.33h1M62.63 216.02h1M56.63 217.98h1M57.41 219.07h1M59.5 220.12h1M55.71 214.77h1M71.06 214.44h1M63.49 219.41h1M66.46 214.43h1M56.09 218.54h1M64.2 219.44h1M61.89 219.87h1M64.19 218.9h1M58.35 214.56h1M60.4 218.25h1M58.09 226.4h1M59.17 220.28h1M56.36 214.6h1M66.17 221.66h1M64.92 217.36h1M58.02 223.06h1M63.92 216.79h1M60.19 222.07h1M74.2 218.35h1M63.43 222.45h1M60.91 217.86h1M58.61 226.07h1M53.07 219.78h1M72.74 219.31h1M55.59 224.05h1M53.47 220.07h1M61.98 215.64h1M63.31 223.08h1M58.47 219.2h1M63.27 219.94h1M55.04 213.49h1M76.62 213.71h1M67.2 213.75h1M54.33 217.62h1M55.09 216.21h1M53.5 218.16h1M59.84 218.8h1M60.71 222.51h1M63.39 215.64h1M62.15 218.67h1M55.34 214.29h1M65.37 218.02h1M65.41 224.93h1M61.49 219h1M53.32 219.35h1M61.01 217.09h1M74.17 218.5h1M68.75 214.86h1M54.98 220.77h1M63.55 216.8h1M56.68 223.38h1M55.45 216.63h1M54.77 214.65h1M73.36 214.91h1M67.72 219.25h1M61.36 220.65h1M56.92 221.62h1M54.5 222.96h1M56.86 217.76h1M54.17 213.62h1M55.93 216.3h1M61.83 218.66h1M62.01 217.51h1M56.74 222.97h1M63.04 220.17h1M77.5 223.76h1M62.31 219.62h1M78.99 211.9h1M62.84 221.38h1M64.97 218.07h1M59.06 218.76h1M63.54 220.18h1M58.44 222.47h1M57.13 219.13h1M54.95 217.06h1M55.66 221.35h1M78.83 219.19h1M61.39 216.22h1M61.53 221.5h1M81.55 215.68h1M61.74 218.87h1M89.12 217.35h1M55.51 223h1M64.56 218.2h1M54.25 219.03h1M53.29 218.3h1M54.25 221.15h1M63.76 214.49h1M61.24 223.42h1M53.6 219.19h1M58.79 222.42h1M56.7 220.72h1M56.42 221.19h1M58.69 218.69h1M53.3 221.06h1M56.16 219.88h1M69.95 216.46h1M57.36 217.81h1M56.04 220.55h1M68.15 219.59h1M74.52 216.71h1M54.38 221.39h1M81.45 217.59h1M72.87 217.25h1M63.52 218.72h1M58.11 217.13h1M53.47 225.46h1M65.89 219.28h1M57.65 222.65h1M63.75 212.39h1M54.8 216.72h1M70.14 216.08h1M67.81 216.64h1M63.42 217.86h1M58.4 218.48h1M80.1 222.47h1M64.52 218.73h1M59.07 215.03h1M58.39 214.42h1M71.71 219.94h1M54.75 216.47h1M56.12 214.15h1M53.2 225.14h1M64.51 219.55h1M59.99 224.52h1M57.38 218.66h1M56.37 221.03h1M60.86 218.1h1M53.04 220.24h1M58.32 214.6h1M54.68 221.33h1M59.35 222.79h1M61.29 218.24h1M73.07 218.39h1M57.87 218.53h1M54.14 217.55h1M61.42 218.1h1M68.28 218.75h1M61.82 220.11h1M58.48 217.63h1M60.89 219.57h1M59.2 219.92h1M66.29 216.78h1M58.37 217.06h1M56.66 223.19h1M57.84 220.07h1M74.68 220.87h1M77.42 220.65h1M58.18 217.49h1M63.17 219.3h1M70.1 217.33h1M61.42 217.63h1M67.19 223.19h1M68.95 220.5h1M55.57 216.07h1M64.33 216.15h1M57.1 221.21h1M56.67 221.03h1M53.31 221.88h1M55.44 218.92h1M55.32 217.23h1M60.66 224.66h1M77.53 218.23h1M55.32 224.53h1M56.36 216.84h1M68.06 222.31h1M62.31 221.9h1M84.36 217.37h1M58.43 219.44h1M60.82 217.55h1M60.12 221.62h1M63.05 220.86h1M70.54 218.95h1M63.34 219.16h1M53.59 217.45h1M54.08 220.45h1M58.85 222.07h1M61.9 220.87h1M59.83 216.24h1M53.75 214.08h1M69.65 217.95h1M71.44 216.37h1M69.04 218.44h1M57.3 216.04h1M62.27 222.55h1M59.85 215.83h1M73.27 218.54h1M60.08 217.88h1M62.39 218.12h1M54.76 220.16h1M78.53 220.26h1M58.08 218.55h1M65.62 219.32h1M66.89 217.44h1M58.03 220.23h1M66.19 220.69h1M62.9 222.35h1M54.08 222.71h1M68.69 215.92h1M54.21 218.95h1M59.5 215.92h1M65.91 215.7h1M62.12 220.57h1M56.48 220.94h1M59.64 218.27h1M54.97 218.42h1M68.32 225.73h1M54.56 220.71h1M66.68 221.27h1M63.2 217.48h1M65.27 218.56h1M57.75 224.28h1M59.89 219.94h1M53.62 219.55h1M62.25 220.6h1M63.8 221.93h1M58.33 218.12h1M60.95 218.76h1M66.41 219.85h1M54.91 220.29h1M72.04 219.62h1M60.22 224.23h1M64.63 228.5h1M60.19 221.37h1M74.17 219.53h1M56.62 220.08h1M69.62 217.6h1M67.43 219.94h1M66.56 219.47h1M68.44 218.52h1M58.67 218.92h1M61.52 223.05h1M53.3 217.51h1M56.51 226.6h1M66.15 221.13h1M58.66 218.58h1M67.55 217.12h1M58.66 216.69h1M63.2 219.54h1M55.58 214.7h1M61.65 220.75h1M53.21 218.37h1M60.51 212.3h1M71.52 217.61h1M60.29 214.89h1M68.98 220.78h1M54.54 218.26h1M53.13 218.08h1M77.65 214.92h1M62.73 218.9h1M54.5 222.51h1M57.78 214.38h1M63.54 220.05h1M57.01 226h1M61.77 216.69h1M72.91 219.01h1M67.16 217.12h1M67.16 220.92h1M74.04 220.72h1M65.5 219.67h1M76.61 223.69h1M62.44 222.95h1M54.46 223.64h1M77.21 221.75h1M70.7 220.5h1M63.66 220.36h1M62.11 215.11h1M54.09 218.62h1M64.77 220.87h1M67.9 214.85h1M55.39 217.04h1M59.91 221.05h1M61.55 218.2h1M60.01 219.76h1M56.53 221.19h1M54.02 212.75h1M74.83 225.97h1M56.5 219.2h1M63.77 225.38h1M62.76 217.94h1M69.94 217.86h1M60.05 217.8h1M54.71 218.1h1M55.52 220.16h1M54.05 221.96h1M75.8 218.74h1M60.5 220.23h1M63.86 221.36h1M65.31 220.05h1M69.34 222.4h1M60.13 220.01h1M57.52 218.61h1M64.17 223.13h1M69.22 218.74h1M73.44 222.23h1M56.56 216.72h1M62.75 216.05h1M58.36 217.53h1M60.97 221.48h1M67.12 221.1h1M64.81 222.36h1M80.96 216.27h1M58.22 223.81h1M56.66 220.74h1M58.67 218.04h1M59.21 218.65h1M53.47 222.64h1M62.71 216.62h1M64.73 220.17h1M69.52 215.01h1M57.99 220.76h1M77.61 210.51h1M66.72 222.83h1M60 222.66h1M68.49 219.23h1M55.76 218.18h1M61.01 217.89h1M67.46 218.43h1M62.24 217.59h1M67.22 217.94h1M59.05 214.69h1M70.52 222.74h1M63.38 216.36h1M76.17 216.81h1M58.07 216.12h1M76.21 216.22h1M55.19 215.03h1M58.24 213.41h1M59.26 225.12h1M60.02 216.47h1M53.77 217.07h1M57.07 217.24h1M60.88 222.83h1M56.94 218.1h1M56.21 220.02h1M53.06 219.52h1M57.4 220.71h1M67.82 216.39h1M54.55 222.85h1M69.48 218.22h1M66.68 218.47h1M55.44 216.99h1M54.98 210.35h1M64.14 214.95h1M57.36 221.2h1M59.48 215.16h1M58.68 221.88h1M62.71 223.63h1M60.99 216.33h1M58.42 220.04h1M53.01 227.29h1M55.59 215.5h1M64.63 215.11h1M60.5 217.43h1M55.36 222.64h1M76.1 222.43h1M80.78 226.81h1M78.48 217.71h1M62.46 214.84h1M60.73 220.21h1M62.93 221.28h1M63.98 216.02h1M67.6 218.88h1M62.7 226.52h1M59.3 216.97h1M67.99 222.25h1M77.17 219.24h1M57.36 214.81h1M55.96 215.8h1M91.37 220.3h1M67.68 217.73h1M66.95 220.64h1M54.97 216.53h1M60.89 219.14h1M75.5 218.55h1M53.39 220.16h1M54.11 218.1h1M57.07 217.37h1M54.12 216.05h1M69.13 216.8h1M58.83 220.01h1M65.34 213.49h1M62.47 215.6h1M66.94 218.42h1M70.55 220.45h1M71.38 218.54h1M72 216.68h1M70.65 218.32h1M62.96 223.25h1M54.49 218.39h1M57.53 218.91h1M60.22 216.25h1M62.74 217.75h1M64.44 218.28h1M75.16 222.51h1M64.92 221.06h1M53.93 222.06h1M72.94 220.73h1M53.47 221.12h1M72.35 214.82h1M58.02 222.93h1M66.8 218.57h1M67.82 218.39h1M56.68 218.73h1M57.78 217.12h1M57.59 222.88h1M57.35 224.79h1M62.36 215.2h1M61.7 216.66h1M57.91 221.54h1M60.12 220.79h1M62.39 223.61h1M55.8 225.91h1M57.52 220.14h1M53.35 220.41h1M59.28 221.71h1M68.46 216.18h1M64.19 217.33h1M75.46 217.86h1M63.41 219.62h1M69.89 220.11h1M61.74 218.39h1M64.17 219.51h1M55.44 219.91h1M63.09 222.09h1M61.72 223.13h1M67.95 217.54h1M64.11 219.18h1M71.89 213.74h1M54.54 219.16h1M84.03 221.51h1M62.84 220.22h1M58.47 223.57h1M58.54 223.04h1M61.58 214.98h1M55.49 217.23h1M63.67 222.46h1M63.3 225.25h1M53.48 219.93h1M59.21 217.97h1M67.64 219.49h1M72.11 220.5h1M53.23 219.78h1M58.7 219.96h1M58.96 214.44h1M55.26 221.47h1M57.62 224.86h1M64.8 218.86h1M56.62 218.51h1M70.49 218.79h1M53.29 213.79h1M67.78 220.18h1M59.22 221.36h1M53.23 221.5h1M57.13 221.33h1M68.38 221.69h1M58.72 223.65h1M65.24 219.35h1M54.25 220.99h1M66.99 214.61h1M68.28 218.07h1M61.56 216.22h1M54.9 219.5h1M54.05 221.57h1M59.15 222.55h1M56.62 218.33h1M61.04 217.4h1M67.78 220.96h1M57.46 220.6h1M66.29 217.8h1M69.64 216.61h1M57.04 220.73h1M53.19 219.31h1M54.64 220.48h1M55.22 220.69h1M77.1 217.72h1M59.15 220.88h1M63.08 219.53h1M53.7 227.42h1M80.71 216.68h1M56.48 219.35h1M57.44 224.81h1M68.65 219.8h1M63.73 217.48h1M55.48 226.8h1M56.04 219.95h1M59.62 224.1h1M53.22 221.87h1M60.51 216.34h1M67.44 216.16h1M56.08 216.8h1M74.99 222.85h1M63.2 221.44h1M71.09 221.26h1M63.93 221.39h1M69.84 219.67h1M69.04 222.02h1M67.64 217.33h1M70.5 219.86h1M68.56 222.93h1M53.74 222.81h1M60.17 220.79h1M60.72 215.37h1M57.3 223.34h1M56.99 220.22h1M57.67 215.79h1M56.38 221.67h1M70.6 228.74h1M55.63 222.02h1M64.35 228.23h1M57.66 214.61h1M59.76 222.19h1M66.59 222.54h1M57.82 223.02h1M55.35 225.41h1M60.75 215.32h1M60.9 220.91h1M73.24 219.97h1M56.02 218.42h1M56.85 217.41h1M69.46 222.72h1M54.39 217.26h1M56.51 216.95h1M61.3 222.41h1M64.55 217.35h1M85.57 219.27h1M54.73 220.95h1M80.55 222.85h1M60.59 215.75h1M56.84 223.25h1M58.39 221.04h1M54.41 216.85h1M56.66 218.04h1M61.34 218.11h1M53.98 221.42h1M54.45 217.41h1M61.89 217.83h1M56.28 228.13h1M53.99 218.88h1M58.43 218.72h1M69.41 223.77h1M75.52 218.3h1M59.35 219.22h1M78.05 214.48h1M62.95 218.19h1M62.06 218.61h1M67.2 218.53h1M56.47 224.72h1M60.37 220.42h1M62.14 219.37h1M54.32 216.3h1M78.41 221.36h1M59.15 222.81h1M57.79 217.53h1M74.1 217.6h1M59.27 216.06h1M60.62 216.48h1M62.91 218.98h1M67.46 220.92h1M59.66 215.42h1M56.62 219.97h1M68.34 223.72h1M55.03 215.25h1M70.99 216.54h1M73.36 228.62h1M57.6 218.75h1M73.3 221.1h1M54.67 220.04h1M54.71 218.99h1M59.71 216.02h1M60.7 218.37h1M65.62 216.96h1M59.98 227.47h1M62.77 215.35h1M62.52 222.61h1M59.7 216.1h1M65.34 220.03h1M55.92 219.46h1M55.63 217.2h1M63.29 222.36h1M61.13 219.67h1M57.06 218.72h1M63.34 218.16h1M62.12 218.81h1M73.47 218.98h1M69.37 223.9h1M53.76 219.88h1M66.32 217.33h1M62.61 220.44h1M61.52 226.31h1M53.37 217.32h1M57.26 219.95h1M56.44 220.35h1M62.82 218.66h1M53.55 218.95h1M68.78 216.82h1M55.61 218.53h1M74.04 219.57h1M70.96 220.56h1M55.27 221.41h1M70.14 222.11h1M68.38 218.76h1M69.78 217.46h1M63.39 221.4h1M56.47 219.53h1M57.99 220.21h1M53.12 223.93h1M53.31 223.13h1M66.18 222.15h1M63.39 221.12h1M62.69 219.74h1M60.14 217.81h1M67.03 220.48h1M56.19 223.61h1M56.55 216.94h1M55.89 215.11h1M58.67 217.93h1M67.25 219.69h1M64.48 225.62h1M57.11 220.67h1M59.13 227.25h1M61.8 221.55h1M65.77 220.52h1M66.69 220.88h1M54.27 217.74h1M65.38 217.72h1M63.6 217.03h1M56.1 222.26h1M60.66 217.99h1M67.45 219.64h1M60.09 222.87h1M53.29 221.84h1M67.82 222.21h1M65.21 218.65h1M60.95 222.7h1M60.43 219.51h1M70.97 220.42h1M55.23 219.13h1M69.77 216.51h1M55.8 221.79h1M65.7 216.35h1M64.23 215.14h1M64.61 217.76h1M55.13 220.3h1M72.7 217.71h1M65.43 216.5h1M60.38 219.84h1M53.48 220.22h1M61.42 218.39h1M59.53 222.56h1M58.02 219.91h1M54.15 218.07h1M58.36 224.04h1M66.65 218.44h1M78.64 223.57h1M63.52 216.34h1M75.06 212.99h1M64.35 220.62h1M72.12 215.36h1M72.08 217.73h1M70.94 223.01h1M65.82 222.83h1M59.78 219.79h1M55.76 219.19h1M54.17 221.84h1M72.33 223.67h1M57.32 219.46h1M53.81 219.58h1M57.74 222.39h1M73.6 217.51h1M68.32 220.19h1M57.88 220.07h1M55.79 217.15h1M54.3 220.18h1M61.28 221.34h1M61 220.85h1M57.45 222.5h1M71.48 217.85h1M76.56 213.22h1M68.96 212.59h1M55.95 219.19h1M66.17 224.73h1M57.51 218.12h1M55.77 220.48h1M64.21 218.5h1M55.15 221.61h1M53.92 220.63h1M55.52 223.6h1M54.36 224.67h1M57.54 220.84h1M60.98 216.14h1M55.58 221.95h1M57.1 221.31h1M54.58 223.95h1M65.91 221.71h1M60.49 222.87h1M59.32 218.26h1M57.12 217.63h1M59.46 217.23h1M60.07 223.59h1M55.1 217.08h1M57.72 215.51h1M66.46 222.73h1M57.26 219.97h1M57.82 224.05h1M57.05 219.5h1M57.51 220.57h1M69.06 213.96h1M65.97 219.64h1M53.14 225.84h1M71.83 219.21h1M53.18 220.35h1M61.96 219.32h1M54.66 218.42h1M58.96 220.05h1M55.99 216.9h1M61.09 214.34h1M71.18 222.35h1M61.08 217.15h1M63.08 219.01h1M58.32 220.43h1M67.6 222.45h1M60.99 220.54h1M70.75 217.27h1M57.68 219.54h1M54.23 221.84h1M65.26 216.94h1M67.87 221.19h1M60.8 217.86h1M55.52 221.1h1M59.67 216.98h1M61.48 219.54h1M60.18 220.07h1M59.06 220.68h1M59.99 216.67h1M55.29 221.66h1M53.05 215.03h1M70.55 222.93h1M70.2 217.82h1M66.28 215.26h1M67.86 218.92h1M58.69 218.71h1M83.74 219.02h1M59.46 220.45h1M67.91 222.06h1M65.93 222.9h1M53.28 219.21h1M53.07 221.05h1M66.8 219.78h1M61.72 216.9h1M59.9 213.14h1M62.54 218.79h1M62.99 219.34h1M54.7 221.33h1M66.16 216.82h1M60.41 215.27h1M75.91 219.96h1M65.93 217.49h1M55.46 221.15h1M62.46 220.79h1M58.59 219.47h1M59.47 218.76h1M59.92 220.4h1M54.49 214.49h1M60.37 219.16h1M54.46 221.5h1M68.17 221.12h1M75.38 218.67h1M56.85 218.54h1M61.63 215.71h1M57.36 222.42h1M61.37 218.51h1M70.43 219.62h1M63.08 220.33h1M60.92 219.22h1M63.06 218.85h1M59.34 217.83h1M58.54 221.07h1M63.52 217h1M72.5 220.9h1M53.72 218.12h1M64.24 223.59h1M56.55 218.51h1M61.68 219.6h1M63.81 219.68h1M58.26 215.8h1M60.49 216.12h1M65.61 218.41h1M62.08 223.27h1M55.34 220.67h1M61.59 222.75h1M59.01 220.66h1M59.87 217.14h1M61.12 219.95h1M65.13 219.68h1M53.73 227.29h1M57.98 218.52h1M58.11 222.42h1M64.71 219.85h1M60.19 224.59h1M72.97 216.4h1M69.79 218.75h1M55.37 216.6h1M57.84 220.66h1M54.52 220.19h1M63.53 217.69h1M60.84 220.57h1M59.41 218.08h1M53.09 223.34h1M63.25 220.97h1M53.13 224.19h1M62.25 224.02h1M54.59 218.13h1M66.41 219.36h1M55.69 220.68h1M77.32 223.73h1M62.76 221.45h1M55.39 219.94h1M61.63 225.96h1M72.15 215.79h1M61.78 217.12h1M70.28 222.7h1M59.7 215.5h1M57.44 218.67h1M76.33 215.66h1M55.99 212.49h1M70.46 213.57h1M68.55 224.8h1M63.63 222.23h1M63.85 218.56h1M54.14 219.05h1M70.33 217.89h1M70.15 221.67h1M53.79 222.72h1M53.34 217.74h1M63.6 221.82h1M61.39 217.82h1M55.15 224.4h1M58.82 224.09h1M82.74 219.18h1M58.53 215.55h1M74.47 219.77h1M63.65 216.74h1M60.32 225.37h1M64.34 218.37h1M56.4 220.17h1M58.77 219.58h1M55.19 225.51h1M60.52 215.78h1M65.85 220.68h1M57.13 216.53h1M83.05 220.96h1M54.44 219.25h1M78.01 220.21h1M57.03 217.11h1M86.25 218.79h1M54.21 221.4h1M57.27 218.19h1M67.62 222.33h1M63.53 220.05h1M55.17 218.71h1M63.48 216.17h1M60.4 214.09h1M73.06 222.59h1M62.84 219.78h1M55.43 220.04h1M58.58 220.98h1M63.21 219.67h1M58.86 222.1h1M55.33 221.3h1M61.35 222.41h1M63.56 210.63h1M69.49 225.04h1M61.36 223.57h1M75.93 221.07h1M65.37 216.21h1M64.43 213.67h1M68.38 221.67h1M65.85 216.93h1M61.07 223.79h1M61.45 212.84h1M57.5 222.8h1M60.25 220.51h1M58.12 221.07h1M66.78 213.66h1M74.39 222.27h1M70.07 218.1h1M59.73 212.13h1M59.65 210.97h1M53.72 219.73h1M61.86 218.65h1M68.78 212.7h1M57.61 217.24h1M65.25 221.77h1M62.3 222.6h1M61.29 217.42h1M54.68 222.33h1M60.44 217.5h1M54 218.59h1M57.57 217.22h1M59.75 220.65h1M63.66 220.69h1M55.35 221.13h1M56.32 216.27h1M54.87 221.39h1M55.33 222.05h1M53.44 221.74h1M53.89 217.87h1M59.12 216.35h1M65.11 217.45h1M66.27 219.72h1M70.17 218.72h1M53.18 220.47h1M55.93 218.82h1M68.17 216.27h1M65.47 221.33h1M59.81 217.34h1M74.31 222.24h1M73.63 221.52h1M70.8 219.42h1M59.3 221.94h1M59.67 218.58h1M57.68 223.34h1M73.34 222.09h1M55.47 219.15h1M61.88 220.33h1M53.17 225.22h1M58.16 220.5h1M53.83 219.68h1M63.1 222.34h1M56.12 220.95h1M54.69 220.86h1M62.03 221.15h1M54.73 223.31h1M63.97 223.79h1M63.5 222.3h1M54.67 216.36h1M59.37 218.03h1M57.15 220.27h1M59.96 219.17h1M69.55 222.28h1M71.47 222.09h1M55.66 219.55h1M53.2 217.22h1M56.69 218.57h1M70.01 221.34h1M55 221.59h1M75.6 216.39h1M76.16 217.31h1M72.6 218.87h1M70.18 219.75h1M55.62 226.17h1M60.56 221.26h1M54.38 221.19h1M69.02 217.67h1M54.72 221.49h1M70.38 217.38h1M59.05 214.37h1M62.44 221.01h1M59.4 217.16h1M53.2 218.44h1M68.54 220.66h1M59.97 218.9h1M54.11 220h1M53.53 219.3h1M63.14 218.85h1M59 218.93h1M63.04 221.32h1M62.23 214.94h1M55.52 220.71h1M63.35 222.21h1M55.13 219.84h1M73.9 220.18h1M58.58 214.63h1M53.82 216.21h1M59.05 218.9h1M57.15 222.51h1M61.69 220.02h1M73.35 222.48h1M56.31 219.25h1M54.4 218.6h1M53.64 215.5h1M54.56 226.08h1M57.14 215.69h1M56.49 221.3h1M74.65 222.57h1M66.48 224.14h1M59 216.54h1M60.71 215.56h1M66.54 220.48h1M64.2 222.55h1M55.23 219.91h1M56.59 219.2h1M64.9 221.14h1M57.65 220.78h1M56.51 218.59h1M72.5 219.63h1M58.16 219.12h1M53.83 219.87h1M71.08 220.87h1M60.12 219.98h1M66.24 222.34h1M58.22 221.6h1M77.38 219.08h1M58.34 222.56h1M73.54 218.97h1M61.91 221.11h1M58.91 221.07h1M69.51 217.57h1M53.83 221.06h1M74.09 223.95h1M63.09 217.89h1M65.94 219.54h1M63.92 215.51h1M71.72 221.78h1M59 222.53h1M56.05 221.09h1M55.95 224.17h1M53.38 217.69h1M57 217.89h1M60.67 218.13h1M70.82 220.05h1M65.3 218.99h1M61 212.49h1M53.24 223.28h1M63.44 215.79h1M64.78 221.47h1M55.9 217.5h1M63.55 219.85h1M73.52 219.15h1M58.52 220.59h1M59.51 217.3h1M72.37 221.28h1M59.6 221.11h1M59.15 218.76h1M60.37 221.9h1M63.14 215.83h1M80.69 215.2h1M61.39 224.66h1M57.15 217.86h1M56.93 214.58h1M62.85 220.24h1M65.32 215.35h1M54.6 221.27h1M54.93 223.73h1M65.28 219h1M64.45 225.39h1M55.95 219.61h1M57.23 220.62h1M59.28 217.6h1M60.39 220.1h1M60.63 217.88h1M70.13 215.55h1M59.57 222.47h1M62.42 222.12h1M58.09 222.86h1M62.99 219.82h1M75.92 216.17h1M54.22 213.95h1M59.37 220.41h1M66.88 218.8h1M57.63 219.75h1M54.62 219.04h1M69.38 219.98h1M60.32 218.5h1M57.48 218.21h1M53.64 215.69h1M54.49 215.06h1M61.05 222.36h1M55.8 226.4h1M72.12 217.04h1M70.02 220.67h1M56.26 218.89h1M55.28 219.04h1M72.47 223.03h1M56.08 214.16h1M70.95 220.77h1M65.95 221.09h1M57.49 221.34h1M55.83 220.35h1M76.26 219.42h1M71.57 219.81h1M57.01 223.61h1M73.07 222.48h1M60.75 223.18h1M60.66 221.4h1M58.13 220.17h1M55.74 221.3h1M62.03 218.01h1M59.18 216.39h1M58.6 218.44h1M54.11 223.69h1M70.3 222.36h1M62.84 221.48h1M68.3 218.68h1M69.07 215.33h1M72.05 221.96h1M58.09 221.49h1M58.63 223.97h1M60.59 218.62h1M69.58 220.87h1M53.28 225.08h1M66.68 219.14h1M71.93 223h1M63.99 221.56h1M64.39 221.19h1M79.63 218.65h1M55.15 216.38h1M70.69 220.01h1M66.91 224.75h1M64.21 218.47h1M65.93 223.8h1M54.64 218.62h1M57.12 221.82h1M53.81 218.33h1M59.47 219.29h1M58.7 218.55h1M61.89 220.54h1M85.81 223.22h1M58.94 221.03h1M72.13 220.55h1M59.71 219.15h1M61.43 219.55h1M59.79 219h1M55.19 222.11h1M61.77 216.06h1M70.63 224.73h1M75.33 215.29h1M59.59 223.88h1M54.47 219.3h1M70.83 224.97h1M54.25 217.21h1M68.76 219.2h1M56.3 216.37h1M56.08 224.18h1M60.95 220.34h1M60.07 222.45h1M66.8 224.3h1M58.31 217.91h1M54.19 215.99h1M63.5 219.48h1M67.85 222.95h1M55.57 219.31h1M60.35 217.01h1M63.55 222.86h1M73.18 215.24h1M56.63 215.3h1M65.12 221.63h1M66.33 212.62h1M69.39 216.06h1M66.53 221.9h1M67.67 220.68h1M63.56 220.92h1M55.42 225.27h1M53.38 221.26h1M63.07 218.81h1M53.13 219.24h1M61.03 217.96h1M55.98 217.13h1M72.02 214.07h1M67.88 217.88h1M56.26 219h1M58.05 220.19h1M69.92 220.01h1M61.11 220.93h1M53.91 224.89h1M54.13 218.67h1M58.82 219.88h1M59.92 217.62h1M56.5 219.2h1M71.78 222.55h1M63.37 219.33h1M61.35 219.38h1M66.81 223.91h1M54.36 215.08h1M55.86 222.35h1M56.72 219.73h1M71.34 219.97h1M70.56 212.22h1M56.1 221.42h1M66.65 221.32h1M65.54 218.36h1M67.44 219.92h1M53.12 220.31h1M58.45 222.73h1M68.59 219.6h1M69.22 217.6h1M55.75 219.32h1M56.38 214.82h1M70.6 221.43h1M53.02 216.41h1M66.43 214.8h1M60.28 217.97h1M56.91 224.86h1M57.43 215.52h1M61.44 223.6h1M56.82 216.82h1M55.43 214.38h1M67.13 216.84h1M61.82 221.31h1M59.38 220.34h1M53.51 218.24h1M84.33 219.31h1M55.82 216.2h1M62.02 224.46h1M63.64 223.54h1M77.01 219.54h1M62.69 215.45h1M68.42 226.09h1M56.01 221.82h1M54.57 218.19h1M61.21 227.97h1M56.85 219.29h1M81.62 218.91h1M69.22 218.82h1M59.21 212.43h1M62.62 215.97h1M62.13 223.21h1M63.4 223.53h1M60.79 221.66h1M61.77 227.73h1M59.69 220.89h1M54.24 220.21h1M64.84 221.1h1M63.37 215.21h1M66.36 221.09h1M73.53 218.53h1M60.55 215.88h1M62.14 219.5h1M53.6 218.5h1M62.29 217.46h1M55.24 219.07h1M61.86 219.96h1M62.13 221.79h1M53.93 223.73h1M63.52 220.57h1M64.13 219.4h1M63.72 219h1M54.27 216.01h1M55.69 220.78h1M58.52 217.25h1M59.49 218.11h1M57.01 219.82h1M72.67 217.1h1M61.88 221.84h1M53.61 217.43h1M60.09 224.21h1M76.06 220.51h1M54.7 221.74h1M61.9 218.08h1M57.9 219.98h1M56.98 220.19h1M65.3 223.16h1M61.34 220.61h1M63.67 215.95h1M53.1 227.93h1M54.11 224.68h1M59.74 219.23h1M56.81 217.11h1M58.19 221.34h1M54.47 217.48h1M70.78 219.71h1M64.06 219.6h1M61.52 222.1h1M56.36 221.78h1M53.1 215.68h1M54.86 219.64h1M64.99 215.28h1M63.67 219.45h1M60.08 222.89h1M70.28 213.25h1M57.14 217.45h1M62.62 218.38h1M58.65 218.96h1M70.44 217.99h1M60.44 215.12h1M64.27 226.56h1M56.99 221.09h1M69.43 219.92h1M56.77 219.63h1M53.23 225.68h1M62.86 216.28h1M71.93 219.37h1M61.16 219.14h1M61.08 219.58h1M69.1 213.1h1M68.25 218.96h1M56.15 218.26h1M57.34 220.14h1M68.71 225.87h1M54.36 217.55h1M64.48 223.37h1M65.07 217.77h1M66.96 216.16h1M57.63 222.46h1M60.68 221.11h1M55.4 224.72h1M64.76 222.7h1M65.65 218.94h1M54.99 226.77h1M58.64 216.88h1M62.04 219.26h1M58.19 218.94h1M56.61 220.29h1M57.83 218.04h1M67.18 217.05h1M62.73 219.55h1M55.96 220.98h1M59.89 217.31h1M58.67 213.06h1M64.91 217.45h1M69.31 219.62h1M57.83 221.12h1M62.3 217.69h1M55.52 218.74h1M55.09 217.14h1M60.26 220.97h1M58.45 217.68h1M63.59 220.7h1M59.81 218.97h1M62.52 221.46h1M57.84 216.09h1M53.5 220.05h1M55.76 218.4h1M66.27 214.46h1M58.62 222.77h1M59.7 219.1h1M66.89 223.03h1M63.33 218.26h1M71.47 214.69h1M69.63 224.12h1M83.68 216.45h1M64.98 220.24h1M60.68 225.78h1M55.56 220.11h1M69.22 217.04h1M53.96 221.65h1M66.82 220.86h1M72.65 225.57h1M59.59 221.55h1M64.55 216.05h1M58.61 216.66h1M58.26 217.18h1M91.53 222.6h1M74.35 211.76h1M67.98 221.22h1M95.78 218.5h1M61.38 221.04h1M65.18 227.01h1M63.15 214.58h1M54.34 217.25h1M69.52 219h1M75.54 221.8h1M70.29 220.36h1M58.49 220.51h1M59.69 220.81h1M61.71 217.35h1M60.4 211.07h1M54.36 222.76h1M78.89 220.8h1M59.9 218.29h1M57.86 218.26h1M63.86 219.32h1M75.37 223.1h1M59.43 216.91h1M67.56 217.2h1M65.77 222.59h1M59.28 222.26h1M70.79 218.24h1M53.62 221.56h1M56.78 211.24h1M53.94 214.39h1M62.3 210.42h1M57.68 223.2h1M76.47 225.27h1M57.47 218.7h1M65.87 221.19h1M68.22 220.22h1M56.14 214.34h1M66.38 225.01h1M61.4 218.67h1M89.1 214.34h1M53.72 223.73h1M87.9 211.63h1M60.38 213.98h1M59.33 218.11h1M57.01 215.99h1M83.24 219.72h1M62.84 217.94h1M67.84 218.56h1M57.81 224.54h1M63.7 222.56h1M84.15 219.11h1M73.02 218.8h1M56.66 217.02h1M97.8 217.72h1M54.17 226.75h1M66.33 218.85h1M71.21 221.14h1M76.83 220.42h1M72.27 221.36h1M67.75 216.49h1M73.47 217.37h1M55.49 219.79h1M65.99 216.09h1M55.06 218.63h1M57.89 216.82h1M59.28 224.62h1M59.2 222.1h1M71.98 216.34h1M58.7 229.04h1M69.82 221.35h1M66.57 211.03h1M59.38 222.26h1M66.71 221.42h1M76.66 211.9h1M68.42 225.51h1M56.14 220.08h1M54.52 211.51h1M77.12 220.35h1M59.5 214.5h1M53.18 218.49h1M62.92 212.32h1M71 227.69h1M65.7 212.28h1M63.89 216.23h1M54.17 227.5h1M61.5 220.17h1M56.43 215.51h1M79.78 219.47h1M56.23 220.62h1M62.58 210.52h1M84.18 212.91h1M54.26 219.04h1M55.99 219.48h1M54.16 218.92h1M53.37 219.54h1M64.69 215.22h1M53.11 221.53h1M72.49 214.74h1M60.4 219.82h1M65.53 219.98h1M58.88 220.57h1M57.55 223.98h1M68.84 216.72h1M61.69 216.1h1M53.24 222.22h1M68.39 215.38h1M56.62 212.64h1M56.7 219.64h1M65.39 227.31h1M57.61 227.84h1M69.47 219.25h1M59.03 220.27h1M70.05 224.39h1M62.51 221.63h1M60.93 211.05h1M75.12 224.66h1M64.74 219.78h1M65.4 222.45h1M53.8 220.37h1M56.05 219.45h1M64.97 224.54h1M65.82 221.62h1M80.33 226.35h1M53.89 210.63h1M64.62 223.52h1M71.55 221.23h1M54.82 224.4h1M59.17 221.69h1M54.85 216.57h1M63.24 217.87h1M58.5 218.57h1M53.71 213.65h1M54.89 219.12h1M61.05 212.84h1M61.51 224.31h1M60.14 225.17h1M74.18 218.85h1M53.36 213.06h1M58.59 212.64h1M64.09 223.34h1M71.44 220.83h1M71.28 226.77h1M71.2 225.82h1M62.91 219.41h1M69.41 215.65h1M59.54 221.89h1M64.98 223.73h1M66.24 221.72h1M56.74 217.13h1M58.57 224.41h1M64.83 223.66h1M55.73 228.41h1M56.34 226.64h1M57.11 219.65h1M82.83 220.91h1M61.99 218.56h1M63.48 221.33h1M66.05 221.69h1M61.28 217.76h1M67.09 207.54h1M60.97 226.18h1M53.99 219.68h1M55.5 220.61h1M81.93 219.37h1M57.38 219.32h1M61.27 222.3h1M73.87 226.07h1M67.88 226.27h1M60.82 213.2h1M53.73 224.37h1M54.64 216.2h1M70.71 225.91h1M88.97 215.2h1M65.15 221.35h1M72.73 219.68h1M61.4 227.54h1M68.62 218.93h1M57.36 224.55h1M67.6 220.24h1M62.12 228.84h1M66.66 220.77h1M59.68 222.89h1M77.09 220.98h1M63.71 222.75h1M53.23 217.07h1M66.82 221.11h1M62.09 216.45h1M64.64 212.46h1M57.06 215.02h1M54.11 221.16h1M55.08 226.08h1M53.26 213.4h1M72.7 219.28h1M57.87 217.81h1M70.48 221.02h1M79.67 219.52h1M64.63 217.48h1M70.72 216.72h1M61 218.06h1M71.9 226.68h1M60.2 217.76h1M60.28 223.52h1M61.07 218.55h1M63.59 215h1M62.06 225.2h1M58.57 222.77h1M67.74 214.71h1M63.56 218.38h1M74.79 220.6h1M54.16 212.59h1M53.41 218.38h1M54.41 220.52h1M64.44 217.1h1M83.08 223.05h1M77.69 218.62h1M59.25 214.53h1M55.25 218.27h1M68.71 230.15h1M57.4 221.58h1M77.68 219.92h1M68.91 223.93h1M61.23 220.57h1M70.52 221.36h1M56.46 213.39h1M62.68 217.44h1M65.98 216.91h1M66.91 232.71h1M60.56 209.03h1M56.11 221.95h1M69.94 222.1h1M67.87 210.49h1M58.18 218.14h1M69.05 219.27h1M63.12 223.04h1M60.41 222.32h1M54.55 219.91h1M63.41 215.19h1M72.67 213.14h1M78.64 223.36h1M57.76 222.44h1M63.76 219.13h1M69.15 216.89h1M63.98 222.25h1M81.33 217.7h1M55.66 220.14h1M55.16 215.76h1M55.87 210.25h1M70.84 226.32h1M65.48 210.98h1M64.82 226.03h1M76.78 215.49h1M62.58 223.77h1M68.22 227.73h1M75.46 220.44h1M69.44 213.3h1M53.65 216.55h1M53.2 223.59h1M79.89 208.48h1M63.28 218.74h1M80.24 218.81h1M71.57 215.73h1M57.33 218.76h1M53.27 218.67h1M87.3 215.9h1M57.75 221.53h1M66.8 220.38h1M64.3 217.85h1M77.72 217.21h1M66.66 217.7h1M60.65 221.03h1M85.36 222.33h1M57.8 222.56h1M56.59 227.13h1M67.27 217.77h1M58.23 213.21h1M61.22 216.68h1M62.51 214.29h1M72.35 221.02h1M53.92 222.65h1M73.42 217.01h1M62.69 219.43h1M85.47 211.54h1M65.37 221.82h1M53.91 220.89h1M60.49 223.4h1M69.62 216.62h1M59.54 221.66h1M76.08 223.46h1M62.98 212.65h1M64.67 223.81h1M75.87 223.03h1M61.88 216.6h1M66.77 216.88h1M59.23 217.05h1M64.88 217.4h1M81.16 229.07h1M56.77 215.6h1M64.99 219.11h1M58.11 219.33h1M64.61 218.96h1M59.97 214.19h1M68.93 221.04h1M91.12 227.44h1M53.14 214.3h1M61.33 225.64h1M55.06 215.55h1M61.23 218.19h1M53.01 230.26h1M58.64 227.81h1M63.52 224.47h1M66.77 220.03h1M60.82 222.28h1M67.27 214.8h1M62.99 222.23h1M57.88 218.91h1M60.47 223.11h1M62.54 221.24h1M68.87 226.98h1M53.74 220.33h1M57.03 216.96h1M62.91 218.08h1M64.48 226.65h1M58.2 209.64h1M74.41 224.63h1M60.37 227.8h1M83 224.15h1M58.41 223.63h1M61.91 226.77h1M53.22 222.7h1M60.3 218.17h1M54.95 219.53h1M55.51 218.29h1M65.6 224.48h1M83.55 222.3h1M61.9 222.82h1M56.38 219.23h1M68.82 217.1h1M54.88 229.57h1M63.9 224.76h1M67.41 210.43h1M61.28 222.1h1M60 213.63h1M71.5 213.4h1M66.88 227.27h1M83.94 210.34h1M57.72 225.5h1M69.03 213.13h1M63.26 227.64h1M57.97 221.69h1M56.32 210.07h1M61.61 225.01h1M62.73 212.6h1M74.45 222.09h1M61.09 222.28h1M79.34 223.85h1M64.3 214.5h1M60.4 216.93h1M59.33 225.8h1M61.46 225.41h1M63.64 216.81h1M62.5 218.31h1M59.46 215.98h1M62.33 221.29h1M77.18 222.48h1M69.59 221.87h1M56 216.07h1M53.29 218.49h1M64.13 225.66h1M66.92 227.96h1M59.37 218.97h1M56.17 218.75h1M66.74 217.87h1M82.21 220.94h1M58.2 227.06h1M66.49 222.24h1M62.73 218.55h1M53.34 215.71h1M73.12 225.78h1M65.62 215.47h1M67.62 219.22h1M53.17 224.03h1M88.34 221.65h1M58 218.04h1M65.54 222.52h1M58.11 223.82h1M59.19 217.57h1M58.24 213.51h1M67.91 219.47h1M58.73 229h1M76.28 226.58h1M58.85 215.68h1M55.44 231.48h1M64.31 221.13h1M54.39 218.84h1M64.9 217.35h1M56.41 226.87h1M55.62 221.48h1M56.35 218.99h1M89.05 219.71h1M62.16 221.16h1M56.71 227.24h1M81.71 214.74h1M64.98 221.62h1M67.47 215.19h1M58.78 217.96h1M54.39 220.27h1M54.57 214.76h1M56.65 220.7h1M61.87 218.87h1M61.75 223.61h1M63.89 227.56h1M83.95 223.25h1M58.56 221.2h1M61.34 217.46h1M55.9 222.3h1M67.55 220.67h1M73.47 213.3h1M60.77 220.66h1M53.16 223.77h1M72.47 222.63h1M65.36 225.23h1M62.21 213.82h1M64.37 215.55h1M58.32 224.71h1M63.88 220.96h1M69.37 218.26h1M77.97 217.53h1M62.61 216.14h1M71.29 221.92h1M66.66 220.95h1M59.41 222.22h1M53.58 220.39h1M55.58 218.42h1M56.93 215.62h1M55.83 216.21h1M62.71 221.95h1M75.58 227.03h1M60.03 216.27h1M56.1 224.67h1M75.08 227.48h1M67.06 222.77h1M57.14 212.91h1M67.1 222.15h1M59.41 220.37h1M75.87 227.31h1M58.08 219.78h1M67.32 218.81h1M53.92 217.06h1M78.1 223.2h1M56.02 222.54h1M65.42 221.34h1M66.24 216.83h1M55.26 224.35h1M53.64 218.26h1M67.33 226.66h1M61.41 219.89h1M84.81 212.86h1M54.56 217.23h1M87.78 227.34h1M56.9 212.44h1M58.2 224.68h1M53.84 223.29h1M71.13 218.62h1M58.95 218.11h1M69.41 218.99h1M54.62 216.03h1M70.76 220.75h1M59.52 220.48h1M54.83 213.11h1M56.96 215.03h1M53.36 225.82h1M62.04 217.52h1M62.03 223.98h1M68.43 223.59h1M69.56 225.75h1M76.79 218.66h1M58.48 216.38h1M66.76 222.86h1M67.98 233.66h1M60.36 216.42h1M63.93 219.05h1M62.15 218.71h1M72.23 227.97h1M54.51 217.92h1M53.95 222.33h1M54.26 218.4h1M82.23 220.28h1M61.07 212.76h1M65.66 221.46h1M84.7 222.74h1M63.73 216.93h1M111.76 218.35h1M109.35 217.36h1M104.35 215.28h1M101.49 223.79h1M106.41 217.08h1M91.14 214.41h1M111.77 212.79h1M102.93 220.62h1M90.62 219.86h1M109.35 219.49h1M91.76 225.43h1M109.67 217.51h1M98.36 219.87h1M97.42 217.56h1M95.48 212.98h1M98.45 215.84h1M70 241h1M75 246h1M72 252h1M78 236h1M73 257h1M77 232h1M57 231h1M61 233h1M122 219h1M126 226h1M97 212h1M90 228h1" stroke="#000" stroke-width="1" fill="none"/>
<line x1="21.5" y1="50" x2="21.5" y2="339.2" stroke="#000" stroke-width="1.8"/>
<polygon points="21.9,37.4 30.1,51.4 13.7,51.4" fill="#000"/>
<text transform="translate(12.2 185) rotate(-90) scale(0.96 1)" font-size="14" font-weight="bold" text-anchor="middle">CD8</text>
<line x1="39" y1="361.2" x2="144" y2="361.2" stroke="#000" stroke-width="1.9"/>
<polygon points="158.4,361.2 142.6,354.2 142.6,368.3" fill="#000"/>
<text x="100.5" y="379" font-size="13.5" text-anchor="middle" font-weight="bold">CD4</text>
<rect x="245.6" y="34" width="120.6" height="130.6" fill="none" stroke="#000" stroke-width="1.5"/>
<path d="M245.6 145.94h2.2M366.2 145.94h-2.2M245.6 127.29h2.2M366.2 127.29h-2.2M245.6 108.63h2.2M366.2 108.63h-2.2M245.6 89.97h2.2M366.2 89.97h-2.2M245.6 71.31h2.2M366.2 71.31h-2.2M245.6 52.66h2.2M366.2 52.66h-2.2" stroke="#000" stroke-width="1.1" fill="none"/>
<text x="241.6" y="42.35" font-size="13.8" text-anchor="end" font-weight="bold">70</text>
<text x="241.6" y="60.55" font-size="13.8" text-anchor="end" font-weight="bold">60</text>
<text x="241.6" y="79.05" font-size="13.8" text-anchor="end" font-weight="bold">50</text>
<text x="241.6" y="97.65" font-size="13.8" text-anchor="end" font-weight="bold">40</text>
<text x="241.6" y="115.45" font-size="13.8" text-anchor="end" font-weight="bold">30</text>
<text x="241.6" y="134.15" font-size="13.8" text-anchor="end" font-weight="bold">20</text>
<text x="241.6" y="152.35" font-size="13.8" text-anchor="end" font-weight="bold">10</text>
<text x="241.6" y="171.25" font-size="13.8" text-anchor="end" font-weight="bold">0</text>
<text x="223.6" y="102" font-size="14" text-anchor="middle" font-weight="bold" transform="rotate(-90 223.6 102)">% Cytotoxicity</text>
<text x="269.9" y="180.4" font-size="13.8" text-anchor="middle" font-weight="bold">10</text>
<text x="306.6" y="180.4" font-size="13.8" text-anchor="middle" font-weight="bold">5</text>
<text x="350.9" y="180.4" font-size="13.8" text-anchor="middle" font-weight="bold">2.5</text>
<text x="308.5" y="195.2" font-size="13.3" text-anchor="middle" font-weight="bold">E/T</text>
<text transform="translate(312.4 54.8) scale(1.13 1)" font-size="12.1" font-weight="bold"><tspan font-weight="normal" font-size="12.6">αβ</tspan>-Tc1</text>
<polyline points="266.5,162.36 306,162.92 345.6,164.04" fill="none" stroke="#000" stroke-width="1.75" stroke-dasharray="1.6 1.5"/>
<polygon points="266.5,158.16 270,162.36 266.5,166.56 263,162.36" fill="#fff" stroke="#000" stroke-width="1.5"/>
<polygon points="306,158.72 309.5,162.92 306,167.12 302.5,162.92" fill="#fff" stroke="#000" stroke-width="1.5"/>
<polygon points="345.6,159.84 349.1,164.04 345.6,168.24 342.1,164.04" fill="#fff" stroke="#000" stroke-width="1.5"/>
<polyline points="266.5,159 306,160.68 345.6,162.92" fill="none" stroke="#000" stroke-width="1.75" stroke-dasharray="1.6 1.5"/>
<polygon points="266.5,154.8 270.4,161.8 262.6,161.8" fill="#fff" stroke="#000" stroke-width="1.5"/>
<polygon points="306,156.48 309.9,163.48 302.1,163.48" fill="#fff" stroke="#000" stroke-width="1.5"/>
<polygon points="345.6,158.72 349.5,165.72 341.7,165.72" fill="#fff" stroke="#000" stroke-width="1.5"/>
<polyline points="266.5,163.29 306,163.85 345.6,164.23" fill="none" stroke="#000" stroke-width="1.75" stroke-dasharray="1.6 1.5"/>
<circle cx="266.5" cy="163.29" r="3.1" fill="#fff" stroke="#000" stroke-width="1.5"/>
<circle cx="306" cy="163.85" r="3.1" fill="#fff" stroke="#000" stroke-width="1.5"/>
<circle cx="345.6" cy="164.23" r="3.1" fill="#fff" stroke="#000" stroke-width="1.5"/>
<polyline points="266.5,109.75 306,126.17 345.6,136.99" fill="none" stroke="#000" stroke-width="1.75"/>
<polygon points="266.5,114.55 271.2,106.15 261.8,106.15" fill="#000"/>
<polygon points="306,130.97 310.7,122.57 301.3,122.57" fill="#000"/>
<polygon points="345.6,141.79 350.3,133.39 340.9,133.39" fill="#000"/>
<polyline points="266.5,98.55 306,111.24 345.6,131.02" fill="none" stroke="#000" stroke-width="1.75"/>
<polygon points="266.5,94.05 271.25,101.75 261.75,101.75" fill="#000"/>
<polygon points="306,106.74 310.75,114.44 301.25,114.44" fill="#000"/>
<polygon points="345.6,126.52 350.35,134.22 340.85,134.22" fill="#000"/>
<polyline points="266.5,90.72 306,101.17 345.6,129.52" fill="none" stroke="#000" stroke-width="1.75"/>
<polygon points="266.5,86.12 270.4,90.72 266.5,95.32 262.6,90.72" fill="#000"/>
<polygon points="306,96.57 309.9,101.17 306,105.77 302.1,101.17" fill="#000"/>
<polygon points="345.6,124.92 349.5,129.52 345.6,134.12 341.7,129.52" fill="#000"/>
<polyline points="266.5,80.64 306,90.72 345.6,125.42" fill="none" stroke="#000" stroke-width="1.75"/>
<circle cx="266.5" cy="80.64" r="3.6" fill="#000"/>
<circle cx="306" cy="90.72" r="3.6" fill="#000"/>
<circle cx="345.6" cy="125.42" r="3.6" fill="#000"/>
<polyline points="266.5,56.39 306,90.16 345.6,105.83" fill="none" stroke="#000" stroke-width="1.75"/>
<rect x="262.95" y="52.84" width="7.1" height="7.1" fill="#000"/>
<rect x="302.45" y="86.61" width="7.1" height="7.1" fill="#000"/>
<rect x="342.05" y="102.28" width="7.1" height="7.1" fill="#000"/>
<line x1="375.3" y1="54.3" x2="390.5" y2="54.3" stroke="#000" stroke-width="1.6"/>
<circle cx="382.9" cy="54.3" r="3.06" fill="#000"/>
<text x="393.9" y="60" font-size="12.3" text-anchor="start" font-weight="bold">AML M1</text>
<line x1="375.3" y1="67" x2="390.5" y2="67" stroke="#000" stroke-width="1.6"/>
<polygon points="382.9,63.17 386.94,69.72 378.86,69.72" fill="#000"/>
<text x="393.9" y="72.55" font-size="12.3" text-anchor="start" font-weight="bold">AML M2(1)</text>
<line x1="375.3" y1="79.2" x2="390.5" y2="79.2" stroke="#000" stroke-width="1.6"/>
<polygon points="382.9,75.29 386.22,79.2 382.9,83.11 379.59,79.2" fill="#000"/>
<text x="393.9" y="85.1" font-size="12.3" text-anchor="start" font-weight="bold">AML M2(2)</text>
<line x1="375.3" y1="92" x2="390.5" y2="92" stroke="#000" stroke-width="1.6"/>
<rect x="379.88" y="88.98" width="6.03" height="6.03" fill="#000"/>
<text x="393.9" y="97.65" font-size="12.3" text-anchor="start" font-weight="bold">AML M4</text>
<line x1="375.3" y1="104.2" x2="390.5" y2="104.2" stroke="#000" stroke-width="1.6"/>
<polygon points="382.9,108.28 386.9,101.14 378.91,101.14" fill="#000"/>
<text x="393.9" y="110.2" font-size="12.3" text-anchor="start" font-weight="bold">ALL L2</text>
<circle cx="376.5" cy="123.2" r="0.9" fill="#000"/><circle cx="389.9" cy="123.2" r="0.9" fill="#000"/>
<circle cx="382.9" cy="123.2" r="2.85" fill="#fff" stroke="#000" stroke-width="1.5"/>
<text x="393.9" y="127.8" font-size="12.3" text-anchor="start" font-weight="bold">AML M2</text>
<circle cx="376.5" cy="135.8" r="0.9" fill="#000"/><circle cx="389.9" cy="135.8" r="0.9" fill="#000"/>
<polygon points="382.9,132.54 386.49,138.98 379.31,138.98" fill="#fff" stroke="#000" stroke-width="1.5"/>
<text x="393.9" y="140.6" font-size="12.3" text-anchor="start" font-weight="bold">AML M4</text>
<circle cx="376.5" cy="148" r="0.9" fill="#000"/><circle cx="389.9" cy="148" r="0.9" fill="#000"/>
<polygon points="382.9,144.14 386.12,148 382.9,151.86 379.68,148" fill="#fff" stroke="#000" stroke-width="1.5"/>
<text x="393.9" y="153.6" font-size="12.3" text-anchor="start" font-weight="bold">ALL L2</text>
<line x1="458.1" y1="48.5" x2="458.1" y2="109.2" stroke="#000" stroke-width="1.3"/>
<line x1="458.1" y1="115.9" x2="458.1" y2="152" stroke="#000" stroke-width="1.3"/>
<text x="460.3" y="83.9" font-size="12.2" font-weight="bold">HLA-A24<tspan font-size="8.5" dy="-3.2">+</tspan></text>
<text x="460.3" y="131.7" font-size="12.2" font-weight="bold">HLA-A24<tspan font-size="8.5" dy="-3.6">-</tspan></text>
<rect x="248.8" y="221" width="122.8" height="129.6" fill="none" stroke="#000" stroke-width="1.5"/>
<path d="M248.8 329h2.2M371.6 329h-2.2M248.8 307.4h2.2M371.6 307.4h-2.2M248.8 285.8h2.2M371.6 285.8h-2.2M248.8 264.2h2.2M371.6 264.2h-2.2M248.8 242.6h2.2M371.6 242.6h-2.2" stroke="#000" stroke-width="1.1" fill="none"/>
<text x="247" y="228.3" font-size="13.3" text-anchor="end" font-weight="bold">12</text>
<text x="247" y="249.5" font-size="13.3" text-anchor="end" font-weight="bold">10</text>
<text x="243.8" y="271.2" font-size="13.3" text-anchor="end" font-weight="bold">8</text>
<text x="243.8" y="292.7" font-size="13.3" text-anchor="end" font-weight="bold">6</text>
<text x="243.8" y="313.9" font-size="13.3" text-anchor="end" font-weight="bold">4</text>
<text x="243.8" y="336.2" font-size="13.3" text-anchor="end" font-weight="bold">2</text>
<text x="243.8" y="357.7" font-size="13.3" text-anchor="end" font-weight="bold">0</text>
<text x="230.2" y="290.7" font-size="14" text-anchor="middle" font-weight="bold" transform="rotate(-90 230.2 290.7)">% Cytotoxicity</text>
<text x="271.4" y="367.9" font-size="13.8" text-anchor="middle" font-weight="bold">10</text>
<text x="309.4" y="367.9" font-size="13.8" text-anchor="middle" font-weight="bold">5</text>
<text x="351.9" y="367.9" font-size="13.8" text-anchor="middle" font-weight="bold">2.5</text>
<text x="309.9" y="380.2" font-size="13.3" text-anchor="middle" font-weight="bold">E/T</text>
<text transform="translate(317.6 242) scale(1.13 1)" font-size="12.1" font-weight="bold"><tspan font-weight="normal" font-size="12.6">αβ</tspan>-Th1</text>
<polyline points="269.8,344.66 309.8,350.06 349.6,350.6" fill="none" stroke="#000" stroke-width="1.75" stroke-dasharray="1.6 1.5"/>
<polygon points="269.8,340.46 273.3,344.66 269.8,348.86 266.3,344.66" fill="#fff" stroke="#000" stroke-width="1.5"/>
<polygon points="309.8,345.86 313.3,350.06 309.8,354.26 306.3,350.06" fill="#fff" stroke="#000" stroke-width="1.5"/>
<polygon points="349.6,346.4 353.1,350.6 349.6,354.8 346.1,350.6" fill="#fff" stroke="#000" stroke-width="1.5"/>
<polyline points="269.8,339.8 309.8,330.08 349.6,348.98" fill="none" stroke="#000" stroke-width="1.75" stroke-dasharray="1.6 1.5"/>
<polygon points="269.8,335.6 273.7,342.6 265.9,342.6" fill="#fff" stroke="#000" stroke-width="1.5"/>
<polygon points="309.8,325.88 313.7,332.88 305.9,332.88" fill="#fff" stroke="#000" stroke-width="1.5"/>
<polygon points="349.6,344.78 353.5,351.78 345.7,351.78" fill="#fff" stroke="#000" stroke-width="1.5"/>
<polyline points="269.8,344.88 309.8,349.95 349.6,350.06" fill="none" stroke="#000" stroke-width="1.75" stroke-dasharray="1.6 1.5"/>
<circle cx="269.8" cy="344.88" r="3.1" fill="#fff" stroke="#000" stroke-width="1.5"/>
<circle cx="309.8" cy="349.95" r="3.1" fill="#fff" stroke="#000" stroke-width="1.5"/>
<circle cx="349.6" cy="350.06" r="3.1" fill="#fff" stroke="#000" stroke-width="1.5"/>
<polyline points="269.8,280.94 309.8,304.7 349.6,328.46" fill="none" stroke="#000" stroke-width="1.75"/>
<polygon points="269.8,285.74 274.5,277.34 265.1,277.34" fill="#000"/>
<polygon points="309.8,309.5 314.5,301.1 305.1,301.1" fill="#000"/>
<polygon points="349.6,333.26 354.3,324.86 344.9,324.86" fill="#000"/>
<polyline points="269.8,266.36 309.8,280.94 349.6,293.36" fill="none" stroke="#000" stroke-width="1.75"/>
<polygon points="269.8,261.76 273.7,266.36 269.8,270.96 265.9,266.36" fill="#000"/>
<polygon points="309.8,276.34 313.7,280.94 309.8,285.54 305.9,280.94" fill="#000"/>
<polygon points="349.6,288.76 353.5,293.36 349.6,297.96 345.7,293.36" fill="#000"/>
<polyline points="269.8,255.02 309.8,256.64 349.6,282.56" fill="none" stroke="#000" stroke-width="1.75"/>
<polygon points="269.8,250.52 274.55,258.22 265.05,258.22" fill="#000"/>
<polygon points="309.8,252.14 314.55,259.84 305.05,259.84" fill="#000"/>
<polygon points="349.6,278.06 354.35,285.76 344.85,285.76" fill="#000"/>
<polyline points="269.8,239.36 309.8,255.02 349.6,253.94" fill="none" stroke="#000" stroke-width="1.75"/>
<circle cx="269.8" cy="239.36" r="3.6" fill="#000"/>
<circle cx="309.8" cy="255.02" r="3.6" fill="#000"/>
<circle cx="349.6" cy="253.94" r="3.6" fill="#000"/>
<polyline points="269.8,228.02 309.8,257.18 349.6,276.08" fill="none" stroke="#000" stroke-width="1.75"/>
<rect x="266.25" y="224.47" width="7.1" height="7.1" fill="#000"/>
<rect x="306.25" y="253.63" width="7.1" height="7.1" fill="#000"/>
<rect x="346.05" y="272.53" width="7.1" height="7.1" fill="#000"/>
<line x1="376.5" y1="241.5" x2="391.7" y2="241.5" stroke="#000" stroke-width="1.6"/>
<circle cx="384.1" cy="241.5" r="3.06" fill="#000"/>
<text x="395.1" y="247.2" font-size="12.3" text-anchor="start" font-weight="bold">AML M1</text>
<line x1="376.5" y1="254.2" x2="391.7" y2="254.2" stroke="#000" stroke-width="1.6"/>
<polygon points="384.1,250.38 388.14,256.92 380.06,256.92" fill="#000"/>
<text x="395.1" y="259.75" font-size="12.3" text-anchor="start" font-weight="bold">AML M2(1)</text>
<line x1="376.5" y1="266.4" x2="391.7" y2="266.4" stroke="#000" stroke-width="1.6"/>
<polygon points="384.1,262.49 387.42,266.4 384.1,270.31 380.79,266.4" fill="#000"/>
<text x="395.1" y="272.3" font-size="12.3" text-anchor="start" font-weight="bold">AML M2(2)</text>
<line x1="376.5" y1="279.2" x2="391.7" y2="279.2" stroke="#000" stroke-width="1.6"/>
<rect x="381.08" y="276.18" width="6.03" height="6.03" fill="#000"/>
<text x="395.1" y="284.85" font-size="12.3" text-anchor="start" font-weight="bold">AML M4</text>
<line x1="376.5" y1="291.4" x2="391.7" y2="291.4" stroke="#000" stroke-width="1.6"/>
<polygon points="384.1,295.48 388.1,288.34 380.11,288.34" fill="#000"/>
<text x="395.1" y="297.4" font-size="12.3" text-anchor="start" font-weight="bold">ALL L2</text>
<circle cx="377.7" cy="310.4" r="0.9" fill="#000"/><circle cx="391.1" cy="310.4" r="0.9" fill="#000"/>
<circle cx="384.1" cy="310.4" r="2.85" fill="#fff" stroke="#000" stroke-width="1.5"/>
<text x="395.1" y="315" font-size="12.3" text-anchor="start" font-weight="bold">AML M2</text>
<circle cx="377.7" cy="323" r="0.9" fill="#000"/><circle cx="391.1" cy="323" r="0.9" fill="#000"/>
<polygon points="384.1,319.74 387.69,326.18 380.51,326.18" fill="#fff" stroke="#000" stroke-width="1.5"/>
<text x="395.1" y="327.8" font-size="12.3" text-anchor="start" font-weight="bold">AML M4</text>
<circle cx="377.7" cy="335.2" r="0.9" fill="#000"/><circle cx="391.1" cy="335.2" r="0.9" fill="#000"/>
<polygon points="384.1,331.34 387.32,335.2 384.1,339.06 380.88,335.2" fill="#fff" stroke="#000" stroke-width="1.5"/>
<text x="395.1" y="340.8" font-size="12.3" text-anchor="start" font-weight="bold">ALL L2</text>
<line x1="459.3" y1="235.7" x2="459.3" y2="296.4" stroke="#000" stroke-width="1.3"/>
<line x1="459.3" y1="303.1" x2="459.3" y2="339.2" stroke="#000" stroke-width="1.3"/>
<text x="461.5" y="271.1" font-size="12.2" font-weight="bold">HLA-A24<tspan font-size="8.5" dy="-3.2">+</tspan></text>
<text x="461.5" y="318.9" font-size="12.2" font-weight="bold">HLA-A24<tspan font-size="8.5" dy="-3.6">-</tspan></text>
<line x1="71.4" y1="479.36" x2="71.4" y2="485.56" stroke="#000" stroke-width="1.2"/>
<line x1="67.3" y1="479.36" x2="75.5" y2="479.36" stroke="#000" stroke-width="1.2"/>
<rect x="64.9" y="485.56" width="13" height="78.84" fill="url(#h1)" stroke="#000" stroke-width="1.35"/>
<line x1="90.15" y1="497.53" x2="90.15" y2="501.1" stroke="#000" stroke-width="1.2"/>
<line x1="86.05" y1="497.53" x2="94.25" y2="497.53" stroke="#000" stroke-width="1.2"/>
<rect x="83.6" y="501.1" width="13.1" height="63.3" fill="url(#h1)" stroke="#000" stroke-width="1.35"/>
<line x1="108.65" y1="513.63" x2="108.65" y2="517.62" stroke="#000" stroke-width="1.2"/>
<line x1="104.55" y1="513.63" x2="112.75" y2="513.63" stroke="#000" stroke-width="1.2"/>
<rect x="102.1" y="517.62" width="13.1" height="46.78" fill="url(#h1)" stroke="#000" stroke-width="1.35"/>
<line x1="126.6" y1="440.01" x2="126.6" y2="447.99" stroke="#000" stroke-width="1.2"/>
<line x1="122.5" y1="440.01" x2="130.7" y2="440.01" stroke="#000" stroke-width="1.2"/>
<rect x="119.9" y="447.99" width="13.4" height="116.41" fill="url(#h1)" stroke="#000" stroke-width="1.35"/>
<line x1="145.85" y1="461.75" x2="145.85" y2="477.02" stroke="#000" stroke-width="1.2"/>
<line x1="141.75" y1="461.75" x2="149.95" y2="461.75" stroke="#000" stroke-width="1.2"/>
<rect x="139.3" y="477.02" width="13.1" height="87.38" fill="url(#h1)" stroke="#000" stroke-width="1.35"/>
<line x1="171.25" y1="551.05" x2="171.25" y2="554.22" stroke="#000" stroke-width="1.2"/>
<line x1="167.15" y1="551.05" x2="175.35" y2="551.05" stroke="#000" stroke-width="1.2"/>
<rect x="164.6" y="554.22" width="13.3" height="10.18" fill="url(#h1)" stroke="#000" stroke-width="1.35"/>
<rect x="55" y="426.8" width="172.4" height="137.6" fill="none" stroke="#000" stroke-width="1.5"/>
<path d="M55 536.88h4.2M227.4 536.88h-4.2M55 509.36h4.2M227.4 509.36h-4.2M55 481.84h4.2M227.4 481.84h-4.2M55 454.32h4.2M227.4 454.32h-4.2" stroke="#000" stroke-width="1.1" fill="none"/>
<text x="52.8" y="432.8" font-size="13.5" text-anchor="end" font-weight="bold">500</text>
<text x="52.8" y="460" font-size="13.5" text-anchor="end" font-weight="bold">400</text>
<text x="52.8" y="487.4" font-size="13.5" text-anchor="end" font-weight="bold">300</text>
<text x="52.8" y="514.6" font-size="13.5" text-anchor="end" font-weight="bold">200</text>
<text x="52.8" y="542.4" font-size="13.5" text-anchor="end" font-weight="bold">100</text>
<text x="52.8" y="572.2" font-size="13.5" text-anchor="end" font-weight="bold">0</text>
<text x="23.5" y="484.2" font-size="13.8" font-weight="bold" text-anchor="middle" transform="rotate(-90 23.5 484.2)">IFN-<tspan font-family='"Liberation Serif", serif' font-weight="normal" font-size="14.5">γ</tspan><tspan dx="1.6">(pg/mL)</tspan></text>
<text transform="translate(173.6 447) scale(1.13 1)" font-size="12.1" font-weight="bold"><tspan font-weight="normal" font-size="12.6">αβ</tspan>-Tc1</text>
<text x="67.1" y="568.5" font-size="12.1" text-anchor="start" font-weight="bold" transform="rotate(90 67.1 568.5)">AML M1</text>
<text x="85.8" y="568.5" font-size="12.1" text-anchor="start" font-weight="bold" transform="rotate(90 85.8 568.5)">AML M2(1)</text>
<text x="104.7" y="568.5" font-size="12.1" text-anchor="start" font-weight="bold" transform="rotate(90 104.7 568.5)">AML M2(2)</text>
<text x="122.4" y="568.5" font-size="12.1" text-anchor="start" font-weight="bold" transform="rotate(90 122.4 568.5)">AML M4</text>
<text x="141.4" y="568.5" font-size="12.1" text-anchor="start" font-weight="bold" transform="rotate(90 141.4 568.5)">ALL L2</text>
<text x="167.3" y="568.5" font-size="12.1" text-anchor="start" font-weight="bold" transform="rotate(90 167.3 568.5)">AML M2</text>
<text x="186.3" y="568.5" font-size="12.1" text-anchor="start" font-weight="bold" transform="rotate(90 186.3 568.5)">AML M4</text>
<text x="205.3" y="568.5" font-size="12.1" text-anchor="start" font-weight="bold" transform="rotate(90 205.3 568.5)">ALL L2</text>
<text transform="translate(198.6 559.2) rotate(-90) scale(0.93 1)" font-size="15" font-weight="normal" style="stroke-width:.55px">&lt;10</text>
<text transform="translate(217 559.2) rotate(-90) scale(0.93 1)" font-size="15" font-weight="normal" style="stroke-width:.55px">&lt;10</text>
<line x1="67.3" y1="632.7" x2="151.3" y2="632.7" stroke="#000" stroke-width="1.3"/>
<line x1="163.3" y1="632.7" x2="223.3" y2="632.7" stroke="#000" stroke-width="1.3"/>
<text x="97.6" y="647.1" font-size="12" font-weight="bold">A24<tspan font-size="8" dy="-3.6">+</tspan></text>
<text x="182.9" y="647.1" font-size="12" font-weight="bold">A24<tspan font-size="8" dy="-4">-</tspan></text>
<line x1="345.95" y1="459.4" x2="345.95" y2="476.45" stroke="#000" stroke-width="1.2"/>
<line x1="341.85" y1="459.4" x2="350.05" y2="459.4" stroke="#000" stroke-width="1.2"/>
<rect x="339.6" y="476.45" width="12.7" height="87.35" fill="url(#h2)" stroke="#000" stroke-width="1.35"/>
<line x1="364.15" y1="488.81" x2="364.15" y2="502.55" stroke="#000" stroke-width="1.2"/>
<line x1="360.05" y1="488.81" x2="368.25" y2="488.81" stroke="#000" stroke-width="1.2"/>
<rect x="357.8" y="502.55" width="12.7" height="61.25" fill="url(#h2)" stroke="#000" stroke-width="1.35"/>
<line x1="382.2" y1="499.56" x2="382.2" y2="504.47" stroke="#000" stroke-width="1.2"/>
<line x1="378.1" y1="499.56" x2="386.3" y2="499.56" stroke="#000" stroke-width="1.2"/>
<rect x="375.9" y="504.47" width="12.6" height="59.33" fill="url(#h2)" stroke="#000" stroke-width="1.35"/>
<line x1="399.9" y1="441.79" x2="399.9" y2="453.83" stroke="#000" stroke-width="1.2"/>
<line x1="395.8" y1="441.79" x2="404" y2="441.79" stroke="#000" stroke-width="1.2"/>
<rect x="393.3" y="453.83" width="13.2" height="109.97" fill="url(#h2)" stroke="#000" stroke-width="1.35"/>
<line x1="418.25" y1="462.53" x2="418.25" y2="473.81" stroke="#000" stroke-width="1.2"/>
<line x1="414.15" y1="462.53" x2="422.35" y2="462.53" stroke="#000" stroke-width="1.2"/>
<rect x="411.8" y="473.81" width="12.9" height="89.99" fill="url(#h2)" stroke="#000" stroke-width="1.35"/>
<line x1="443.15" y1="540.83" x2="443.15" y2="551.27" stroke="#000" stroke-width="1.2"/>
<line x1="439.05" y1="540.83" x2="447.25" y2="540.83" stroke="#000" stroke-width="1.2"/>
<rect x="436.6" y="551.27" width="13.1" height="12.53" fill="url(#h2)" stroke="#000" stroke-width="1.35"/>
<rect x="330.6" y="424.6" width="168.6" height="139.2" fill="none" stroke="#000" stroke-width="1.5"/>
<path d="M330.6 529h4.2M499.2 529h-4.2M330.6 494.2h4.2M499.2 494.2h-4.2M330.6 459.4h4.2M499.2 459.4h-4.2" stroke="#000" stroke-width="1.1" fill="none"/>
<text x="327.4" y="431.9" font-size="13.5" text-anchor="end" font-weight="bold">400</text>
<text x="327.4" y="465.4" font-size="13.5" text-anchor="end" font-weight="bold">300</text>
<text x="327.4" y="499.2" font-size="13.5" text-anchor="end" font-weight="bold">200</text>
<text x="327.4" y="533.7" font-size="13.5" text-anchor="end" font-weight="bold">100</text>
<text x="327.4" y="572.8" font-size="13.5" text-anchor="end" font-weight="bold">0</text>
<text x="298.5" y="482.8" font-size="13.8" font-weight="bold" text-anchor="middle" transform="rotate(-90 298.5 482.8)">IFN-<tspan font-family='"Liberation Serif", serif' font-weight="normal" font-size="14.5">γ</tspan><tspan dx="1.6">(pg/mL)</tspan></text>
<text transform="translate(444.2 445) scale(1.13 1)" font-size="12.1" font-weight="bold"><tspan font-weight="normal" font-size="12.6">αβ</tspan>-Th1</text>
<text x="340.6" y="567.9" font-size="12.1" text-anchor="start" font-weight="bold" transform="rotate(90 340.6 567.9)">AML M1</text>
<text x="359.2" y="567.9" font-size="12.1" text-anchor="start" font-weight="bold" transform="rotate(90 359.2 567.9)">AML M2(1)</text>
<text x="377.3" y="567.9" font-size="12.1" text-anchor="start" font-weight="bold" transform="rotate(90 377.3 567.9)">AML M2(2)</text>
<text x="396.7" y="567.9" font-size="12.1" text-anchor="start" font-weight="bold" transform="rotate(90 396.7 567.9)">AML M4</text>
<text x="415.7" y="567.9" font-size="12.1" text-anchor="start" font-weight="bold" transform="rotate(90 415.7 567.9)">ALL L2</text>
<text x="439.1" y="567.9" font-size="12.1" text-anchor="start" font-weight="bold" transform="rotate(90 439.1 567.9)">AML M2</text>
<text x="458.3" y="567.9" font-size="12.1" text-anchor="start" font-weight="bold" transform="rotate(90 458.3 567.9)">AML M4</text>
<text x="477.7" y="567.9" font-size="12.1" text-anchor="start" font-weight="bold" transform="rotate(90 477.7 567.9)">ALL L2</text>
<text transform="translate(471.2 558.6) rotate(-90) scale(0.93 1)" font-size="15" font-weight="normal" style="stroke-width:.55px">&lt;10</text>
<text transform="translate(489.4 558.6) rotate(-90) scale(0.93 1)" font-size="15" font-weight="normal" style="stroke-width:.55px">&lt;10</text>
<line x1="343" y1="632.1" x2="427.5" y2="632.1" stroke="#000" stroke-width="1.3"/>
<line x1="439.3" y1="632.1" x2="499.5" y2="632.1" stroke="#000" stroke-width="1.3"/>
<text x="374.2" y="646.5" font-size="12" font-weight="bold">A24<tspan font-size="8" dy="-3.6">+</tspan></text>
<text x="458.6" y="646.5" font-size="12" font-weight="bold">A24<tspan font-size="8" dy="-4">-</tspan></text>
<rect x="50" y="672.6" width="127.4" height="132.4" fill="none" stroke="#000" stroke-width="1.5"/>
<path d="M50 786.09h3.8M177.4 786.09h-3.8M50 767.17h3.8M177.4 767.17h-3.8M50 748.26h3.8M177.4 748.26h-3.8M50 729.34h3.8M177.4 729.34h-3.8M50 710.43h3.8M177.4 710.43h-3.8M50 691.51h3.8M177.4 691.51h-3.8" stroke="#000" stroke-width="1.1" fill="none"/>
<text x="47.4" y="680.65" font-size="13.8" text-anchor="end" font-weight="bold">70</text>
<text x="47.4" y="699.05" font-size="13.8" text-anchor="end" font-weight="bold">60</text>
<text x="47.4" y="717.15" font-size="13.8" text-anchor="end" font-weight="bold">50</text>
<text x="47.4" y="735.35" font-size="13.8" text-anchor="end" font-weight="bold">40</text>
<text x="47.4" y="754.15" font-size="13.8" text-anchor="end" font-weight="bold">30</text>
<text x="47.4" y="772.55" font-size="13.8" text-anchor="end" font-weight="bold">20</text>
<text x="47.4" y="791.55" font-size="13.8" text-anchor="end" font-weight="bold">10</text>
<text x="47.4" y="809.95" font-size="13.8" text-anchor="end" font-weight="bold">0</text>
<text x="29.2" y="738" font-size="14" text-anchor="middle" font-weight="bold" transform="rotate(-90 29.2 738)">% Cytotoxicity</text>
<text x="73.7" y="823.9" font-size="13.3" text-anchor="middle" font-weight="bold">20</text>
<text x="117.4" y="823.9" font-size="13.3" text-anchor="middle" font-weight="bold">10</text>
<text x="157.9" y="823.9" font-size="13.3" text-anchor="middle" font-weight="bold">5</text>
<text x="114.4" y="836.4" font-size="13.3" text-anchor="middle" font-weight="bold">E/T</text>
<text transform="translate(125 691.4) scale(1.13 1)" font-size="12.1" font-weight="bold"><tspan font-weight="normal" font-size="12.6">αβ</tspan>-Tc1</text>
<polyline points="71.4,801.6 115.3,802.16 157.4,801.41" fill="none" stroke="#000" stroke-width="1.75" stroke-dasharray="1.6 1.5"/>
<circle cx="71.4" cy="801.6" r="3.78" fill="#fff" stroke="#000" stroke-width="1.5"/>
<circle cx="115.3" cy="802.16" r="3.78" fill="#fff" stroke="#000" stroke-width="1.5"/>
<circle cx="157.4" cy="801.41" r="3.78" fill="#fff" stroke="#000" stroke-width="1.5"/>
<polyline points="71.4,802.54 115.3,799.33 157.4,804.05" fill="none" stroke="#000" stroke-width="1.75" stroke-dasharray="1.6 1.5"/>
<polygon points="71.4,797.42 76.16,805.96 66.64,805.96" fill="#fff" stroke="#000" stroke-width="1.5"/>
<polygon points="115.3,794.2 120.06,802.74 110.54,802.74" fill="#fff" stroke="#000" stroke-width="1.5"/>
<polygon points="157.4,798.93 162.16,807.47 152.64,807.47" fill="#fff" stroke="#000" stroke-width="1.5"/>
<polyline points="71.4,797.43 115.3,804.05 157.4,802.73" fill="none" stroke="#000" stroke-width="1.75" stroke-dasharray="1.6 1.5"/>
<polygon points="71.4,792.31 75.67,797.43 71.4,802.56 67.13,797.43" fill="#fff" stroke="#000" stroke-width="1.5"/>
<polygon points="115.3,798.93 119.57,804.05 115.3,809.18 111.03,804.05" fill="#fff" stroke="#000" stroke-width="1.5"/>
<polygon points="157.4,797.61 161.67,802.73 157.4,807.85 153.13,802.73" fill="#fff" stroke="#000" stroke-width="1.5"/>
<polyline points="71.4,700.03 115.3,719.13 157.4,744.47" fill="none" stroke="#000" stroke-width="1.75"/>
<circle cx="71.4" cy="700.03" r="4.39" fill="#000"/>
<circle cx="115.3" cy="719.13" r="4.39" fill="#000"/>
<circle cx="157.4" cy="744.47" r="4.39" fill="#000"/>
<polyline points="71.4,692.27 115.3,707.02 157.4,721.4" fill="none" stroke="#000" stroke-width="1.75"/>
<polygon points="71.4,686.78 77.2,696.17 65.61,696.17" fill="#000"/>
<polygon points="115.3,701.53 121.09,710.93 109.5,710.93" fill="#000"/>
<polygon points="157.4,715.91 163.19,725.3 151.61,725.3" fill="#000"/>
<line x1="184.2" y1="681.7" x2="200" y2="681.7" stroke="#000" stroke-width="1.5"/>
<circle cx="192.2" cy="681.7" r="3.42" fill="#000"/>
<text x="204.2" y="686.2" font-size="12.35" text-anchor="start" font-weight="bold">AML(1)</text>
<line x1="184.2" y1="693.9" x2="200" y2="693.9" stroke="#000" stroke-width="1.5"/>
<polygon points="192.2,689.62 196.71,696.94 187.69,696.94" fill="#000"/>
<text x="204.2" y="698.9" font-size="12.35" text-anchor="start" font-weight="bold">AML(2)</text>
<circle cx="185.2" cy="710.2" r="0.85" fill="#000"/><circle cx="199.2" cy="710.2" r="0.85" fill="#000"/>
<circle cx="192.2" cy="710.2" r="2.73" fill="#fff" stroke="#000" stroke-width="1.5"/>
<text x="203.4" y="715.1" font-size="12.35" text-anchor="start" font-weight="bold">ML (DLBL)</text>
<circle cx="185.2" cy="723" r="0.85" fill="#000"/><circle cx="199.2" cy="723" r="0.85" fill="#000"/>
<polygon points="192.2,719.3 195.63,725.46 188.77,725.46" fill="#fff" stroke="#000" stroke-width="1.5"/>
<text x="203.4" y="727.9" font-size="12.35" text-anchor="start" font-weight="bold">ML (Burkitt)(1)</text>
<circle cx="185.2" cy="735" r="0.85" fill="#000"/><circle cx="199.2" cy="735" r="0.85" fill="#000"/>
<polygon points="192.2,731.3 195.28,735 192.2,738.7 189.12,735" fill="#fff" stroke="#000" stroke-width="1.5"/>
<text x="203.4" y="740.5" font-size="12.35" text-anchor="start" font-weight="bold">ML (Burkitt)(2)</text>
<rect x="320.8" y="675.7" width="128.5" height="131.1" fill="none" stroke="#000" stroke-width="1.5"/>
<path d="M320.8 784.95h4.4M449.3 784.95h-4.4M320.8 763.1h4.4M449.3 763.1h-4.4M320.8 741.25h4.4M449.3 741.25h-4.4M320.8 719.4h4.4M449.3 719.4h-4.4M320.8 697.55h4.4M449.3 697.55h-4.4" stroke="#000" stroke-width="1.1" fill="none"/>
<text x="319.2" y="682.55" font-size="13.8" text-anchor="end" font-weight="bold">12</text>
<text x="319.2" y="703.15" font-size="13.8" text-anchor="end" font-weight="bold">10</text>
<text x="317.8" y="724.75" font-size="13.8" text-anchor="end" font-weight="bold">8</text>
<text x="317.8" y="746.75" font-size="13.8" text-anchor="end" font-weight="bold">6</text>
<text x="317.8" y="768.55" font-size="13.8" text-anchor="end" font-weight="bold">4</text>
<text x="317.8" y="790.35" font-size="13.8" text-anchor="end" font-weight="bold">2</text>
<text x="317.8" y="811.55" font-size="13.8" text-anchor="end" font-weight="bold">0</text>
<text x="301.2" y="739.8" font-size="14" text-anchor="middle" font-weight="bold" transform="rotate(-90 301.2 739.8)">% Cytotoxicity</text>
<text x="343.7" y="825.6" font-size="13.3" text-anchor="middle" font-weight="bold">20</text>
<text x="387.2" y="825.6" font-size="13.3" text-anchor="middle" font-weight="bold">10</text>
<text x="428.3" y="825.6" font-size="13.3" text-anchor="middle" font-weight="bold">5</text>
<text x="385.4" y="839.3" font-size="13.3" text-anchor="middle" font-weight="bold">E/T</text>
<text transform="translate(397 695) scale(1.13 1)" font-size="12.1" font-weight="bold"><tspan font-weight="normal" font-size="12.6">αβ</tspan>-Th1</text>
<polyline points="342.6,805.71 386.3,802.43 428.3,798.06" fill="none" stroke="#000" stroke-width="1.75" stroke-dasharray="1.6 1.5"/>
<circle cx="342.6" cy="805.71" r="3.78" fill="#fff" stroke="#000" stroke-width="1.5"/>
<circle cx="386.3" cy="802.43" r="3.78" fill="#fff" stroke="#000" stroke-width="1.5"/>
<circle cx="428.3" cy="798.06" r="3.78" fill="#fff" stroke="#000" stroke-width="1.5"/>
<polyline points="342.6,807.35 386.3,807.89 428.3,806.8" fill="none" stroke="#000" stroke-width="1.75" stroke-dasharray="1.6 1.5"/>
<polygon points="342.6,802.22 347.36,810.76 337.84,810.76" fill="#fff" stroke="#000" stroke-width="1.5"/>
<polygon points="386.3,802.77 391.06,811.31 381.54,811.31" fill="#fff" stroke="#000" stroke-width="1.5"/>
<polygon points="428.3,801.68 433.06,810.22 423.54,810.22" fill="#fff" stroke="#000" stroke-width="1.5"/>
<polyline points="342.6,803.52 386.3,806.8 428.3,796.97" fill="none" stroke="#000" stroke-width="1.75" stroke-dasharray="1.6 1.5"/>
<polygon points="342.6,798.4 346.87,803.52 342.6,808.65 338.33,803.52" fill="#fff" stroke="#000" stroke-width="1.5"/>
<polygon points="386.3,801.68 390.57,806.8 386.3,811.92 382.03,806.8" fill="#fff" stroke="#000" stroke-width="1.5"/>
<polygon points="428.3,791.84 432.57,796.97 428.3,802.09 424.03,796.97" fill="#fff" stroke="#000" stroke-width="1.5"/>
<polyline points="342.6,691.54 386.3,710.11 428.3,745.62" fill="none" stroke="#000" stroke-width="1.75"/>
<circle cx="342.6" cy="691.54" r="4.39" fill="#000"/>
<circle cx="386.3" cy="710.11" r="4.39" fill="#000"/>
<circle cx="428.3" cy="745.62" r="4.39" fill="#000"/>
<polyline points="342.6,687.17 386.3,697 428.3,710.66" fill="none" stroke="#000" stroke-width="1.75"/>
<polygon points="342.6,681.68 348.4,691.08 336.81,691.08" fill="#000"/>
<polygon points="386.3,691.51 392.1,700.91 380.5,700.91" fill="#000"/>
<polygon points="428.3,705.17 434.1,714.56 422.5,714.56" fill="#000"/>
</svg></body></html>
